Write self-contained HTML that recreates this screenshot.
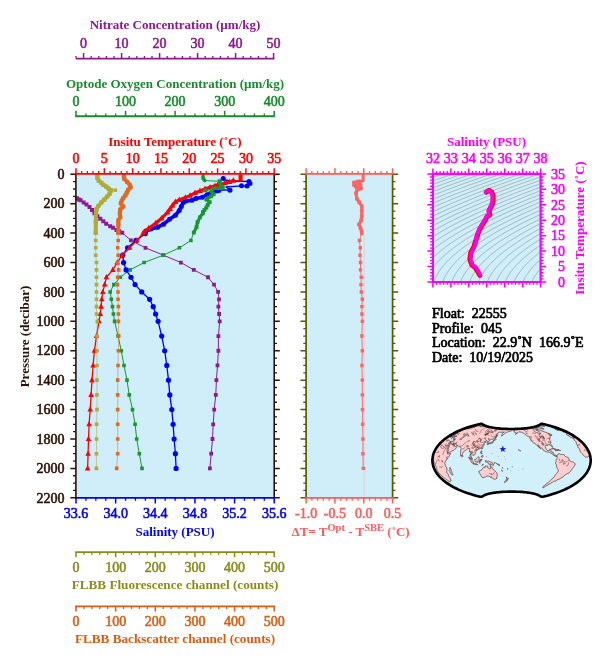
<!DOCTYPE html><html><head><meta charset="utf-8"><title>Float 22555 Profile 045</title>
<style>html,body{margin:0;padding:0;background:#fff;}svg{display:block;}text{font-family:'Liberation Serif', 'Times New Roman', serif;}</style></head><body>
<svg width="609" height="663" viewBox="0 0 609 663">
<rect width="609" height="663" fill="#ffffff"/>
<text x="175" y="29.2" fill="#8c1a8c" font-size="13" font-weight="bold" text-anchor="middle" >Nitrate Concentration (&#181;m/kg)</text>
<text x="83.6" y="48.3" fill="#8c1a8c" font-size="14" font-weight="normal" text-anchor="middle" stroke="#8c1a8c" stroke-width="0.55" >0</text>
<text x="121.6" y="48.3" fill="#8c1a8c" font-size="14" font-weight="normal" text-anchor="middle" stroke="#8c1a8c" stroke-width="0.55" >10</text>
<text x="159.6" y="48.3" fill="#8c1a8c" font-size="14" font-weight="normal" text-anchor="middle" stroke="#8c1a8c" stroke-width="0.55" >20</text>
<text x="197.6" y="48.3" fill="#8c1a8c" font-size="14" font-weight="normal" text-anchor="middle" stroke="#8c1a8c" stroke-width="0.55" >30</text>
<text x="235.6" y="48.3" fill="#8c1a8c" font-size="14" font-weight="normal" text-anchor="middle" stroke="#8c1a8c" stroke-width="0.55" >40</text>
<text x="273.6" y="48.3" fill="#8c1a8c" font-size="14" font-weight="normal" text-anchor="middle" stroke="#8c1a8c" stroke-width="0.55" >50</text>
<line x1="76" y1="58.6" x2="274.4" y2="58.6" stroke="#8c1a8c" stroke-width="1.9"/>
<path d="M83.6 58.6v-5.5M121.6 58.6v-5.5M159.6 58.6v-5.5M197.6 58.6v-5.5M235.6 58.6v-5.5M273.6 58.6v-5.5" stroke="#8c1a8c" stroke-width="1.5" fill="none"/>
<path d="M76 58.6v-2.6M91.2 58.6v-2.6M98.8 58.6v-2.6M106.4 58.6v-2.6M114 58.6v-2.6M129.2 58.6v-2.6M136.8 58.6v-2.6M144.4 58.6v-2.6M152 58.6v-2.6M167.2 58.6v-2.6M174.8 58.6v-2.6M182.4 58.6v-2.6M190 58.6v-2.6M205.2 58.6v-2.6M212.8 58.6v-2.6M220.4 58.6v-2.6M228 58.6v-2.6M243.2 58.6v-2.6M250.8 58.6v-2.6M258.4 58.6v-2.6M266 58.6v-2.6" stroke="#8c1a8c" stroke-width="1.3" fill="none"/>
<text x="175" y="87.6" fill="#188c2c" font-size="13" font-weight="bold" text-anchor="middle" >Optode Oxygen Concentration (&#181;m/kg)</text>
<text x="76" y="106.3" fill="#188c2c" font-size="14" font-weight="normal" text-anchor="middle" stroke="#188c2c" stroke-width="0.55" >0</text>
<text x="125.55" y="106.3" fill="#188c2c" font-size="14" font-weight="normal" text-anchor="middle" stroke="#188c2c" stroke-width="0.55" >100</text>
<text x="175.1" y="106.3" fill="#188c2c" font-size="14" font-weight="normal" text-anchor="middle" stroke="#188c2c" stroke-width="0.55" >200</text>
<text x="224.65" y="106.3" fill="#188c2c" font-size="14" font-weight="normal" text-anchor="middle" stroke="#188c2c" stroke-width="0.55" >300</text>
<text x="274.2" y="106.3" fill="#188c2c" font-size="14" font-weight="normal" text-anchor="middle" stroke="#188c2c" stroke-width="0.55" >400</text>
<line x1="75.2" y1="116.2" x2="275" y2="116.2" stroke="#188c2c" stroke-width="1.9"/>
<path d="M76 116.2v-5.5M125.55 116.2v-5.5M175.1 116.2v-5.5M224.65 116.2v-5.5M274.2 116.2v-5.5" stroke="#188c2c" stroke-width="1.5" fill="none"/>
<path d="M85.91 116.2v-2.6M95.82 116.2v-2.6M105.73 116.2v-2.6M115.64 116.2v-2.6M135.46 116.2v-2.6M145.37 116.2v-2.6M155.28 116.2v-2.6M165.19 116.2v-2.6M185.01 116.2v-2.6M194.92 116.2v-2.6M204.83 116.2v-2.6M214.74 116.2v-2.6M234.56 116.2v-2.6M244.47 116.2v-2.6M254.38 116.2v-2.6M264.29 116.2v-2.6" stroke="#188c2c" stroke-width="1.3" fill="none"/>
<text x="175" y="145.8" fill="#ff0000" font-size="13" font-weight="bold" text-anchor="middle" >Insitu Temperature (&#730;C)</text>
<text x="76" y="163.1" fill="#ff0000" font-size="14" font-weight="normal" text-anchor="middle" stroke="#ff0000" stroke-width="0.55" >0</text>
<text x="104.31" y="163.1" fill="#ff0000" font-size="14" font-weight="normal" text-anchor="middle" stroke="#ff0000" stroke-width="0.55" >5</text>
<text x="132.63" y="163.1" fill="#ff0000" font-size="14" font-weight="normal" text-anchor="middle" stroke="#ff0000" stroke-width="0.55" >10</text>
<text x="160.94" y="163.1" fill="#ff0000" font-size="14" font-weight="normal" text-anchor="middle" stroke="#ff0000" stroke-width="0.55" >15</text>
<text x="189.26" y="163.1" fill="#ff0000" font-size="14" font-weight="normal" text-anchor="middle" stroke="#ff0000" stroke-width="0.55" >20</text>
<text x="217.57" y="163.1" fill="#ff0000" font-size="14" font-weight="normal" text-anchor="middle" stroke="#ff0000" stroke-width="0.55" >25</text>
<text x="245.89" y="163.1" fill="#ff0000" font-size="14" font-weight="normal" text-anchor="middle" stroke="#ff0000" stroke-width="0.55" >30</text>
<text x="274.2" y="163.1" fill="#ff0000" font-size="14" font-weight="normal" text-anchor="middle" stroke="#ff0000" stroke-width="0.55" >35</text>
<rect x="76.0" y="173.8" width="198.2" height="324.1" fill="#cfeef9"/>
<g>
<polyline points="76.9,198.2 78.8,199.4 80.6,200.3 83.6,202.5 86.5,204.5 89.5,207 92,209.9 94.4,213.3 97.4,216.3 100.3,218.8 103.3,221.2 106.2,223.7 110.2,226.2 113.1,227.8 116.5,230 119.3,231.3 122.2,232.8 131,240.47 145.5,247.82 163.3,255.18 180.9,262.53 193.8,269.88 208,277.24 214,284.59 218.1,291.94 219,299.29 218.4,306.64 219.1,314 219.7,321.35 218.4,336.06 218.4,350.76 217.5,365.47 216.4,380.17 215.8,394.88 214.2,409.58 213.2,424.28 212.5,438.99 211.2,453.69 209.9,468.4" fill="none" stroke="#8e1a92" stroke-width="1.0" stroke-linejoin="round" stroke-linecap="round" opacity="1.0"/>
<path d="M74.9 196.2h4v4h-4zM76.8 197.4h4v4h-4zM78.6 198.3h4v4h-4zM81.6 200.5h4v4h-4zM84.5 202.5h4v4h-4zM87.5 205h4v4h-4zM90 207.9h4v4h-4zM92.4 211.3h4v4h-4zM95.4 214.3h4v4h-4zM98.3 216.8h4v4h-4zM101.3 219.2h4v4h-4zM104.2 221.7h4v4h-4zM108.2 224.2h4v4h-4zM111.1 225.8h4v4h-4zM114.5 228h4v4h-4zM117.3 229.3h4v4h-4zM120.2 230.8h4v4h-4z" fill="#8e1a92"/>
<path d="M129.1 238.57h3.8v3.8h-3.8zM143.6 245.92h3.8v3.8h-3.8zM161.4 253.28h3.8v3.8h-3.8zM179 260.63h3.8v3.8h-3.8zM191.9 267.98h3.8v3.8h-3.8zM206.1 275.34h3.8v3.8h-3.8zM212.1 282.69h3.8v3.8h-3.8zM216.2 290.04h3.8v3.8h-3.8zM217.1 297.39h3.8v3.8h-3.8zM216.5 304.75h3.8v3.8h-3.8zM217.2 312.1h3.8v3.8h-3.8zM217.8 319.45h3.8v3.8h-3.8zM216.5 334.16h3.8v3.8h-3.8zM216.5 348.86h3.8v3.8h-3.8zM215.6 363.57h3.8v3.8h-3.8zM214.5 378.27h3.8v3.8h-3.8zM213.9 392.98h3.8v3.8h-3.8zM212.3 407.68h3.8v3.8h-3.8zM211.3 422.38h3.8v3.8h-3.8zM210.6 437.09h3.8v3.8h-3.8zM209.3 451.8h3.8v3.8h-3.8zM208 466.5h3.8v3.8h-3.8z" fill="#8e1a92"/>
<polyline points="193.8,232.6 190.9,240.47 179.4,247.82 163.3,255.18 144.1,262.53 130.2,269.88 120.3,277.24 113.8,284.59 110.2,291.94 111.3,299.29 112.5,306.64 113.4,314 114.6,321.35 118,336.06 121.3,350.76 124,365.47 127,380.17 129.2,394.88 132.5,409.58 135.1,424.28 136.7,438.99 139.3,453.69 142,468.4" fill="none" stroke="#1a9630" stroke-width="1.0" stroke-linejoin="round" stroke-linecap="round" opacity="1.0"/>
<path d="M189.1 238.67h3.6v3.6h-3.6zM177.6 246.02h3.6v3.6h-3.6zM161.5 253.38h3.6v3.6h-3.6zM142.3 260.73h3.6v3.6h-3.6zM128.4 268.08h3.6v3.6h-3.6zM118.5 275.44h3.6v3.6h-3.6zM112 282.79h3.6v3.6h-3.6zM108.4 290.14h3.6v3.6h-3.6zM109.5 297.49h3.6v3.6h-3.6zM110.7 304.84h3.6v3.6h-3.6zM111.6 312.2h3.6v3.6h-3.6zM112.8 319.55h3.6v3.6h-3.6zM116.2 334.25h3.6v3.6h-3.6zM119.5 348.96h3.6v3.6h-3.6zM122.2 363.67h3.6v3.6h-3.6zM125.2 378.37h3.6v3.6h-3.6zM127.4 393.07h3.6v3.6h-3.6zM130.7 407.78h3.6v3.6h-3.6zM133.3 422.48h3.6v3.6h-3.6zM134.9 437.19h3.6v3.6h-3.6zM137.5 451.89h3.6v3.6h-3.6zM140.2 466.6h3.6v3.6h-3.6z" fill="#1a9630"/>
<polyline points="222.6,176.5 223.5,179.5 228,180.5 232,181 249,181.5 250,183.5 247,186 241.5,185.8 226,187 230,190.2 224,190 218.9,190.4 216.9,191 211.7,192.7 207.1,194.7 202.5,197.3 195.9,198.6 192,200.2 186.2,201 183.3,202.5 181.3,206.5 179.3,210.4 175.4,215.3 169.5,219.3 163.6,224.2 157.7,227.2 150.8,229.1 145.9,231.1 145.3,233.8 136,240.47 127.6,247.82 122.7,255.18 123.6,262.53 126.1,269.88 131,277.24 135.1,284.59 141.7,291.94 149.6,299.29 153.2,306.64 155.6,314 158.1,321.35 161.7,336.06 164.7,350.76 166.8,365.47 168.5,380.17 169.8,394.88 171.8,409.58 173.1,424.28 174.1,438.99 175.4,453.69 176.1,468.4" fill="none" stroke="#0000ff" stroke-width="1.3" stroke-linejoin="round" stroke-linecap="round" opacity="1.0"/>
<polyline points="218.9,190.4 216.9,191 211.7,192.7 207.1,194.7 202.5,197.3 195.9,198.6 192,200.2 186.2,201 183.3,202.5 181.3,206.5 179.3,210.4 175.4,215.3 169.5,219.3 163.6,224.2 157.7,227.2 150.8,229.1 145.9,231.1 145.3,233.8" fill="none" stroke="#0000ff" stroke-width="3.6" stroke-linejoin="round" stroke-linecap="round" opacity="1.0"/>
<circle cx="249" cy="181.5" r="2.5" fill="#0000ff"/>
<circle cx="250" cy="183.5" r="2.5" fill="#0000ff"/>
<circle cx="247" cy="186" r="2.5" fill="#0000ff"/>
<circle cx="241.5" cy="185.8" r="2.5" fill="#0000ff"/>
<circle cx="230" cy="190.2" r="2.5" fill="#0000ff"/>
<circle cx="223.2" cy="178.5" r="2.5" fill="#0000ff"/>
<circle cx="218.9" cy="190.4" r="2.5" fill="#0000ff"/>
<circle cx="216.9" cy="191" r="2.5" fill="#0000ff"/>
<circle cx="211.7" cy="192.7" r="2.5" fill="#0000ff"/>
<circle cx="207.1" cy="194.7" r="2.5" fill="#0000ff"/>
<circle cx="202.5" cy="197.3" r="2.5" fill="#0000ff"/>
<circle cx="195.9" cy="198.6" r="2.5" fill="#0000ff"/>
<circle cx="192" cy="200.2" r="2.5" fill="#0000ff"/>
<circle cx="186.2" cy="201" r="2.5" fill="#0000ff"/>
<circle cx="183.3" cy="202.5" r="2.5" fill="#0000ff"/>
<circle cx="181.3" cy="206.5" r="2.5" fill="#0000ff"/>
<circle cx="179.3" cy="210.4" r="2.5" fill="#0000ff"/>
<circle cx="175.4" cy="215.3" r="2.5" fill="#0000ff"/>
<circle cx="169.5" cy="219.3" r="2.5" fill="#0000ff"/>
<circle cx="163.6" cy="224.2" r="2.5" fill="#0000ff"/>
<circle cx="157.7" cy="227.2" r="2.5" fill="#0000ff"/>
<circle cx="150.8" cy="229.1" r="2.5" fill="#0000ff"/>
<circle cx="145.9" cy="231.1" r="2.5" fill="#0000ff"/>
<circle cx="145.3" cy="233.8" r="2.5" fill="#0000ff"/>
<circle cx="136" cy="240.47" r="2.6" fill="#0000ff"/>
<circle cx="127.6" cy="247.82" r="2.6" fill="#0000ff"/>
<circle cx="122.7" cy="255.18" r="2.6" fill="#0000ff"/>
<circle cx="123.6" cy="262.53" r="2.6" fill="#0000ff"/>
<circle cx="126.1" cy="269.88" r="2.6" fill="#0000ff"/>
<circle cx="131" cy="277.24" r="2.6" fill="#0000ff"/>
<circle cx="135.1" cy="284.59" r="2.6" fill="#0000ff"/>
<circle cx="141.7" cy="291.94" r="2.6" fill="#0000ff"/>
<circle cx="149.6" cy="299.29" r="2.6" fill="#0000ff"/>
<circle cx="153.2" cy="306.64" r="2.6" fill="#0000ff"/>
<circle cx="155.6" cy="314" r="2.6" fill="#0000ff"/>
<circle cx="158.1" cy="321.35" r="2.6" fill="#0000ff"/>
<circle cx="161.7" cy="336.06" r="2.6" fill="#0000ff"/>
<circle cx="164.7" cy="350.76" r="2.6" fill="#0000ff"/>
<circle cx="166.8" cy="365.47" r="2.6" fill="#0000ff"/>
<circle cx="168.5" cy="380.17" r="2.6" fill="#0000ff"/>
<circle cx="169.8" cy="394.88" r="2.6" fill="#0000ff"/>
<circle cx="171.8" cy="409.58" r="2.6" fill="#0000ff"/>
<circle cx="173.1" cy="424.28" r="2.6" fill="#0000ff"/>
<circle cx="174.1" cy="438.99" r="2.6" fill="#0000ff"/>
<circle cx="175.4" cy="453.69" r="2.6" fill="#0000ff"/>
<circle cx="176.1" cy="468.4" r="2.6" fill="#0000ff"/>
<polyline points="240.5,175.5 240.5,178 240.5,180.8 233.4,180.6 229.4,181.9 224.8,183.2 217.6,185.1 215,185.8 210,187.3 205,189 200,191 195,193 190,195.6 185.3,197.6 179.3,199.9 175.4,202 172.5,205.5 170,209 167.5,212.4 161.6,218.3 155.7,223.2 148.8,228.2 143.3,232.8 136.9,240.47 129.6,247.82 122.2,255.18 117.2,262.53 112.8,269.88 106.4,277.24 104.7,284.59 102.8,291.94 101.8,299.29 101.1,306.64 100.3,314 99,321.35 96.5,336.06 94.4,350.76 93.1,365.47 92,380.17 91.1,394.88 90.2,409.58 89.1,424.28 88.5,438.99 88.1,453.69 87.6,468.4" fill="none" stroke="#ff0000" stroke-width="1.3" stroke-linejoin="round" stroke-linecap="round" opacity="1.0"/>
<polyline points="233.4,180.6 229.4,181.9 224.8,183.2 217.6,185.1 215,185.8 210,187.3 205,189 200,191 195,193 190,195.6 185.3,197.6 179.3,199.9 175.4,202 172.5,205.5 170,209 167.5,212.4 161.6,218.3 155.7,223.2 148.8,228.2 143.3,232.8" fill="none" stroke="#ff0000" stroke-width="3.2" stroke-linejoin="round" stroke-linecap="round" opacity="1.0"/>
<rect x="238.6" y="174.6" width="4" height="7" fill="#ff0000"/>
<path d="M233.4 177.18L236.3 182.69L230.5 182.69zM229.4 178.48L232.3 183.99L226.5 183.99zM224.8 179.78L227.7 185.29L221.9 185.29zM217.6 181.68L220.5 187.19L214.7 187.19zM215 182.38L217.9 187.89L212.1 187.89zM210 183.88L212.9 189.39L207.1 189.39zM205 185.58L207.9 191.09L202.1 191.09zM200 187.58L202.9 193.09L197.1 193.09zM195 189.58L197.9 195.09L192.1 195.09zM190 192.18L192.9 197.69L187.1 197.69zM185.3 194.18L188.2 199.69L182.4 199.69zM179.3 196.48L182.2 201.99L176.4 201.99zM175.4 198.58L178.3 204.09L172.5 204.09zM172.5 202.08L175.4 207.59L169.6 207.59zM170 205.58L172.9 211.09L167.1 211.09zM167.5 208.98L170.4 214.49L164.6 214.49zM161.6 214.88L164.5 220.39L158.7 220.39zM155.7 219.78L158.6 225.29L152.8 225.29zM148.8 224.78L151.7 230.29L145.9 230.29zM143.3 229.38L146.2 234.89L140.4 234.89z" fill="#ff0000"/>
<path d="M136.9 237.17L139.7 242.49L134.1 242.49zM129.6 244.53L132.4 249.85L126.8 249.85zM122.2 251.88L125 257.2L119.4 257.2zM117.2 259.23L120 264.55L114.4 264.55zM112.8 266.58L115.6 271.9L110 271.9zM106.4 273.94L109.2 279.26L103.6 279.26zM104.7 281.29L107.5 286.61L101.9 286.61zM102.8 288.64L105.6 293.96L100 293.96zM101.8 295.99L104.6 301.31L99 301.31zM101.1 303.35L103.9 308.67L98.3 308.67zM100.3 310.7L103.1 316.02L97.5 316.02zM99 318.05L101.8 323.37L96.2 323.37zM96.5 332.76L99.3 338.08L93.7 338.08zM94.4 347.46L97.2 352.78L91.6 352.78zM93.1 362.17L95.9 367.49L90.3 367.49zM92 376.87L94.8 382.19L89.2 382.19zM91.1 391.58L93.9 396.9L88.3 396.9zM90.2 406.28L93 411.6L87.4 411.6zM89.1 420.99L91.9 426.31L86.3 426.31zM88.5 435.69L91.3 441.01L85.7 441.01zM88.1 450.4L90.9 455.72L85.3 455.72zM87.6 465.1L90.4 470.42L84.8 470.42z" fill="#ff0000"/>
<polyline points="203.1,175.9 203.1,178.6 204.8,180.5" fill="none" stroke="#1a9630" stroke-width="3.6" stroke-linejoin="round" stroke-linecap="round" opacity="1.0"/>
<polyline points="203.1,175.9 203.1,178.6 204.8,180.5 212,181 219.6,181.2 219.9,182.5 220.9,185.1 222.8,187.1 219.9,188.4 213.6,188.4 205.1,190.4 211.7,191.7 213.6,194.3 211,196.3 207.4,198.3 206.4,199.6 209.7,202.2 207.7,204.8 206.4,207.5 204.4,210.1 203.1,212 202.9,213.3 199.9,217.3 197.5,222.2 196.5,227.1 193.8,232.6" fill="none" stroke="#1a9630" stroke-width="1.0" stroke-linejoin="round" stroke-linecap="round" opacity="1.0"/>
<polyline points="219.6,181.2 219.9,182.5 220.9,185.1 222.8,187.1 219.9,188.4 213.6,188.4" fill="none" stroke="#1a9630" stroke-width="3.2" stroke-linejoin="round" stroke-linecap="round" opacity="1.0"/>
<polyline points="211.7,191.7 213.6,194.3 211,196.3 207.4,198.3 206.4,199.6 209.7,202.2 207.7,204.8 206.4,207.5 204.4,210.1 203.1,212 202.9,213.3 199.9,217.3 197.5,222.2 196.5,227.1 193.8,232.6" fill="none" stroke="#1a9630" stroke-width="3.2" stroke-linejoin="round" stroke-linecap="round" opacity="1.0"/>
<path d="M217.7 179.3h3.8v3.8h-3.8zM218 180.6h3.8v3.8h-3.8zM219 183.2h3.8v3.8h-3.8zM220.9 185.2h3.8v3.8h-3.8zM218 186.5h3.8v3.8h-3.8zM211.7 186.5h3.8v3.8h-3.8zM203.2 188.5h3.8v3.8h-3.8zM209.8 189.8h3.8v3.8h-3.8zM211.7 192.4h3.8v3.8h-3.8zM209.1 194.4h3.8v3.8h-3.8zM205.5 196.4h3.8v3.8h-3.8zM204.5 197.7h3.8v3.8h-3.8zM207.8 200.3h3.8v3.8h-3.8zM205.8 202.9h3.8v3.8h-3.8zM204.5 205.6h3.8v3.8h-3.8zM202.5 208.2h3.8v3.8h-3.8zM201.2 210.1h3.8v3.8h-3.8zM201 211.4h3.8v3.8h-3.8zM198 215.4h3.8v3.8h-3.8zM195.6 220.3h3.8v3.8h-3.8zM194.6 225.2h3.8v3.8h-3.8zM191.9 230.7h3.8v3.8h-3.8z" fill="#1a9630"/>
<polyline points="97.4,175.4 97.4,177.9 98.8,180.8 101.3,182.8 103.3,184.8 106.2,186.7 108.7,188.7 111.2,190.4 109.7,193.6 107.2,196.6 104.3,199.6 101.3,202.5 98.3,206 96.4,209.4 95.9,214.3 95.8,222 95.7,233 95.7,240.47 95.7,247.82 95.7,255.18 96.5,262.53 96.5,269.88 96.5,277.24 96.5,284.59 96.5,291.94 96.5,299.29 96.5,306.64 96.5,314 97.3,321.35 97,336.06 97,350.76 97,365.47 97,380.17 97,394.88 97,409.58 96.6,424.28 96.6,438.99 96.4,453.69 96.4,468.4" fill="none" stroke="#b2aa36" stroke-width="1.0" stroke-linejoin="round" stroke-linecap="round" opacity="0.55"/>
<polyline points="97.4,175.4 97.4,177.9 98.8,180.8 101.3,182.8 103.3,184.8 106.2,186.7 108.7,188.7 111.2,190.4 109.7,193.6 107.2,196.6 104.3,199.6 101.3,202.5 98.3,206 96.4,209.4 95.9,214.3 95.8,222 95.7,233" fill="none" stroke="#b2aa36" stroke-width="4.0" stroke-linejoin="round" stroke-linecap="round" opacity="1.0"/>
<path d="M95.3 173.3h4.2v4.2h-4.2zM95.3 175.8h4.2v4.2h-4.2zM96.7 178.7h4.2v4.2h-4.2zM99.2 180.7h4.2v4.2h-4.2zM101.2 182.7h4.2v4.2h-4.2zM104.1 184.6h4.2v4.2h-4.2zM106.6 186.6h4.2v4.2h-4.2zM109.1 188.3h4.2v4.2h-4.2zM107.6 191.5h4.2v4.2h-4.2zM105.1 194.5h4.2v4.2h-4.2zM102.2 197.5h4.2v4.2h-4.2zM99.2 200.4h4.2v4.2h-4.2zM96.2 203.9h4.2v4.2h-4.2zM94.3 207.3h4.2v4.2h-4.2zM93.8 212.2h4.2v4.2h-4.2zM93.7 219.9h4.2v4.2h-4.2zM93.6 230.9h4.2v4.2h-4.2z" fill="#b2aa36"/>
<polyline points="111.2,190.4 115.4,190.2" fill="none" stroke="#b2aa36" stroke-width="1.0" stroke-linejoin="round" stroke-linecap="round" opacity="1.0"/>
<path d="M113.7 188.5h3.4v3.4h-3.4z" fill="#b2aa36"/>
<path d="M93.9 238.67h3.6v3.6h-3.6zM93.9 246.02h3.6v3.6h-3.6zM93.9 253.38h3.6v3.6h-3.6zM94.7 260.73h3.6v3.6h-3.6zM94.7 268.08h3.6v3.6h-3.6zM94.7 275.44h3.6v3.6h-3.6zM94.7 282.79h3.6v3.6h-3.6zM94.7 290.14h3.6v3.6h-3.6zM94.7 297.49h3.6v3.6h-3.6zM94.7 304.84h3.6v3.6h-3.6zM94.7 312.2h3.6v3.6h-3.6zM95.5 319.55h3.6v3.6h-3.6zM95.2 334.25h3.6v3.6h-3.6zM95.2 348.96h3.6v3.6h-3.6zM95.2 363.67h3.6v3.6h-3.6zM95.2 378.37h3.6v3.6h-3.6zM95.2 393.07h3.6v3.6h-3.6zM95.2 407.78h3.6v3.6h-3.6zM94.8 422.48h3.6v3.6h-3.6zM94.8 437.19h3.6v3.6h-3.6zM94.6 451.89h3.6v3.6h-3.6zM94.6 466.6h3.6v3.6h-3.6z" fill="#b2aa36"/>
<polyline points="123.8,175.9 124.3,178.9 127.2,181.9 129.7,184.8 130.7,187.3 128.2,189.7 126.7,192.7 125.3,195.6 123.3,198.1 121.8,200.6 120.8,203.5 123.3,206.5 120.3,209.4 119.8,213.4 120.3,217.3 118.4,220.3 118.4,224.2 118.2,233 118.2,240.47 117.7,247.82 118.2,255.18 117.7,262.53 118.7,269.88 117.7,277.24 117.4,284.59 118,291.94 118,299.29 118.4,306.64 118.4,314 118.4,321.35 118.7,336.06 118.4,350.76 118,365.47 117.7,380.17 117.7,394.88 117.7,409.58 117.7,424.28 117.7,438.99 117.7,453.69 116.7,468.4" fill="none" stroke="#e06a1e" stroke-width="1.0" stroke-linejoin="round" stroke-linecap="round" opacity="0.5"/>
<polyline points="123.8,175.9 124.3,178.9 127.2,181.9 129.7,184.8 130.7,187.3 128.2,189.7 126.7,192.7 125.3,195.6 123.3,198.1 121.8,200.6 120.8,203.5 123.3,206.5 120.3,209.4 119.8,213.4 120.3,217.3 118.4,220.3 118.4,224.2 118.2,233" fill="none" stroke="#e06a1e" stroke-width="4.0" stroke-linejoin="round" stroke-linecap="round" opacity="1.0"/>
<path d="M121.8 173.9h4v4h-4zM122.3 176.9h4v4h-4zM125.2 179.9h4v4h-4zM127.7 182.8h4v4h-4zM128.7 185.3h4v4h-4zM126.2 187.7h4v4h-4zM124.7 190.7h4v4h-4zM123.3 193.6h4v4h-4zM121.3 196.1h4v4h-4zM119.8 198.6h4v4h-4zM118.8 201.5h4v4h-4zM121.3 204.5h4v4h-4zM118.3 207.4h4v4h-4zM117.8 211.4h4v4h-4zM118.3 215.3h4v4h-4zM116.4 218.3h4v4h-4zM116.4 222.2h4v4h-4zM116.2 231h4v4h-4z" fill="#e06a1e"/>
<path d="M116.4 238.67h3.6v3.6h-3.6zM115.9 246.02h3.6v3.6h-3.6zM116.4 253.38h3.6v3.6h-3.6zM115.9 260.73h3.6v3.6h-3.6zM116.9 268.08h3.6v3.6h-3.6zM115.9 275.44h3.6v3.6h-3.6zM115.6 282.79h3.6v3.6h-3.6zM116.2 290.14h3.6v3.6h-3.6zM116.2 297.49h3.6v3.6h-3.6zM116.6 304.84h3.6v3.6h-3.6zM116.6 312.2h3.6v3.6h-3.6zM116.6 319.55h3.6v3.6h-3.6zM116.9 334.25h3.6v3.6h-3.6zM116.6 348.96h3.6v3.6h-3.6zM116.2 363.67h3.6v3.6h-3.6zM115.9 378.37h3.6v3.6h-3.6zM115.9 393.07h3.6v3.6h-3.6zM115.9 407.78h3.6v3.6h-3.6zM115.9 422.48h3.6v3.6h-3.6zM115.9 437.19h3.6v3.6h-3.6zM115.9 451.89h3.6v3.6h-3.6zM114.9 466.6h3.6v3.6h-3.6z" fill="#e06a1e"/>
</g>
<line x1="75.9" y1="173" x2="75.9" y2="498.7" stroke="#2b1204" stroke-width="1.6"/>
<path d="M75.9 174.3h-5.6M75.9 203.71h-5.6M75.9 233.12h-5.6M75.9 262.53h-5.6M75.9 291.94h-5.6M75.9 321.35h-5.6M75.9 350.76h-5.6M75.9 380.17h-5.6M75.9 409.58h-5.6M75.9 438.99h-5.6M75.9 468.4h-5.6M75.9 497.81h-5.6" stroke="#2b1204" stroke-width="1.5" fill="none"/>
<path d="M75.9 181.65h-2.8M75.9 189h-2.8M75.9 196.36h-2.8M75.9 211.06h-2.8M75.9 218.42h-2.8M75.9 225.77h-2.8M75.9 240.47h-2.8M75.9 247.82h-2.8M75.9 255.18h-2.8M75.9 269.88h-2.8M75.9 277.24h-2.8M75.9 284.59h-2.8M75.9 299.29h-2.8M75.9 306.64h-2.8M75.9 314h-2.8M75.9 328.7h-2.8M75.9 336.06h-2.8M75.9 343.41h-2.8M75.9 358.11h-2.8M75.9 365.47h-2.8M75.9 372.82h-2.8M75.9 387.52h-2.8M75.9 394.88h-2.8M75.9 402.23h-2.8M75.9 416.93h-2.8M75.9 424.28h-2.8M75.9 431.64h-2.8M75.9 446.34h-2.8M75.9 453.69h-2.8M75.9 461.05h-2.8M75.9 475.75h-2.8M75.9 483.1h-2.8M75.9 490.46h-2.8" stroke="#2b1204" stroke-width="1.3" fill="none"/>
<line x1="274.2" y1="173" x2="274.2" y2="498.7" stroke="#2b1204" stroke-width="1.6"/>
<path d="M274.2 174.3h5.6M274.2 203.71h5.6M274.2 233.12h5.6M274.2 262.53h5.6M274.2 291.94h5.6M274.2 321.35h5.6M274.2 350.76h5.6M274.2 380.17h5.6M274.2 409.58h5.6M274.2 438.99h5.6M274.2 468.4h5.6M274.2 497.81h5.6" stroke="#2b1204" stroke-width="1.5" fill="none"/>
<path d="M274.2 181.65h2.8M274.2 189h2.8M274.2 196.36h2.8M274.2 211.06h2.8M274.2 218.42h2.8M274.2 225.77h2.8M274.2 240.47h2.8M274.2 247.82h2.8M274.2 255.18h2.8M274.2 269.88h2.8M274.2 277.24h2.8M274.2 284.59h2.8M274.2 299.29h2.8M274.2 306.64h2.8M274.2 314h2.8M274.2 328.7h2.8M274.2 336.06h2.8M274.2 343.41h2.8M274.2 358.11h2.8M274.2 365.47h2.8M274.2 372.82h2.8M274.2 387.52h2.8M274.2 394.88h2.8M274.2 402.23h2.8M274.2 416.93h2.8M274.2 424.28h2.8M274.2 431.64h2.8M274.2 446.34h2.8M274.2 453.69h2.8M274.2 461.05h2.8M274.2 475.75h2.8M274.2 483.1h2.8M274.2 490.46h2.8" stroke="#2b1204" stroke-width="1.3" fill="none"/>
<text x="64.6" y="179" fill="#2b1204" font-size="14" font-weight="normal" text-anchor="end" stroke="#2b1204" stroke-width="0.55" >0</text>
<text x="64.6" y="208.41" fill="#2b1204" font-size="14" font-weight="normal" text-anchor="end" stroke="#2b1204" stroke-width="0.55" >200</text>
<text x="64.6" y="237.82" fill="#2b1204" font-size="14" font-weight="normal" text-anchor="end" stroke="#2b1204" stroke-width="0.55" >400</text>
<text x="64.6" y="267.23" fill="#2b1204" font-size="14" font-weight="normal" text-anchor="end" stroke="#2b1204" stroke-width="0.55" >600</text>
<text x="64.6" y="296.64" fill="#2b1204" font-size="14" font-weight="normal" text-anchor="end" stroke="#2b1204" stroke-width="0.55" >800</text>
<text x="64.6" y="326.05" fill="#2b1204" font-size="14" font-weight="normal" text-anchor="end" stroke="#2b1204" stroke-width="0.55" >1000</text>
<text x="64.6" y="355.46" fill="#2b1204" font-size="14" font-weight="normal" text-anchor="end" stroke="#2b1204" stroke-width="0.55" >1200</text>
<text x="64.6" y="384.87" fill="#2b1204" font-size="14" font-weight="normal" text-anchor="end" stroke="#2b1204" stroke-width="0.55" >1400</text>
<text x="64.6" y="414.28" fill="#2b1204" font-size="14" font-weight="normal" text-anchor="end" stroke="#2b1204" stroke-width="0.55" >1600</text>
<text x="64.6" y="443.69" fill="#2b1204" font-size="14" font-weight="normal" text-anchor="end" stroke="#2b1204" stroke-width="0.55" >1800</text>
<text x="64.6" y="473.1" fill="#2b1204" font-size="14" font-weight="normal" text-anchor="end" stroke="#2b1204" stroke-width="0.55" >2000</text>
<text x="64.6" y="502.51" fill="#2b1204" font-size="14" font-weight="normal" text-anchor="end" stroke="#2b1204" stroke-width="0.55" >2200</text>
<text x="0" y="0" fill="#2b1204" font-size="13" font-weight="bold" text-anchor="middle" transform="translate(28.6,336.5) rotate(-90)">Pressure (decibar)</text>
<line x1="75.2" y1="173.8" x2="275" y2="173.8" stroke="#ff0000" stroke-width="1.7"/>
<path d="M76 173.8v-5.6M104.31 173.8v-5.6M132.63 173.8v-5.6M160.94 173.8v-5.6M189.26 173.8v-5.6M217.57 173.8v-5.6M245.89 173.8v-5.6M274.2 173.8v-5.6" stroke="#ff0000" stroke-width="1.5" fill="none"/>
<path d="M81.66 173.8v-2.8M87.33 173.8v-2.8M92.99 173.8v-2.8M98.65 173.8v-2.8M109.98 173.8v-2.8M115.64 173.8v-2.8M121.3 173.8v-2.8M126.97 173.8v-2.8M138.29 173.8v-2.8M143.95 173.8v-2.8M149.62 173.8v-2.8M155.28 173.8v-2.8M166.61 173.8v-2.8M172.27 173.8v-2.8M177.93 173.8v-2.8M183.59 173.8v-2.8M194.92 173.8v-2.8M200.58 173.8v-2.8M206.25 173.8v-2.8M211.91 173.8v-2.8M223.23 173.8v-2.8M228.9 173.8v-2.8M234.56 173.8v-2.8M240.22 173.8v-2.8M251.55 173.8v-2.8M257.21 173.8v-2.8M262.87 173.8v-2.8M268.54 173.8v-2.8" stroke="#ff0000" stroke-width="1.3" fill="none"/>
<line x1="75.2" y1="497.9" x2="275" y2="497.9" stroke="#0000ff" stroke-width="1.7"/>
<path d="M76 497.9v5.6M115.64 497.9v5.6M155.28 497.9v5.6M194.92 497.9v5.6M234.56 497.9v5.6M274.2 497.9v5.6" stroke="#0000ff" stroke-width="1.5" fill="none"/>
<path d="M85.91 497.9v2.8M95.82 497.9v2.8M105.73 497.9v2.8M125.55 497.9v2.8M135.46 497.9v2.8M145.37 497.9v2.8M165.19 497.9v2.8M175.1 497.9v2.8M185.01 497.9v2.8M204.83 497.9v2.8M214.74 497.9v2.8M224.65 497.9v2.8M244.47 497.9v2.8M254.38 497.9v2.8M264.29 497.9v2.8" stroke="#0000ff" stroke-width="1.3" fill="none"/>
<text x="76" y="518.2" fill="#0000ff" font-size="14" font-weight="normal" text-anchor="middle" stroke="#0000ff" stroke-width="0.55" >33.6</text>
<text x="115.64" y="518.2" fill="#0000ff" font-size="14" font-weight="normal" text-anchor="middle" stroke="#0000ff" stroke-width="0.55" >34.0</text>
<text x="155.28" y="518.2" fill="#0000ff" font-size="14" font-weight="normal" text-anchor="middle" stroke="#0000ff" stroke-width="0.55" >34.4</text>
<text x="194.92" y="518.2" fill="#0000ff" font-size="14" font-weight="normal" text-anchor="middle" stroke="#0000ff" stroke-width="0.55" >34.8</text>
<text x="234.56" y="518.2" fill="#0000ff" font-size="14" font-weight="normal" text-anchor="middle" stroke="#0000ff" stroke-width="0.55" >35.2</text>
<text x="274.2" y="518.2" fill="#0000ff" font-size="14" font-weight="normal" text-anchor="middle" stroke="#0000ff" stroke-width="0.55" >35.6</text>
<text x="175" y="536" fill="#0000ff" font-size="13" font-weight="bold" text-anchor="middle" >Salinity (PSU)</text>
<line x1="75.2" y1="552.1" x2="275" y2="552.1" stroke="#8c8c1c" stroke-width="1.9"/>
<path d="M76 552.1v5.2M115.64 552.1v5.2M155.28 552.1v5.2M194.92 552.1v5.2M234.56 552.1v5.2M274.2 552.1v5.2" stroke="#8c8c1c" stroke-width="1.5" fill="none"/>
<path d="M83.93 552.1v2.6M91.86 552.1v2.6M99.78 552.1v2.6M107.71 552.1v2.6M123.57 552.1v2.6M131.5 552.1v2.6M139.42 552.1v2.6M147.35 552.1v2.6M163.21 552.1v2.6M171.14 552.1v2.6M179.06 552.1v2.6M186.99 552.1v2.6M202.85 552.1v2.6M210.78 552.1v2.6M218.7 552.1v2.6M226.63 552.1v2.6M242.49 552.1v2.6M250.42 552.1v2.6M258.34 552.1v2.6M266.27 552.1v2.6" stroke="#8c8c1c" stroke-width="1.3" fill="none"/>
<text x="76" y="572.1" fill="#8c8c1c" font-size="14" font-weight="normal" text-anchor="middle" stroke="#8c8c1c" stroke-width="0.55" >0</text>
<text x="115.64" y="572.1" fill="#8c8c1c" font-size="14" font-weight="normal" text-anchor="middle" stroke="#8c8c1c" stroke-width="0.55" >100</text>
<text x="155.28" y="572.1" fill="#8c8c1c" font-size="14" font-weight="normal" text-anchor="middle" stroke="#8c8c1c" stroke-width="0.55" >200</text>
<text x="194.92" y="572.1" fill="#8c8c1c" font-size="14" font-weight="normal" text-anchor="middle" stroke="#8c8c1c" stroke-width="0.55" >300</text>
<text x="234.56" y="572.1" fill="#8c8c1c" font-size="14" font-weight="normal" text-anchor="middle" stroke="#8c8c1c" stroke-width="0.55" >400</text>
<text x="274.2" y="572.1" fill="#8c8c1c" font-size="14" font-weight="normal" text-anchor="middle" stroke="#8c8c1c" stroke-width="0.55" >500</text>
<text x="175" y="589.4" fill="#8c8c1c" font-size="13.2" font-weight="bold" text-anchor="middle" >FLBB Fluorescence channel (counts)</text>
<line x1="75.2" y1="606.4" x2="275" y2="606.4" stroke="#d85e14" stroke-width="1.9"/>
<path d="M76 606.4v5.2M115.64 606.4v5.2M155.28 606.4v5.2M194.92 606.4v5.2M234.56 606.4v5.2M274.2 606.4v5.2" stroke="#d85e14" stroke-width="1.5" fill="none"/>
<path d="M83.93 606.4v2.6M91.86 606.4v2.6M99.78 606.4v2.6M107.71 606.4v2.6M123.57 606.4v2.6M131.5 606.4v2.6M139.42 606.4v2.6M147.35 606.4v2.6M163.21 606.4v2.6M171.14 606.4v2.6M179.06 606.4v2.6M186.99 606.4v2.6M202.85 606.4v2.6M210.78 606.4v2.6M218.7 606.4v2.6M226.63 606.4v2.6M242.49 606.4v2.6M250.42 606.4v2.6M258.34 606.4v2.6M266.27 606.4v2.6" stroke="#d85e14" stroke-width="1.3" fill="none"/>
<text x="76" y="626.1" fill="#d85e14" font-size="14" font-weight="normal" text-anchor="middle" stroke="#d85e14" stroke-width="0.55" >0</text>
<text x="115.64" y="626.1" fill="#d85e14" font-size="14" font-weight="normal" text-anchor="middle" stroke="#d85e14" stroke-width="0.55" >100</text>
<text x="155.28" y="626.1" fill="#d85e14" font-size="14" font-weight="normal" text-anchor="middle" stroke="#d85e14" stroke-width="0.55" >200</text>
<text x="194.92" y="626.1" fill="#d85e14" font-size="14" font-weight="normal" text-anchor="middle" stroke="#d85e14" stroke-width="0.55" >300</text>
<text x="234.56" y="626.1" fill="#d85e14" font-size="14" font-weight="normal" text-anchor="middle" stroke="#d85e14" stroke-width="0.55" >400</text>
<text x="274.2" y="626.1" fill="#d85e14" font-size="14" font-weight="normal" text-anchor="middle" stroke="#d85e14" stroke-width="0.55" >500</text>
<text x="175" y="643.4" fill="#d85e14" font-size="13.2" font-weight="bold" text-anchor="middle" >FLBB Backscatter channel (counts)</text>
<rect x="306.1" y="173.8" width="86.5" height="324.1" fill="#cfeef9"/>
<line x1="364.17" y1="236" x2="364.17" y2="497.9" stroke="#ecbcc4" stroke-width="0.6"/>
<polyline points="363,175.3 363.2,178 363.2,180.7 358,181.5 354,182.5 354,185 357,186.5 360.5,186 361,188.5 357,190 356,193.3 356.9,198.8 359.3,202.4 361.7,206 361.7,210.8 361.7,215.7 361.1,220.5 359,224.5 360.5,228 361.5,231 361.8,233.5 359.4,240.47 360.3,247.82 360,255.18 360.5,262.53 360.5,269.88 361.3,277.24 361,284.59 361.3,291.94 362.3,299.29 361.9,306.64 361.9,314 362.3,321.35 361.9,336.06 362.3,350.76 361.9,365.47 362.3,380.17 362.3,394.88 362.5,409.58 362.7,424.28 362.9,438.99 362.9,453.69 363.3,468.4" fill="none" stroke="#ff6a6a" stroke-width="1.0" stroke-linejoin="round" stroke-linecap="round" opacity="1.0"/>
<polyline points="363,175.3 363.2,178 363.2,180.7 358,181.5 354,182.5 354,185 357,186.5 360.5,186 361,188.5 357,190 356,193.3 356.9,198.8 359.3,202.4 361.7,206 361.7,210.8 361.7,215.7 361.1,220.5 359,224.5 360.5,228 361.5,231 361.8,233.5" fill="none" stroke="#ff6464" stroke-width="3.0" stroke-linejoin="round" stroke-linecap="round" opacity="1.0"/>
<path d="M356.2 179.7h3.6v3.6h-3.6zM352.2 180.7h3.6v3.6h-3.6zM352.2 183.2h3.6v3.6h-3.6zM355.2 184.7h3.6v3.6h-3.6zM358.7 184.2h3.6v3.6h-3.6zM359.2 186.7h3.6v3.6h-3.6zM355.2 188.2h3.6v3.6h-3.6zM354.2 191.5h3.6v3.6h-3.6zM355.1 197h3.6v3.6h-3.6zM357.5 200.6h3.6v3.6h-3.6zM359.9 204.2h3.6v3.6h-3.6zM359.9 209h3.6v3.6h-3.6zM359.9 213.9h3.6v3.6h-3.6zM359.3 218.7h3.6v3.6h-3.6zM357.2 222.7h3.6v3.6h-3.6zM358.7 226.2h3.6v3.6h-3.6zM359.7 229.2h3.6v3.6h-3.6zM360 231.7h3.6v3.6h-3.6z" fill="#ff6464"/>
<ellipse cx="357.6" cy="185" rx="4.6" ry="4.2" fill="#ff6464"/>
<path d="M357.7 238.77h3.4v3.4h-3.4zM358.6 246.12h3.4v3.4h-3.4zM358.3 253.48h3.4v3.4h-3.4zM358.8 260.83h3.4v3.4h-3.4zM358.8 268.18h3.4v3.4h-3.4zM359.6 275.54h3.4v3.4h-3.4zM359.3 282.89h3.4v3.4h-3.4zM359.6 290.24h3.4v3.4h-3.4zM360.6 297.59h3.4v3.4h-3.4zM360.2 304.94h3.4v3.4h-3.4zM360.2 312.3h3.4v3.4h-3.4zM360.6 319.65h3.4v3.4h-3.4zM360.2 334.36h3.4v3.4h-3.4zM360.6 349.06h3.4v3.4h-3.4zM360.2 363.77h3.4v3.4h-3.4zM360.6 378.47h3.4v3.4h-3.4zM360.6 393.18h3.4v3.4h-3.4zM360.8 407.88h3.4v3.4h-3.4zM361 422.58h3.4v3.4h-3.4zM361.2 437.29h3.4v3.4h-3.4zM361.2 452h3.4v3.4h-3.4zM361.6 466.7h3.4v3.4h-3.4z" fill="#ff6464"/>
<line x1="306.1" y1="173" x2="306.1" y2="498.7" stroke="#5a5a00" stroke-width="1.7"/>
<path d="M306.1 174.3h-5.6M306.1 203.71h-5.6M306.1 233.12h-5.6M306.1 262.53h-5.6M306.1 291.94h-5.6M306.1 321.35h-5.6M306.1 350.76h-5.6M306.1 380.17h-5.6M306.1 409.58h-5.6M306.1 438.99h-5.6M306.1 468.4h-5.6M306.1 497.81h-5.6" stroke="#5a5a00" stroke-width="1.5" fill="none"/>
<path d="M306.1 181.65h-2.8M306.1 189h-2.8M306.1 196.36h-2.8M306.1 211.06h-2.8M306.1 218.42h-2.8M306.1 225.77h-2.8M306.1 240.47h-2.8M306.1 247.82h-2.8M306.1 255.18h-2.8M306.1 269.88h-2.8M306.1 277.24h-2.8M306.1 284.59h-2.8M306.1 299.29h-2.8M306.1 306.64h-2.8M306.1 314h-2.8M306.1 328.7h-2.8M306.1 336.06h-2.8M306.1 343.41h-2.8M306.1 358.11h-2.8M306.1 365.47h-2.8M306.1 372.82h-2.8M306.1 387.52h-2.8M306.1 394.88h-2.8M306.1 402.23h-2.8M306.1 416.93h-2.8M306.1 424.28h-2.8M306.1 431.64h-2.8M306.1 446.34h-2.8M306.1 453.69h-2.8M306.1 461.05h-2.8M306.1 475.75h-2.8M306.1 483.1h-2.8M306.1 490.46h-2.8" stroke="#5a5a00" stroke-width="1.3" fill="none"/>
<line x1="392.6" y1="173" x2="392.6" y2="498.7" stroke="#5a5a00" stroke-width="1.7"/>
<path d="M392.6 174.3h5.6M392.6 203.71h5.6M392.6 233.12h5.6M392.6 262.53h5.6M392.6 291.94h5.6M392.6 321.35h5.6M392.6 350.76h5.6M392.6 380.17h5.6M392.6 409.58h5.6M392.6 438.99h5.6M392.6 468.4h5.6M392.6 497.81h5.6" stroke="#5a5a00" stroke-width="1.5" fill="none"/>
<path d="M392.6 181.65h2.8M392.6 189h2.8M392.6 196.36h2.8M392.6 211.06h2.8M392.6 218.42h2.8M392.6 225.77h2.8M392.6 240.47h2.8M392.6 247.82h2.8M392.6 255.18h2.8M392.6 269.88h2.8M392.6 277.24h2.8M392.6 284.59h2.8M392.6 299.29h2.8M392.6 306.64h2.8M392.6 314h2.8M392.6 328.7h2.8M392.6 336.06h2.8M392.6 343.41h2.8M392.6 358.11h2.8M392.6 365.47h2.8M392.6 372.82h2.8M392.6 387.52h2.8M392.6 394.88h2.8M392.6 402.23h2.8M392.6 416.93h2.8M392.6 424.28h2.8M392.6 431.64h2.8M392.6 446.34h2.8M392.6 453.69h2.8M392.6 461.05h2.8M392.6 475.75h2.8M392.6 483.1h2.8M392.6 490.46h2.8" stroke="#5a5a00" stroke-width="1.3" fill="none"/>
<line x1="305.3" y1="173.8" x2="393.4" y2="173.8" stroke="#ff5c5c" stroke-width="1.7"/>
<path d="M306.1 173.8v-5.6M334.93 173.8v-5.6M363.77 173.8v-5.6M392.6 173.8v-5.6" stroke="#ff5c5c" stroke-width="1.5" fill="none"/>
<path d="M311.87 173.8v-2.8M317.63 173.8v-2.8M323.4 173.8v-2.8M329.17 173.8v-2.8M340.7 173.8v-2.8M346.47 173.8v-2.8M352.23 173.8v-2.8M358 173.8v-2.8M369.53 173.8v-2.8M375.3 173.8v-2.8M381.07 173.8v-2.8M386.83 173.8v-2.8" stroke="#ff5c5c" stroke-width="1.3" fill="none"/>
<line x1="305.3" y1="497.9" x2="393.4" y2="497.9" stroke="#ff5c5c" stroke-width="1.7"/>
<path d="M306.1 497.9v5.6M334.93 497.9v5.6M363.77 497.9v5.6M392.6 497.9v5.6" stroke="#ff5c5c" stroke-width="1.5" fill="none"/>
<path d="M311.87 497.9v2.8M317.63 497.9v2.8M323.4 497.9v2.8M329.17 497.9v2.8M340.7 497.9v2.8M346.47 497.9v2.8M352.23 497.9v2.8M358 497.9v2.8M369.53 497.9v2.8M375.3 497.9v2.8M381.07 497.9v2.8M386.83 497.9v2.8" stroke="#ff5c5c" stroke-width="1.3" fill="none"/>
<text x="306.1" y="517.5" fill="#ff5c5c" font-size="14" font-weight="normal" text-anchor="middle" stroke="#ff5c5c" stroke-width="0.55" >-1.0</text>
<text x="334.93" y="517.5" fill="#ff5c5c" font-size="14" font-weight="normal" text-anchor="middle" stroke="#ff5c5c" stroke-width="0.55" >-0.5</text>
<text x="363.77" y="517.5" fill="#ff5c5c" font-size="14" font-weight="normal" text-anchor="middle" stroke="#ff5c5c" stroke-width="0.55" >0.0</text>
<text x="392.6" y="517.5" fill="#ff5c5c" font-size="14" font-weight="normal" text-anchor="middle" stroke="#ff5c5c" stroke-width="0.55" >0.5</text>
<text x="291.5" y="536" fill="#ff5c5c" font-size="13" font-weight="bold">&#916;T= T<tspan font-size="10.5" dy="-5.5">Opt</tspan><tspan dy="5.5"> - T</tspan><tspan font-size="10.5" dy="-5.5">SBE</tspan><tspan dy="5.5"> (&#730;C)</tspan></text>
<rect x="432.9" y="173.9" width="107.7" height="108.1" fill="#cfeef9"/>
<clipPath id="tsclip"><rect x="432.9" y="173.9" width="107.7" height="108.1"/></clipPath>
<path d="M433.57 173.9L432.9 174.13M443.23 173.9L442.77 174.06L441.88 174.37L440.98 174.67L440.98 174.67L440.08 174.98L439.18 175.29L438.74 175.44L438.28 175.6L437.39 175.91L436.52 176.22L436.49 176.23L435.59 176.54L434.69 176.85L434.3 176.99L433.8 177.16L432.9 177.48M452.89 173.9L452.64 173.98L451.75 174.29L450.85 174.6L450.63 174.67L449.95 174.91L449.05 175.22L448.39 175.44L448.16 175.53L447.26 175.84L446.36 176.15L446.16 176.22L445.47 176.46L444.57 176.77L443.95 176.99L443.67 177.08L442.77 177.4L441.88 177.71L441.74 177.76L440.98 178.03L440.08 178.34L439.54 178.53L439.18 178.66L438.28 178.98L437.39 179.3L437.36 179.31L436.49 179.61L435.59 179.93L435.19 180.08L434.69 180.25L433.8 180.58L433.03 180.85L432.9 180.9M462.54 173.9L462.52 173.91L461.62 174.21L460.72 174.52L460.28 174.67L459.82 174.83L458.93 175.14L458.04 175.44L458.03 175.45L457.13 175.76L456.23 176.07L455.81 176.22L455.34 176.38L454.44 176.69L453.59 176.99L453.54 177L452.64 177.32L451.75 177.63L451.38 177.76L450.85 177.95L449.95 178.26L449.18 178.53L449.05 178.58L448.16 178.89L447.26 179.21L447 179.31L446.36 179.53L445.47 179.85L444.82 180.08L444.57 180.17L443.67 180.49L442.77 180.81L442.66 180.85L441.88 181.13L440.98 181.45L440.51 181.62L440.08 181.78L439.18 182.1L438.37 182.39L438.28 182.43L437.39 182.75L436.49 183.08L436.25 183.17L435.59 183.4L434.69 183.73L434.13 183.94L433.8 184.06L432.9 184.39M472.19 173.9L471.49 174.14L470.6 174.45L469.93 174.67L469.7 174.75L468.8 175.06L467.9 175.37L467.69 175.44L467 175.68L466.11 175.99L465.45 176.22L465.21 176.3L464.31 176.61L463.42 176.92L463.23 176.99L462.52 177.24L461.62 177.55L461.02 177.76L460.72 177.86L459.82 178.18L458.93 178.49L458.82 178.53L458.03 178.81L457.13 179.13L456.63 179.31L456.23 179.44L455.34 179.76L454.45 180.08L454.44 180.08L453.54 180.4L452.64 180.72L452.29 180.85L451.75 181.04L450.85 181.36L450.14 181.62L449.95 181.69L449.05 182.01L448.16 182.33L447.99 182.39L447.26 182.66L446.36 182.99L445.86 183.17L445.47 183.31L444.57 183.64L443.75 183.94L443.67 183.97L442.77 184.3L441.88 184.62L441.64 184.71L440.98 184.96L440.08 185.29L439.55 185.48L439.18 185.62L438.28 185.95L437.47 186.25L437.39 186.28L436.49 186.62L435.59 186.95L435.4 187.03L434.69 187.29L433.8 187.63L433.34 187.8L432.9 187.97M481.84 173.9L481.37 174.06L480.47 174.37L479.58 174.67L479.57 174.67L478.67 174.98L477.77 175.29L477.33 175.44L476.88 175.6L475.98 175.91L475.09 176.22L475.08 176.22L474.18 176.53L473.29 176.84L472.87 176.99L472.39 177.15L471.49 177.47L470.65 177.76L470.6 177.78L469.7 178.1L468.8 178.41L468.45 178.53L467.9 178.73L467 179.04L466.26 179.31L466.11 179.36L465.21 179.68L464.31 179.99L464.08 180.08L463.42 180.31L462.52 180.63L461.91 180.85L461.62 180.95L460.72 181.28L459.82 181.6L459.76 181.62L458.93 181.92L458.03 182.24L457.61 182.39L457.13 182.57L456.23 182.89L455.48 183.17L455.34 183.22L454.44 183.54L453.54 183.87L453.36 183.94L452.64 184.2L451.75 184.53L451.25 184.71L450.85 184.86L449.95 185.19L449.16 185.48L449.05 185.52L448.16 185.85L447.26 186.19L447.07 186.25L446.36 186.52L445.47 186.85L445 187.03L444.57 187.19L443.67 187.53L442.94 187.8L442.77 187.86L441.88 188.2L440.98 188.54L440.9 188.57L440.08 188.88L439.18 189.22L438.86 189.34L438.28 189.56L437.39 189.91L436.84 190.12L436.49 190.25L435.59 190.59L434.83 190.89L434.69 190.94L433.8 191.29L432.9 191.63M491.48 173.9L491.24 173.98L490.34 174.29L489.44 174.6L489.22 174.67L488.55 174.9L487.65 175.21L486.97 175.44L486.75 175.52L485.85 175.83L484.95 176.14L484.73 176.22L484.06 176.45L483.16 176.76L482.5 176.99L482.26 177.07L481.37 177.38L480.47 177.7L480.28 177.76L479.57 178.01L478.67 178.32L478.08 178.53L477.77 178.64L476.88 178.96L475.98 179.27L475.89 179.31L475.08 179.59L474.18 179.91L473.7 180.08L473.29 180.23L472.39 180.54L471.53 180.85L471.49 180.86L470.6 181.18L469.7 181.51L469.38 181.62L468.8 181.83L467.9 182.15L467.23 182.39L467 182.47L466.11 182.8L465.21 183.12L465.09 183.17L464.31 183.45L463.42 183.78L462.97 183.94L462.52 184.1L461.62 184.43L460.86 184.71L460.72 184.76L459.82 185.09L458.93 185.42L458.76 185.48L458.03 185.75L457.13 186.09L456.68 186.25L456.23 186.42L455.34 186.75L454.6 187.03L454.44 187.09L453.54 187.42L452.64 187.76L452.54 187.8L451.75 188.1L450.85 188.43L450.49 188.57L449.95 188.77L449.05 189.11L448.45 189.34L448.16 189.45L447.26 189.8L446.43 190.12L446.36 190.14L445.47 190.48L444.57 190.83L444.41 190.89L443.67 191.17L442.77 191.52L442.41 191.66L441.88 191.87L440.98 192.22L440.42 192.43L440.08 192.57L439.18 192.92L438.45 193.2L438.28 193.27L437.39 193.62L436.49 193.97L436.48 193.98L435.59 194.33L434.69 194.68L434.53 194.75L433.8 195.04L432.9 195.4M501.12 173.9L501.11 173.9L500.21 174.21L499.32 174.52L498.86 174.67L498.42 174.82L497.52 175.13L496.62 175.44L496.6 175.44L495.73 175.75L494.83 176.06L494.36 176.22L493.93 176.37L493.03 176.68L492.13 176.99L492.13 176.99L491.24 177.3L490.34 177.61L489.91 177.76L489.44 177.92L488.55 178.24L487.7 178.53L487.65 178.55L486.75 178.87L485.85 179.18L485.51 179.31L484.95 179.5L484.06 179.82L483.32 180.08L483.16 180.14L482.26 180.45L481.37 180.77L481.15 180.85L480.47 181.09L479.57 181.41L478.99 181.62L478.67 181.74L477.77 182.06L476.88 182.38L476.84 182.39L475.98 182.7L475.08 183.03L474.7 183.17L474.18 183.35L473.29 183.68L472.58 183.94L472.39 184.01L471.49 184.33L470.6 184.66L470.47 184.71L469.7 184.99L468.8 185.32L468.36 185.48L467.9 185.65L467 185.98L466.27 186.25L466.11 186.32L465.21 186.65L464.31 186.98L464.2 187.03L463.42 187.32L462.52 187.65L462.13 187.8L461.62 187.99L460.72 188.33L460.08 188.57L459.82 188.67L458.93 189.01L458.04 189.34L458.03 189.35L457.13 189.69L456.23 190.03L456.01 190.12L455.34 190.37L454.44 190.72L453.99 190.89L453.54 191.06L452.64 191.41L451.99 191.66L451.75 191.75L450.85 192.1L450 192.43L449.95 192.45L449.05 192.8L448.16 193.15L448.02 193.2L447.26 193.5L446.36 193.85L446.05 193.98L445.47 194.21L444.57 194.56L444.1 194.75L443.67 194.92L442.77 195.28L442.16 195.52L441.88 195.63L440.98 195.99L440.23 196.29L440.08 196.35L439.18 196.71L438.32 197.06L438.28 197.08L437.39 197.44L436.49 197.8L436.41 197.84L435.59 198.17L434.69 198.54L434.52 198.61L433.8 198.91L432.9 199.28M510.76 173.9L510.08 174.13L509.19 174.44L508.49 174.67L508.29 174.74L507.39 175.05L506.5 175.36L506.24 175.44L505.6 175.66L504.7 175.97L503.99 176.22L503.8 176.28L502.9 176.59L502.01 176.9L501.76 176.99L501.11 177.21L500.21 177.53L499.54 177.76L499.32 177.84L498.42 178.15L497.52 178.47L497.33 178.53L496.62 178.78L495.73 179.1L495.13 179.31L494.83 179.41L493.93 179.73L493.03 180.05L492.94 180.08L492.13 180.36L491.24 180.68L490.77 180.85L490.34 181L489.44 181.32L488.6 181.62L488.55 181.64L487.65 181.96L486.75 182.29L486.45 182.39L485.85 182.61L484.95 182.93L484.31 183.17L484.06 183.26L483.16 183.58L482.26 183.91L482.18 183.94L481.37 184.24L480.47 184.56L480.07 184.71L479.57 184.89L478.67 185.22L477.96 185.48L477.77 185.55L476.88 185.88L475.98 186.21L475.87 186.25L475.08 186.55L474.18 186.88L473.79 187.03L473.29 187.21L472.39 187.55L471.72 187.8L471.49 187.88L470.6 188.22L469.7 188.56L469.67 188.57L468.8 188.9L467.9 189.24L467.62 189.34L467 189.58L466.11 189.92L465.59 190.12L465.21 190.26L464.31 190.6L463.57 190.89L463.42 190.95L462.52 191.29L461.62 191.64L461.57 191.66L460.72 191.99L459.82 192.33L459.57 192.43L458.93 192.68L458.03 193.03L457.59 193.2L457.13 193.38L456.23 193.73L455.62 193.98L455.34 194.09L454.44 194.44L453.66 194.75L453.54 194.8L452.65 195.15L451.75 195.51L451.72 195.52L450.85 195.87L449.95 196.23L449.79 196.29L449.05 196.59L448.16 196.95L447.87 197.06L447.26 197.31L446.36 197.67L445.96 197.84L445.47 198.04L444.57 198.41L444.07 198.61L443.67 198.77L442.77 199.14L442.19 199.38L441.88 199.51L440.98 199.88L440.32 200.15L440.08 200.25L439.18 200.63L438.47 200.93L438.28 201L437.39 201.38L436.62 201.7L436.49 201.75L435.59 202.13L434.79 202.47L434.69 202.51L433.8 202.89L432.98 203.24L432.9 203.28M520.39 173.9L519.96 174.05L519.06 174.35L518.16 174.66L518.13 174.67L517.27 174.97L516.37 175.27L515.87 175.44L515.47 175.58L514.57 175.89L513.67 176.2L513.62 176.22L512.78 176.51L511.88 176.82L511.38 176.99L510.98 177.13L510.08 177.44L509.19 177.75L509.16 177.76L508.29 178.06L507.39 178.38L506.95 178.53L506.5 178.69L505.6 179.01L504.75 179.31L504.7 179.32L503.8 179.64L502.9 179.95L502.56 180.08L502.01 180.27L501.11 180.59L500.38 180.85L500.21 180.91L499.32 181.23L498.42 181.55L498.21 181.62L497.52 181.87L496.62 182.19L496.06 182.39L495.73 182.51L494.83 182.84L493.93 183.16L493.92 183.17L493.03 183.49L492.13 183.81L491.78 183.94L491.24 184.14L490.34 184.46L489.67 184.71L489.44 184.79L488.54 185.12L487.65 185.45L487.56 185.48L486.75 185.78L485.85 186.11L485.46 186.25L484.95 186.44L484.06 186.78L483.38 187.03L483.16 187.11L482.26 187.44L481.37 187.78L481.31 187.8L480.47 188.11L479.57 188.45L479.25 188.57L478.67 188.79L477.77 189.13L477.2 189.34L476.88 189.47L475.98 189.81L475.17 190.12L475.08 190.15L474.18 190.49L473.29 190.83L473.15 190.89L472.39 191.18L471.49 191.52L471.14 191.66L470.6 191.87L469.7 192.22L469.14 192.43L468.8 192.56L467.9 192.91L467.16 193.2L467 193.26L466.11 193.61L465.21 193.97L465.18 193.98L464.31 194.32L463.42 194.67L463.22 194.75L462.52 195.03L461.62 195.38L461.28 195.52L460.72 195.74L459.82 196.1L459.34 196.29L458.93 196.46L458.03 196.82L457.42 197.06L457.13 197.18L456.23 197.54L455.51 197.84L455.34 197.91L454.44 198.27L453.61 198.61L453.54 198.64L452.64 199L451.75 199.37L451.73 199.38L450.85 199.74L449.95 200.11L449.86 200.15L449.05 200.49L448.16 200.86L448 200.93L447.26 201.23L446.36 201.61L446.15 201.7L445.47 201.99L444.57 202.37L444.32 202.47L443.67 202.75L442.77 203.13L442.5 203.24L441.88 203.51L440.98 203.89L440.7 204.01L440.08 204.28L439.18 204.67L438.9 204.79L438.28 205.05L437.39 205.44L437.12 205.56L436.49 205.83L435.59 206.23L435.36 206.33L434.69 206.62L433.8 207.02L433.6 207.1L432.9 207.41M530.03 173.9L529.83 173.97L528.93 174.27L528.03 174.58L527.75 174.67L527.14 174.88L526.24 175.19L525.49 175.44L525.34 175.5L524.45 175.8L523.55 176.11L523.24 176.22L522.65 176.42L521.75 176.73L521.01 176.99L520.86 177.04L519.96 177.35L519.06 177.66L518.78 177.76L518.16 177.98L517.27 178.29L516.56 178.53L516.37 178.6L515.47 178.92L514.57 179.23L514.36 179.31L513.67 179.55L512.78 179.86L512.17 180.08L511.88 180.18L510.98 180.5L510.08 180.81L509.99 180.85L509.19 181.13L508.29 181.45L507.82 181.62L507.39 181.77L506.5 182.1L505.66 182.39L505.6 182.42L504.7 182.74L503.8 183.06L503.52 183.17L502.9 183.39L502.01 183.71L501.38 183.94L501.11 184.04L500.21 184.36L499.32 184.69L499.26 184.71L498.42 185.02L497.52 185.35L497.15 185.48L496.62 185.68L495.73 186.01L495.05 186.25L494.83 186.34L493.93 186.67L493.03 187L492.97 187.03L492.13 187.34L491.24 187.67L490.89 187.8L490.34 188.01L489.44 188.34L488.83 188.57L488.55 188.68L487.65 189.02L486.78 189.34L486.75 189.36L485.85 189.7L484.95 190.04L484.75 190.12L484.06 190.38L483.16 190.72L482.72 190.89L482.26 191.06L481.37 191.41L480.71 191.66L480.47 191.75L479.57 192.1L478.71 192.43L478.67 192.44L477.77 192.79L476.88 193.14L476.72 193.2L475.98 193.49L475.08 193.84L474.74 193.98L474.18 194.2L473.29 194.55L472.78 194.75L472.39 194.9L471.49 195.26L470.83 195.52L470.6 195.61L469.7 195.97L468.89 196.29L468.8 196.33L467.9 196.69L467 197.05L466.97 197.06L466.11 197.41L465.21 197.77L465.05 197.84L464.31 198.14L463.42 198.5L463.15 198.61L462.52 198.87L461.62 199.24L461.27 199.38L460.72 199.6L459.82 199.97L459.39 200.15L458.93 200.35L458.03 200.72L457.53 200.93L457.13 201.09L456.23 201.47L455.68 201.7L455.34 201.84L454.44 202.22L453.84 202.47L453.54 202.6L452.64 202.98L452.02 203.24L451.75 203.36L450.85 203.74L450.21 204.01L449.95 204.13L449.05 204.51L448.42 204.79L448.16 204.9L447.26 205.29L446.63 205.56L446.36 205.68L445.47 206.07L444.86 206.33L444.57 206.46L443.67 206.85L443.1 207.1L442.77 207.25L441.88 207.65L441.36 207.87L440.98 208.05L440.08 208.45L439.63 208.65L439.18 208.85L438.28 209.25L437.91 209.42L437.39 209.66L436.49 210.06L436.21 210.19L435.59 210.47L434.69 210.88L434.52 210.96L433.8 211.3L432.9 211.71M539.65 173.9L538.8 174.19L537.91 174.49L537.38 174.67L537.01 174.8L536.11 175.1L535.22 175.41L535.12 175.44L534.32 175.72L533.42 176.03L532.87 176.22L532.52 176.33L531.62 176.64L530.73 176.95L530.62 176.99L529.83 177.26L528.93 177.57L528.4 177.76L528.03 177.89L527.14 178.2L526.24 178.51L526.18 178.53L525.34 178.83L524.45 179.14L523.97 179.31L523.55 179.45L522.65 179.77L521.78 180.08L521.75 180.09L520.86 180.4L519.96 180.72L519.59 180.85L519.06 181.04L518.16 181.36L517.42 181.62L517.27 181.68L516.37 182L515.47 182.32L515.26 182.39L514.57 182.64L513.67 182.96L513.11 183.17L512.78 183.29L511.88 183.61L510.98 183.94L510.98 183.94L510.08 184.26L509.19 184.59L508.85 184.71L508.29 184.92L507.39 185.24L506.74 185.48L506.5 185.57L505.6 185.9L504.7 186.23L504.64 186.25L503.8 186.56L502.9 186.9L502.55 187.03L502.01 187.23L501.11 187.56L500.48 187.8L500.21 187.9L499.32 188.23L498.42 188.57L498.41 188.57L497.52 188.91L496.62 189.24L496.36 189.34L495.73 189.58L494.83 189.92L494.32 190.12L493.93 190.26L493.03 190.6L492.29 190.89L492.13 190.95L491.24 191.29L490.34 191.63L490.27 191.66L489.44 191.98L488.55 192.33L488.27 192.43L487.65 192.67L486.75 193.02L486.28 193.2L485.85 193.37L484.95 193.72L484.3 193.98L484.06 194.07L483.16 194.42L482.33 194.75L482.26 194.78L481.37 195.13L480.47 195.49L480.38 195.52L479.57 195.84L478.67 196.2L478.44 196.29L477.77 196.56L476.88 196.92L476.51 197.06L475.98 197.28L475.08 197.64L474.59 197.84L474.18 198L473.29 198.37L472.69 198.61L472.39 198.73L471.49 199.1L470.8 199.38L470.6 199.47L469.7 199.83L468.92 200.15L468.8 200.2L467.9 200.58L467.06 200.93L467 200.95L466.11 201.32L465.21 201.7L465.21 201.7L464.31 202.07L463.42 202.45L463.37 202.47L462.52 202.83L461.62 203.21L461.54 203.24L460.72 203.59L459.82 203.97L459.73 204.01L458.93 204.36L458.03 204.74L457.93 204.79L457.13 205.13L456.23 205.52L456.14 205.56L455.34 205.91L454.44 206.3L454.36 206.33L453.54 206.69L452.64 207.08L452.6 207.1L451.75 207.48L450.86 207.87L450.85 207.88L449.95 208.28L449.12 208.65L449.05 208.68L448.16 209.08L447.4 209.42L447.26 209.48L446.36 209.89L445.69 210.19L445.47 210.29L444.57 210.7L444 210.96L443.67 211.11L442.77 211.53L442.32 211.74L441.88 211.94L440.98 212.36L440.65 212.51L440.08 212.77L439.18 213.19L439 213.28L438.28 213.61L437.39 214.04L437.36 214.05L436.49 214.46L435.73 214.82L435.59 214.89L434.69 215.32L434.12 215.6L433.8 215.75L432.9 216.18M540.6 176.86L540.24 176.99L539.7 177.17L538.8 177.49L538.01 177.76L537.91 177.8L537.01 178.11L536.11 178.42L535.79 178.53L535.22 178.73L534.32 179.05L533.58 179.31L533.42 179.36L532.52 179.68L531.62 179.99L531.38 180.08L530.73 180.31L529.83 180.63L529.2 180.85L528.93 180.94L528.03 181.26L527.14 181.58L527.02 181.62L526.24 181.9L525.34 182.22L524.86 182.39L524.45 182.54L523.55 182.86L522.71 183.17L522.65 183.19L521.75 183.51L520.86 183.84L520.57 183.94L519.96 184.16L519.06 184.49L518.44 184.71L518.16 184.81L517.27 185.14L516.37 185.47L516.33 185.48L515.47 185.8L514.57 186.13L514.22 186.25L513.67 186.46L512.78 186.79L512.13 187.03L511.88 187.12L510.98 187.45L510.08 187.79L510.05 187.8L509.19 188.12L508.29 188.46L507.99 188.57L507.39 188.79L506.5 189.13L505.93 189.34L505.6 189.47L504.7 189.81L503.89 190.12L503.8 190.15L502.9 190.49L502.01 190.83L501.86 190.89L501.11 191.17L500.21 191.52L499.84 191.66L499.32 191.86L498.42 192.21L497.83 192.43L497.52 192.55L496.62 192.9L495.84 193.2L495.73 193.25L494.83 193.6L493.93 193.95L493.85 193.98L493.03 194.3L492.13 194.65L491.89 194.75L491.24 195L490.34 195.36L489.93 195.52L489.44 195.71L488.55 196.07L487.98 196.29L487.65 196.43L486.75 196.79L486.05 197.06L485.85 197.14L484.95 197.51L484.13 197.84L484.06 197.87L483.16 198.23L482.26 198.59L482.23 198.61L481.37 198.96L480.47 199.33L480.33 199.38L479.57 199.69L478.67 200.06L478.45 200.15L477.77 200.43L476.88 200.8L476.58 200.93L475.98 201.18L475.08 201.55L474.73 201.7L474.18 201.92L473.29 202.3L472.88 202.47L472.39 202.68L471.49 203.06L471.05 203.24L470.6 203.44L469.7 203.82L469.24 204.01L468.8 204.2L467.9 204.58L467.43 204.79L467 204.97L466.11 205.36L465.64 205.56L465.21 205.75L464.31 206.14L463.86 206.33L463.42 206.53L462.52 206.92L462.1 207.1L461.62 207.31L460.72 207.71L460.35 207.87L459.82 208.11L458.93 208.51L458.61 208.65L458.03 208.91L457.13 209.31L456.89 209.42L456.23 209.71L455.34 210.12L455.18 210.19L454.44 210.52L453.54 210.93L453.48 210.96L452.64 211.34L451.79 211.74L451.75 211.76L450.85 212.17L450.12 212.51L449.95 212.59L449.05 213L448.46 213.28L448.16 213.42L447.26 213.84L446.82 214.05L446.36 214.27L445.47 214.69L445.19 214.82L444.57 215.12L443.67 215.55L443.57 215.6L442.77 215.98L441.97 216.37L441.88 216.41L440.98 216.85L440.38 217.14L440.08 217.29L439.18 217.73L438.81 217.91L438.28 218.17L437.39 218.61L437.25 218.68L436.49 219.06L435.7 219.46L435.59 219.51L434.69 219.96L434.16 220.23L433.8 220.42L432.9 220.87M540.6 180.21L539.7 180.53L538.8 180.85L538.8 180.85L537.91 181.16L537.01 181.48L536.62 181.62L536.11 181.8L535.22 182.12L534.45 182.39L534.32 182.44L533.42 182.76L532.52 183.09L532.3 183.17L531.62 183.41L530.73 183.73L530.16 183.94L529.83 184.06L528.93 184.38L528.03 184.71L528.03 184.71L527.14 185.04L526.24 185.36L525.91 185.48L525.34 185.69L524.45 186.02L523.8 186.25L523.55 186.35L522.65 186.68L521.75 187.01L521.71 187.03L520.86 187.34L519.96 187.68L519.63 187.8L519.06 188.01L518.16 188.35L517.56 188.57L517.27 188.68L516.37 189.02L515.5 189.34L515.47 189.35L514.57 189.69L513.67 190.03L513.45 190.12L512.78 190.37L511.88 190.71L511.42 190.89L510.98 191.05L510.08 191.4L509.4 191.66L509.19 191.74L508.29 192.08L507.39 192.43L507.39 192.43L506.5 192.78L505.6 193.12L505.39 193.2L504.7 193.47L503.8 193.82L503.41 193.98L502.9 194.17L502.01 194.52L501.43 194.75L501.11 194.88L500.21 195.23L499.47 195.52L499.32 195.58L498.42 195.94L497.53 196.29L497.52 196.29L496.62 196.65L495.73 197.01L495.59 197.06L494.83 197.37L493.93 197.73L493.67 197.84L493.03 198.09L492.13 198.46L491.76 198.61L491.24 198.82L490.34 199.19L489.86 199.38L489.44 199.55L488.55 199.92L487.98 200.15L487.65 200.29L486.75 200.66L486.1 200.93L485.85 201.03L484.95 201.4L484.25 201.7L484.06 201.78L483.16 202.15L482.4 202.47L482.26 202.53L481.37 202.9L480.57 203.24L480.47 203.28L479.57 203.66L478.75 204.01L478.67 204.04L477.77 204.43L476.94 204.79L476.88 204.81L475.98 205.2L475.14 205.56L475.08 205.58L474.18 205.97L473.36 206.33L473.29 206.36L472.39 206.75L471.59 207.1L471.49 207.15L470.6 207.54L469.84 207.87L469.7 207.94L468.8 208.33L468.1 208.65L467.9 208.73L467 209.13L466.37 209.42L466.11 209.54L465.21 209.94L464.65 210.19L464.31 210.35L463.42 210.75L462.95 210.96L462.52 211.16L461.62 211.57L461.26 211.74L460.72 211.98L459.82 212.4L459.59 212.51L458.93 212.81L458.03 213.23L457.93 213.28L457.13 213.65L456.28 214.05L456.23 214.07L455.34 214.5L454.64 214.82L454.44 214.92L453.54 215.35L453.02 215.6L452.64 215.78L451.75 216.21L451.42 216.37L450.85 216.64L449.95 217.08L449.82 217.14L449.05 217.52L448.24 217.91L448.16 217.96L447.26 218.4L446.68 218.68L446.36 218.84L445.47 219.29L445.13 219.46L444.57 219.74L443.67 220.19L443.59 220.23L442.77 220.64L442.07 221L441.88 221.1L440.98 221.56L440.56 221.77L440.08 222.02L439.18 222.48L439.06 222.55L438.28 222.95L437.58 223.32L437.39 223.42L436.49 223.89L436.11 224.09L435.59 224.37L434.69 224.84L434.66 224.86L433.8 225.32L433.22 225.63L432.9 225.81M540.6 183.63L539.75 183.94L539.7 183.95L538.8 184.28L537.91 184.6L537.61 184.71L537.01 184.93L536.11 185.26L535.49 185.48L535.22 185.58L534.32 185.91L533.42 186.24L533.38 186.25L532.52 186.57L531.62 186.9L531.29 187.03L530.73 187.23L529.83 187.57L529.2 187.8L528.93 187.9L528.03 188.23L527.14 188.57L527.13 188.57L526.24 188.9L525.34 189.24L525.07 189.34L524.45 189.58L523.55 189.91L523.02 190.12L522.65 190.25L521.75 190.59L520.98 190.89L520.86 190.93L519.96 191.28L519.06 191.62L518.96 191.66L518.16 191.96L517.27 192.31L516.94 192.43L516.37 192.65L515.47 193L514.94 193.2L514.57 193.35L513.67 193.7L512.95 193.98L512.78 194.04L511.88 194.4L510.98 194.75L510.98 194.75L510.08 195.1L509.19 195.45L509.02 195.52L508.29 195.81L507.39 196.16L507.06 196.29L506.5 196.52L505.6 196.88L505.13 197.06L504.7 197.24L503.8 197.59L503.2 197.84L502.9 197.96L502.01 198.32L501.29 198.61L501.11 198.68L500.21 199.05L499.39 199.38L499.32 199.41L498.42 199.78L497.52 200.14L497.5 200.15L496.62 200.51L495.73 200.88L495.62 200.93L494.83 201.25L493.93 201.63L493.76 201.7L493.03 202L492.13 202.38L491.91 202.47L491.24 202.75L490.34 203.13L490.07 203.24L489.44 203.51L488.55 203.89L488.25 204.01L487.65 204.27L486.75 204.65L486.44 204.79L485.85 205.04L484.95 205.42L484.64 205.56L484.06 205.81L483.16 206.2L482.86 206.33L482.26 206.59L481.37 206.98L481.09 207.1L480.47 207.37L479.57 207.77L479.33 207.87L478.67 208.16L477.77 208.56L477.58 208.65L476.88 208.96L475.98 209.36L475.85 209.42L475.08 209.76L474.18 210.17L474.13 210.19L473.29 210.57L472.42 210.96L472.39 210.98L471.49 211.39L470.73 211.74L470.6 211.8L469.7 212.21L469.05 212.51L468.8 212.62L467.9 213.04L467.39 213.28L467 213.46L466.11 213.88L465.74 214.05L465.21 214.3L464.31 214.72L464.1 214.82L463.42 215.15L462.52 215.57L462.47 215.6L461.62 216L460.86 216.37L460.72 216.44L459.82 216.87L459.26 217.14L458.93 217.3L458.03 217.74L457.68 217.91L457.13 218.18L456.23 218.62L456.11 218.68L455.34 219.07L454.56 219.46L454.44 219.51L453.54 219.96L453.01 220.23L452.64 220.41L451.75 220.87L451.49 221L450.85 221.32L449.97 221.77L449.95 221.78L449.05 222.24L448.47 222.55L448.16 222.71L447.26 223.17L446.99 223.32L446.36 223.64L445.51 224.09L445.47 224.12L444.57 224.59L444.06 224.86L443.67 225.07L442.77 225.55L442.61 225.63L441.88 226.03L441.19 226.41L440.98 226.52L440.08 227.01L439.77 227.18L439.18 227.5L438.37 227.95L438.28 228L437.39 228.5L436.99 228.72L436.49 229L435.62 229.49L435.59 229.51L434.7 230.02L434.26 230.27L433.8 230.53L432.92 231.04L432.9 231.05M540.6 187.12L539.7 187.45L538.8 187.79L538.77 187.8L537.91 188.12L537.01 188.45L536.69 188.57L536.11 188.79L535.22 189.12L534.63 189.34L534.32 189.46L533.42 189.8L532.58 190.12L532.52 190.14L531.62 190.48L530.73 190.82L530.54 190.89L529.83 191.16L528.93 191.5L528.51 191.66L528.03 191.84L527.14 192.18L526.49 192.43L526.24 192.53L525.34 192.88L524.49 193.2L524.45 193.22L523.55 193.57L522.65 193.92L522.5 193.98L521.75 194.27L520.86 194.62L520.52 194.75L519.96 194.97L519.06 195.32L518.55 195.52L518.16 195.67L517.27 196.03L516.6 196.29L516.37 196.38L515.47 196.74L514.66 197.06L514.57 197.1L513.67 197.46L512.78 197.82L512.73 197.84L511.88 198.18L510.98 198.54L510.81 198.61L510.08 198.9L509.19 199.27L508.91 199.38L508.29 199.63L507.39 200L507.02 200.15L506.5 200.37L505.6 200.74L505.14 200.93L504.7 201.11L503.8 201.48L503.27 201.7L502.9 201.85L502.01 202.22L501.42 202.47L501.11 202.6L500.21 202.98L499.58 203.24L499.32 203.35L498.42 203.73L497.75 204.01L497.52 204.11L496.62 204.49L495.94 204.79L495.73 204.88L494.83 205.26L494.14 205.56L493.93 205.65L493.03 206.03L492.35 206.33L492.13 206.42L491.24 206.81L490.57 207.1L490.34 207.2L489.44 207.6L488.81 207.87L488.55 207.99L487.65 208.39L487.06 208.65L486.75 208.79L485.85 209.18L485.33 209.42L484.95 209.58L484.06 209.99L483.6 210.19L483.16 210.39L482.26 210.8L481.89 210.96L481.37 211.2L480.47 211.61L480.2 211.74L479.57 212.02L478.67 212.43L478.51 212.51L477.77 212.85L476.88 213.26L476.85 213.28L475.98 213.68L475.19 214.05L475.08 214.1L474.18 214.52L473.55 214.82L473.29 214.95L472.39 215.37L471.92 215.6L471.49 215.8L470.6 216.23L470.3 216.37L469.7 216.66L468.8 217.09L468.7 217.14L467.9 217.53L467.11 217.91L467 217.97L466.11 218.41L465.54 218.68L465.21 218.85L464.31 219.29L463.98 219.46L463.42 219.74L462.52 220.19L462.43 220.23L461.62 220.64L460.9 221L460.72 221.09L459.82 221.55L459.38 221.77L458.93 222.01L458.03 222.47L457.88 222.55L457.13 222.93L456.39 223.32L456.23 223.4L455.34 223.87L454.91 224.09L454.44 224.34L453.54 224.81L453.45 224.86L452.64 225.29L452 225.63L451.75 225.77L450.85 226.25L450.57 226.41L449.95 226.74L449.15 227.18L449.05 227.23L448.16 227.72L447.75 227.95L447.26 228.22L446.36 228.72L446.36 228.72L445.47 229.22L444.98 229.49L444.57 229.73L443.67 230.24L443.62 230.27L442.77 230.75L442.27 231.04L441.88 231.27L440.98 231.79L440.94 231.81L440.08 232.32L439.63 232.58L439.18 232.85L438.32 233.36L438.28 233.38L437.39 233.92L437.04 234.13L436.49 234.46L435.77 234.9L435.59 235.01L434.69 235.56L434.51 235.67L433.8 236.11L433.27 236.44L432.9 236.67M540.6 190.69L540.09 190.89L539.7 191.03L538.8 191.38L538.06 191.66L537.91 191.72L537.01 192.06L536.11 192.4L536.04 192.43L535.22 192.75L534.32 193.1L534.04 193.2L533.42 193.44L532.52 193.79L532.04 193.98L531.62 194.14L530.73 194.49L530.06 194.75L529.83 194.84L528.93 195.19L528.09 195.52L528.03 195.54L527.14 195.9L526.24 196.25L526.13 196.29L525.34 196.61L524.45 196.96L524.19 197.06L523.55 197.32L522.65 197.68L522.26 197.84L521.75 198.04L520.86 198.4L520.34 198.61L519.96 198.76L519.06 199.13L518.43 199.38L518.16 199.49L517.27 199.86L516.53 200.15L516.37 200.22L515.47 200.59L514.65 200.93L514.57 200.96L513.67 201.33L512.78 201.7L512.78 201.7L511.88 202.07L510.98 202.45L510.93 202.47L510.08 202.82L509.19 203.2L509.08 203.24L508.29 203.58L507.39 203.95L507.25 204.01L506.5 204.34L505.6 204.72L505.43 204.79L504.7 205.1L503.8 205.48L503.63 205.56L502.9 205.87L502.01 206.26L501.84 206.33L501.11 206.65L500.21 207.04L500.06 207.1L499.32 207.43L498.42 207.82L498.29 207.87L497.52 208.21L496.62 208.61L496.54 208.65L495.73 209.01L494.83 209.41L494.8 209.42L493.93 209.81L493.07 210.19L493.03 210.21L492.13 210.61L491.36 210.96L491.24 211.02L490.34 211.43L489.66 211.74L489.44 211.83L488.55 212.25L487.97 212.51L487.65 212.66L486.75 213.07L486.3 213.28L485.85 213.49L484.95 213.91L484.64 214.05L484.06 214.32L483.16 214.75L482.99 214.82L482.26 215.17L481.37 215.59L481.36 215.6L480.47 216.02L479.74 216.37L479.57 216.45L478.67 216.88L478.14 217.14L477.77 217.32L476.88 217.75L476.54 217.91L475.98 218.19L475.08 218.63L474.97 218.68L474.18 219.07L473.4 219.46L473.29 219.51L472.39 219.96L471.85 220.23L471.49 220.41L470.6 220.86L470.31 221L469.7 221.31L468.8 221.77L468.79 221.77L467.9 222.23L467.28 222.55L467 222.69L466.11 223.15L465.79 223.32L465.21 223.62L464.31 224.09L464.31 224.09L463.42 224.56L462.84 224.86L462.52 225.03L461.62 225.51L461.39 225.63L460.72 225.99L459.95 226.41L459.82 226.47L458.93 226.96L458.53 227.18L458.03 227.45L457.13 227.94L457.12 227.95L456.23 228.44L455.72 228.72L455.34 228.94L454.44 229.44L454.34 229.49L453.54 229.95L452.98 230.27L452.64 230.46L451.75 230.97L451.63 231.04L450.85 231.49L450.29 231.81L449.95 232.01L449.05 232.53L448.97 232.58L448.16 233.06L447.66 233.36L447.26 233.6L446.37 234.13L446.36 234.13L445.47 234.67L445.09 234.9L444.57 235.22L443.83 235.67L443.67 235.77L442.77 236.33L442.58 236.44L441.88 236.89L441.35 237.22L440.98 237.45L440.14 237.99L440.08 238.02L439.18 238.6L438.93 238.76L438.28 239.18L437.75 239.53L437.39 239.77L436.58 240.3L436.49 240.36L435.59 240.96L435.42 241.08L434.69 241.57L434.28 241.85L433.8 242.18L433.16 242.62L432.9 242.8M540.6 194.36L539.7 194.71L539.6 194.75L538.8 195.06L537.91 195.41L537.62 195.52L537.01 195.76L536.11 196.11L535.66 196.29L535.22 196.47L534.32 196.83L533.71 197.06L533.42 197.18L532.52 197.54L531.78 197.84L531.62 197.9L530.73 198.26L529.86 198.61L529.83 198.62L528.93 198.98L528.03 199.34L527.95 199.38L527.14 199.71L526.24 200.07L526.05 200.15L525.34 200.44L524.45 200.81L524.16 200.93L523.55 201.18L522.65 201.55L522.29 201.7L521.75 201.92L520.86 202.29L520.43 202.47L519.96 202.67L519.06 203.04L518.58 203.24L518.16 203.42L517.27 203.8L516.75 204.01L516.37 204.18L515.47 204.56L514.93 204.79L514.57 204.94L513.67 205.32L513.12 205.56L512.78 205.7L511.88 206.09L511.32 206.33L510.98 206.48L510.08 206.87L509.54 207.1L509.19 207.26L508.29 207.65L507.77 207.87L507.39 208.04L506.5 208.44L506.01 208.65L505.6 208.83L504.7 209.23L504.27 209.42L503.8 209.63L502.9 210.03L502.54 210.19L502.01 210.43L501.11 210.83L500.82 210.96L500.21 211.24L499.32 211.65L499.12 211.74L498.42 212.06L497.52 212.47L497.43 212.51L496.62 212.88L495.75 213.28L495.73 213.29L494.83 213.71L494.09 214.05L493.93 214.13L493.03 214.55L492.44 214.82L492.13 214.97L491.24 215.39L490.8 215.6L490.34 215.82L489.44 216.24L489.18 216.37L488.55 216.67L487.65 217.1L487.57 217.14L486.75 217.54L485.97 217.91L485.85 217.97L484.96 218.41L484.39 218.68L484.06 218.85L483.16 219.29L482.82 219.46L482.26 219.73L481.37 220.18L481.27 220.23L480.47 220.63L479.73 221L479.57 221.08L478.67 221.53L478.2 221.77L477.77 221.99L476.88 222.45L476.69 222.55L475.98 222.91L475.19 223.32L475.08 223.37L474.18 223.84L473.7 224.09L473.29 224.31L472.39 224.78L472.23 224.86L471.49 225.25L470.77 225.63L470.6 225.73L469.7 226.21L469.33 226.41L468.8 226.69L467.9 227.18L467.9 227.18L467 227.67L466.49 227.95L466.11 228.16L465.21 228.66L465.09 228.72L464.31 229.16L463.7 229.49L463.42 229.66L462.52 230.16L462.33 230.27L461.62 230.67L460.98 231.04L460.72 231.19L459.82 231.7L459.64 231.81L458.93 232.22L458.31 232.58L458.03 232.75L457.13 233.28L457 233.36L456.23 233.81L455.7 234.13L455.34 234.35L454.44 234.89L454.42 234.9L453.54 235.43L453.15 235.67L452.64 235.98L451.9 236.44L451.75 236.54L450.85 237.1L450.66 237.22L449.95 237.66L449.44 237.99L449.05 238.23L448.23 238.76L448.16 238.81L447.26 239.39L447.04 239.53L446.36 239.98L445.87 240.3L445.47 240.57L444.7 241.08L444.57 241.17L443.67 241.77L443.56 241.85L442.77 242.39L442.43 242.62L441.88 243L441.31 243.39L440.98 243.63L440.22 244.16L440.08 244.26L439.18 244.9L439.13 244.94L438.28 245.55L438.07 245.71L437.39 246.21L437.01 246.48L436.49 246.87L435.98 247.25L435.59 247.55L434.96 248.03L434.69 248.23L433.96 248.8L433.8 248.92L432.97 249.57L432.9 249.63M540.6 198.12L539.7 198.48L539.37 198.61L538.8 198.84L537.91 199.2L537.46 199.38L537.01 199.56L536.11 199.93L535.56 200.15L535.22 200.29L534.32 200.66L533.67 200.93L533.42 201.03L532.52 201.4L531.79 201.7L531.62 201.77L530.73 202.14L529.93 202.47L529.83 202.51L528.93 202.89L528.08 203.24L528.03 203.26L527.14 203.64L526.24 204.01L526.24 204.01L525.34 204.39L524.45 204.77L524.42 204.79L523.55 205.16L522.65 205.54L522.61 205.56L521.75 205.92L520.85 206.31L520.81 206.33L519.96 206.7L519.06 207.09L519.02 207.1L518.16 207.48L517.27 207.87L517.25 207.87L516.37 208.26L515.49 208.65L515.47 208.65L514.57 209.05L513.74 209.42L513.67 209.45L512.78 209.85L512.01 210.19L511.88 210.25L510.98 210.65L510.28 210.96L510.08 211.05L509.19 211.46L508.58 211.74L508.29 211.87L507.39 212.27L506.88 212.51L506.5 212.69L505.6 213.1L505.2 213.28L504.7 213.51L503.8 213.93L503.53 214.05L502.9 214.34L502.01 214.76L501.88 214.82L501.11 215.19L500.24 215.6L500.21 215.61L499.32 216.03L498.61 216.37L498.42 216.46L497.52 216.89L497 217.14L496.62 217.32L495.73 217.75L495.4 217.91L494.83 218.19L493.93 218.63L493.81 218.68L493.03 219.07L492.24 219.46L492.13 219.51L491.24 219.95L490.68 220.23L490.34 220.4L489.44 220.85L489.13 221L488.55 221.3L487.65 221.75L487.6 221.77L486.75 222.21L486.09 222.55L485.85 222.66L484.95 223.13L484.58 223.32L484.06 223.59L483.16 224.05L483.09 224.09L482.26 224.52L481.62 224.86L481.37 224.99L480.47 225.47L480.16 225.63L479.57 225.95L478.71 226.41L478.67 226.43L477.77 226.91L477.28 227.18L476.88 227.39L475.98 227.88L475.86 227.95L475.08 228.38L474.45 228.72L474.18 228.87L473.29 229.37L473.06 229.49L472.39 229.87L471.69 230.27L471.49 230.38L470.6 230.89L470.33 231.04L469.7 231.4L468.98 231.81L468.8 231.92L467.9 232.44L467.65 232.58L467 232.96L466.33 233.36L466.11 233.49L465.21 234.02L465.03 234.13L464.31 234.56L463.74 234.9L463.42 235.1L462.52 235.64L462.47 235.67L461.62 236.19L461.21 236.44L460.72 236.75L459.97 237.22L459.82 237.31L458.93 237.87L458.74 237.99L458.03 238.44L457.53 238.76L457.13 239.02L456.33 239.53L456.23 239.6L455.34 240.18L455.15 240.3L454.44 240.78L453.98 241.08L453.54 241.37L452.83 241.85L452.64 241.98L451.75 242.59L451.7 242.62L450.85 243.21L450.58 243.39L449.95 243.83L449.47 244.16L449.05 244.46L448.38 244.94L448.16 245.1L447.31 245.71L447.26 245.75L446.36 246.4L446.25 246.48L445.47 247.07L445.21 247.25L444.57 247.74L444.19 248.03L443.67 248.42L443.18 248.8L442.77 249.11L442.19 249.57L441.88 249.82L441.21 250.34L440.98 250.53L440.25 251.11L440.08 251.25L439.3 251.89L439.18 251.99L438.37 252.66L438.28 252.73L437.46 253.43L437.39 253.5L436.57 254.2L436.49 254.27L435.69 254.97L435.59 255.06L434.83 255.75L434.69 255.87L433.98 256.52L433.8 256.69L433.16 257.29L432.9 257.53M540.6 201.98L539.7 202.36L539.43 202.47L538.8 202.73L537.91 203.1L537.57 203.24L537.01 203.48L536.11 203.85L535.73 204.01L535.22 204.23L534.32 204.61L533.91 204.79L533.42 204.99L532.52 205.37L532.09 205.56L531.62 205.76L530.73 206.14L530.29 206.33L529.83 206.53L528.93 206.91L528.5 207.1L528.03 207.3L527.14 207.69L526.72 207.87L526.24 208.08L525.34 208.48L524.96 208.65L524.45 208.87L523.55 209.27L523.21 209.42L522.65 209.67L521.75 210.06L521.47 210.19L520.86 210.46L519.96 210.87L519.74 210.96L519.06 211.27L518.16 211.68L518.03 211.74L517.27 212.08L516.37 212.49L516.33 212.51L515.47 212.9L514.65 213.28L514.57 213.31L513.67 213.73L512.98 214.05L512.78 214.14L511.88 214.56L511.32 214.82L510.98 214.98L510.08 215.4L509.67 215.6L509.19 215.83L508.29 216.25L508.04 216.37L507.39 216.68L506.5 217.11L506.42 217.14L505.6 217.54L504.82 217.91L504.7 217.97L503.8 218.41L503.23 218.68L502.9 218.84L502.01 219.28L501.65 219.46L501.11 219.72L500.21 220.17L500.09 220.23L499.32 220.61L498.54 221L498.42 221.06L497.52 221.51L497 221.77L496.62 221.97L495.73 222.42L495.48 222.55L494.83 222.88L493.97 223.32L493.93 223.34L493.03 223.8L492.48 224.09L492.13 224.27L491.24 224.74L491 224.86L490.34 225.21L489.53 225.63L489.44 225.68L488.54 226.16L488.08 226.41L487.65 226.64L486.75 227.12L486.65 227.18L485.85 227.61L485.22 227.95L484.95 228.1L484.06 228.59L483.81 228.72L483.16 229.08L482.42 229.49L482.26 229.58L481.37 230.08L481.04 230.27L480.47 230.59L479.67 231.04L479.57 231.1L478.67 231.61L478.32 231.81L477.77 232.13L476.98 232.58L476.88 232.65L475.98 233.17L475.66 233.36L475.08 233.7L474.36 234.13L474.18 234.23L473.29 234.77L473.06 234.9L472.39 235.31L471.79 235.67L471.49 235.85L470.6 236.4L470.52 236.44L469.7 236.95L469.28 237.22L468.8 237.51L468.04 237.99L467.9 238.08L467 238.65L466.82 238.76L466.11 239.22L465.62 239.53L465.21 239.8L464.44 240.3L464.31 240.39L463.42 240.98L463.26 241.08L462.52 241.57L462.11 241.85L461.62 242.18L460.97 242.62L460.72 242.79L459.84 243.39L459.82 243.4L458.93 244.03L458.73 244.16L458.03 244.66L457.63 244.94L457.13 245.3L456.56 245.71L456.23 245.94L455.49 246.48L455.34 246.6L454.45 247.25L454.44 247.26L453.54 247.93L453.41 248.03L452.64 248.61L452.4 248.8L451.75 249.3L451.4 249.57L450.85 250L450.42 250.34L449.95 250.71L449.45 251.11L449.05 251.43L448.5 251.89L448.16 252.17L447.56 252.66L447.26 252.91L446.65 253.43L446.36 253.67L445.74 254.2L445.47 254.45L444.86 254.97L444.57 255.23L443.99 255.75L443.67 256.04L443.14 256.52L442.77 256.86L442.31 257.29L441.88 257.7L441.49 258.06L440.98 258.56L440.69 258.84L440.08 259.43L439.9 259.61L439.18 260.33L439.14 260.38L438.39 261.15L438.28 261.26L437.66 261.92L437.39 262.21L436.94 262.7L436.49 263.2L436.24 263.47L435.59 264.21L435.56 264.24L434.9 265.01L434.69 265.26L434.26 265.79L433.8 266.35L433.63 266.56L433.03 267.33L432.9 267.49M540.6 205.97L539.76 206.33L539.7 206.36L538.8 206.74L537.97 207.1L537.91 207.13L537.01 207.52L536.19 207.87L536.11 207.91L535.22 208.3L534.42 208.65L534.32 208.69L533.42 209.09L532.67 209.42L532.52 209.48L531.62 209.88L530.93 210.19L530.73 210.28L529.83 210.68L529.2 210.96L528.93 211.08L528.03 211.49L527.48 211.74L527.14 211.89L526.24 212.3L525.78 212.51L525.34 212.71L524.45 213.12L524.09 213.28L523.55 213.53L522.65 213.94L522.42 214.05L521.75 214.36L520.86 214.78L520.75 214.82L519.96 215.2L519.11 215.6L519.06 215.62L518.16 216.04L517.47 216.37L517.27 216.47L516.37 216.89L515.85 217.14L515.47 217.32L514.57 217.75L514.24 217.91L513.67 218.19L512.78 218.62L512.64 218.68L511.88 219.06L511.06 219.46L510.98 219.5L510.08 219.94L509.5 220.23L509.19 220.38L508.29 220.83L507.94 221L507.39 221.28L506.5 221.73L506.4 221.77L505.6 222.18L504.88 222.55L504.7 222.63L503.8 223.09L503.36 223.32L502.9 223.55L502.01 224.02L501.87 224.09L501.11 224.48L500.38 224.86L500.21 224.95L499.32 225.42L498.91 225.63L498.42 225.9L497.52 226.37L497.45 226.41L496.62 226.85L496.01 227.18L495.73 227.33L494.83 227.82L494.58 227.95L493.93 228.31L493.17 228.72L493.03 228.8L492.13 229.29L491.77 229.49L491.24 229.79L490.39 230.27L490.34 230.29L489.44 230.8L489.02 231.04L488.55 231.31L487.66 231.81L487.65 231.82L486.75 232.33L486.32 232.58L485.85 232.85L484.99 233.36L484.95 233.38L484.06 233.9L483.68 234.13L483.16 234.44L482.38 234.9L482.26 234.97L481.37 235.51L481.1 235.67L480.47 236.06L479.83 236.44L479.57 236.6L478.67 237.16L478.58 237.22L477.77 237.72L477.34 237.99L476.88 238.28L476.12 238.76L475.98 238.85L475.08 239.42L474.91 239.53L474.18 240L473.72 240.3L473.29 240.59L472.54 241.08L472.39 241.18L471.49 241.77L471.38 241.85L470.6 242.37L470.23 242.62L469.7 242.98L469.1 243.39L468.8 243.6L467.98 244.16L467.9 244.22L467 244.85L466.88 244.94L466.11 245.49L465.8 245.71L465.21 246.13L464.73 246.48L464.31 246.79L463.68 247.25L463.42 247.45L462.64 248.03L462.52 248.12L461.62 248.8L461.62 248.8L460.72 249.48L460.61 249.57L459.82 250.18L459.62 250.34L458.93 250.89L458.65 251.11L458.03 251.61L457.69 251.89L457.13 252.35L456.75 252.66L456.23 253.09L455.83 253.43L455.34 253.85L454.92 254.2L454.44 254.62L454.03 254.97L453.54 255.4L453.15 255.75L452.64 256.2L452.29 256.52L451.75 257.02L451.45 257.29L450.85 257.86L450.63 258.06L449.95 258.71L449.82 258.84L449.05 259.58L449.03 259.61L448.26 260.38L448.16 260.48L447.5 261.15L447.26 261.4L446.76 261.92L446.36 262.35L446.04 262.7L445.47 263.33L445.34 263.47L444.65 264.24L444.57 264.34L443.98 265.01L443.67 265.38L443.33 265.79L442.77 266.46L442.7 266.56L442.08 267.33L441.88 267.59L441.48 268.1L440.98 268.77L440.9 268.87L440.34 269.65L440.08 270.02L439.8 270.42L439.27 271.19L439.18 271.33L438.77 271.96L438.28 272.73L438.28 272.73L437.81 273.51L437.39 274.23L437.36 274.28L436.93 275.05L436.51 275.82L436.49 275.87L436.12 276.6L435.75 277.37L435.59 277.7L435.39 278.14L435.05 278.91L434.74 279.68L434.69 279.79L434.44 280.46L434.16 281.23L433.9 282M540.6 210.09L540.38 210.19L539.7 210.49L538.8 210.89L538.65 210.96L537.91 211.3L537.01 211.7L536.93 211.74L536.11 212.11L535.23 212.51L535.22 212.51L534.32 212.92L533.53 213.28L533.42 213.33L532.52 213.74L531.85 214.05L531.62 214.16L530.73 214.57L530.19 214.82L529.83 214.99L528.93 215.41L528.53 215.6L528.03 215.83L527.14 216.25L526.89 216.37L526.24 216.68L525.34 217.11L525.27 217.14L524.45 217.53L523.66 217.91L523.55 217.96L522.65 218.4L522.06 218.68L521.75 218.83L520.86 219.27L520.47 219.46L519.96 219.71L519.06 220.15L518.9 220.23L518.16 220.59L517.34 221L517.27 221.04L516.37 221.49L515.8 221.77L515.47 221.94L514.57 222.39L514.27 222.55L513.67 222.85L512.78 223.3L512.75 223.32L511.88 223.76L511.25 224.09L510.98 224.23L510.08 224.69L509.76 224.86L509.19 225.16L508.29 225.63L508.28 225.63L507.39 226.1L506.82 226.41L506.5 226.58L505.6 227.06L505.38 227.18L504.7 227.54L503.94 227.95L503.8 228.03L502.9 228.52L502.53 228.72L502.01 229.01L501.12 229.49L501.11 229.5L500.21 230L499.73 230.27L499.32 230.5L498.42 231L498.36 231.04L497.52 231.51L497 231.81L496.62 232.02L495.73 232.54L495.65 232.58L494.83 233.06L494.32 233.36L493.93 233.58L493.03 234.11L493 234.13L492.13 234.64L491.7 234.9L491.24 235.18L490.41 235.67L490.34 235.71L489.44 236.26L489.14 236.44L488.55 236.81L487.88 237.22L487.65 237.36L486.75 237.92L486.64 237.99L485.85 238.48L485.41 238.76L484.95 239.05L484.19 239.53L484.06 239.62L483.16 240.2L483 240.3L482.26 240.78L481.81 241.08L481.37 241.37L480.64 241.85L480.47 241.97L479.57 242.57L479.49 242.62L478.67 243.18L478.36 243.39L477.77 243.79L477.23 244.16L476.88 244.41L476.13 244.94L475.98 245.04L475.08 245.68L475.04 245.71L474.18 246.32L473.96 246.48L473.29 246.97L472.9 247.25L472.39 247.63L471.86 248.03L471.49 248.3L470.83 248.8L470.6 248.98L469.82 249.57L469.7 249.67L468.83 250.34L468.8 250.36L467.9 251.07L467.85 251.11L467 251.79L466.88 251.89L466.11 252.52L465.94 252.66L465.21 253.26L465.01 253.43L464.31 254.02L464.09 254.2L463.42 254.78L463.19 254.97L462.52 255.57L462.31 255.75L461.62 256.36L461.45 256.52L460.72 257.18L460.6 257.29L459.82 258.01L459.77 258.06L458.95 258.84L458.93 258.86L458.16 259.61L458.03 259.73L457.38 260.38L457.13 260.63L456.61 261.15L456.23 261.54L455.87 261.92L455.34 262.48L455.14 262.7L454.44 263.45L454.43 263.47L453.73 264.24L453.54 264.46L453.06 265.01L452.64 265.5L452.4 265.79L451.76 266.56L451.75 266.57L451.13 267.33L450.85 267.69L450.53 268.1L449.95 268.86L449.94 268.87L449.37 269.65L449.05 270.09L448.82 270.42L448.29 271.19L448.16 271.39L447.77 271.96L447.28 272.73L447.26 272.76L446.8 273.51L446.36 274.24L446.34 274.28L445.9 275.05L445.48 275.82L445.47 275.85L445.08 276.6L444.7 277.37L444.57 277.64L444.33 278.14L443.99 278.91L443.67 279.67L443.66 279.68L443.36 280.46L443.07 281.23L442.8 282M540.6 214.37L539.7 214.78L539.62 214.82L538.8 215.2L537.96 215.6L537.91 215.62L537.01 216.04L536.32 216.37L536.11 216.46L535.22 216.89L534.69 217.14L534.32 217.32L533.42 217.75L533.07 217.91L532.52 218.18L531.62 218.61L531.47 218.68L530.73 219.04L529.88 219.46L529.83 219.48L528.93 219.92L528.3 220.23L528.03 220.36L527.14 220.8L526.74 221L526.24 221.25L525.34 221.7L525.19 221.77L524.45 222.15L523.66 222.55L523.55 222.6L522.65 223.06L522.14 223.32L521.75 223.51L520.86 223.97L520.63 224.09L519.96 224.44L519.13 224.86L519.06 224.9L518.16 225.37L517.66 225.63L517.27 225.84L516.37 226.31L516.19 226.41L515.47 226.79L514.74 227.18L514.57 227.27L513.67 227.75L513.3 227.95L512.78 228.23L511.88 228.72L511.88 228.72L510.98 229.21L510.47 229.49L510.08 229.71L509.19 230.2L509.08 230.27L508.29 230.71L507.7 231.04L507.39 231.21L506.5 231.72L506.33 231.81L505.6 232.23L504.98 232.58L504.7 232.74L503.8 233.26L503.64 233.35L502.9 233.78L502.32 234.13L502.01 234.31L501.11 234.84L501.01 234.9L500.21 235.38L499.72 235.67L499.32 235.92L498.44 236.44L498.42 236.46L497.52 237.01L497.18 237.22L496.62 237.56L495.93 237.99L495.73 238.12L494.83 238.68L494.69 238.76L493.93 239.24L493.48 239.53L493.03 239.82L492.27 240.3L492.13 240.39L491.24 240.98L491.08 241.08L490.34 241.57L489.91 241.85L489.44 242.16L488.75 242.62L488.55 242.76L487.65 243.37L487.61 243.39L486.75 243.98L486.48 244.16L485.85 244.6L485.37 244.94L484.95 245.23L484.27 245.71L484.06 245.86L483.19 246.48L483.16 246.51L482.26 247.16L482.13 247.25L481.37 247.82L481.08 248.03L480.47 248.48L480.05 248.8L479.57 249.16L479.03 249.57L478.67 249.84L478.03 250.34L477.77 250.54L477.04 251.11L476.88 251.24L476.07 251.89L475.98 251.96L475.12 252.66L475.08 252.69L474.18 253.43L474.18 253.43L473.29 254.18L473.26 254.2L472.39 254.95L472.36 254.97L471.49 255.73L471.47 255.75L470.6 256.52L470.6 256.52L469.74 257.29L469.7 257.33L468.91 258.06L468.8 258.16L468.08 258.84L467.9 259.01L467.28 259.61L467 259.88L466.49 260.38L466.11 260.77L465.72 261.15L465.21 261.68L464.97 261.92L464.31 262.61L464.23 262.7L463.52 263.47L463.42 263.58L462.81 264.24L462.52 264.58L462.13 265.01L461.62 265.6L461.46 265.79L460.82 266.56L460.72 266.67L460.19 267.33L459.82 267.78L459.57 268.1L458.98 268.87L458.93 268.94L458.4 269.65L458.03 270.16L457.84 270.42L457.3 271.19L457.13 271.44L456.78 271.96L456.28 272.73L456.23 272.8L455.79 273.51L455.34 274.26L455.32 274.28L454.88 275.05L454.45 275.82L454.44 275.84L454.04 276.6L453.64 277.37L453.54 277.58L453.27 278.14L452.92 278.91L452.64 279.55L452.59 279.68L452.27 280.46L451.98 281.23L451.75 281.87L451.7 282M540.6 218.82L539.7 219.25L539.28 219.46L538.8 219.69L537.91 220.13L537.7 220.23L537.01 220.57L536.13 221L536.11 221.01L535.22 221.46L534.58 221.77L534.32 221.91L533.42 222.36L533.04 222.55L532.52 222.81L531.62 223.26L531.52 223.32L530.73 223.72L530.01 224.09L529.83 224.18L528.93 224.64L528.51 224.86L528.03 225.11L527.14 225.57L527.02 225.63L526.24 226.05L525.55 226.41L525.34 226.52L524.45 226.99L524.1 227.18L523.55 227.47L522.66 227.95L522.65 227.95L521.75 228.44L521.23 228.72L520.86 228.93L519.96 229.42L519.82 229.49L519.06 229.91L518.42 230.27L518.16 230.41L517.27 230.91L517.03 231.04L516.37 231.41L515.66 231.81L515.47 231.92L514.57 232.43L514.3 232.58L513.67 232.94L512.96 233.36L512.78 233.46L511.88 233.98L511.64 234.13L510.98 234.51L510.32 234.9L510.08 235.04L509.19 235.57L509.02 235.67L508.29 236.11L507.74 236.44L507.39 236.66L506.5 237.2L506.47 237.22L505.6 237.75L505.22 237.99L504.7 238.31L503.98 238.76L503.8 238.87L502.9 239.44L502.76 239.53L502.01 240.01L501.55 240.3L501.11 240.59L500.35 241.08L500.21 241.17L499.32 241.76L499.17 241.85L498.42 242.35L498.01 242.62L497.52 242.95L496.86 243.39L496.62 243.56L495.73 244.16L495.73 244.17L494.83 244.79L494.61 244.94L493.93 245.41L493.51 245.71L493.03 246.05L492.42 246.48L492.13 246.69L491.35 247.25L491.24 247.34L490.34 247.99L490.3 248.03L489.44 248.66L489.26 248.8L488.55 249.34L488.23 249.57L487.65 250.02L487.23 250.34L486.75 250.71L486.23 251.11L485.85 251.42L485.26 251.89L484.95 252.13L484.3 252.66L484.06 252.86L483.36 253.43L483.16 253.59L482.43 254.2L482.26 254.34L481.52 254.97L481.37 255.11L480.62 255.75L480.47 255.88L479.75 256.52L479.57 256.68L478.89 257.29L478.67 257.49L478.04 258.06L477.77 258.31L477.21 258.84L476.88 259.15L476.4 259.61L475.98 260.02L475.61 260.38L475.08 260.9L474.83 261.15L474.18 261.81L474.07 261.92L473.33 262.7L473.29 262.74L472.6 263.47L472.39 263.7L471.89 264.24L471.49 264.69L471.2 265.01L470.6 265.71L470.53 265.79L469.87 266.56L469.7 266.77L469.24 267.33L468.8 267.87L468.62 268.1L468.01 268.87L467.9 269.02L467.43 269.65L467 270.22L466.86 270.42L466.31 271.19L466.11 271.49L465.78 271.96L465.27 272.73L465.21 272.83L464.78 273.51L464.31 274.27L464.3 274.28L463.85 275.05L463.42 275.82L463.41 275.82L462.99 276.6L462.59 277.37L462.52 277.52L462.21 278.14L461.85 278.91L461.62 279.43L461.51 279.68L461.18 280.46L460.88 281.23L460.72 281.66L460.6 282M540.6 223.47L539.7 223.92L539.38 224.09L538.8 224.38L537.91 224.85L537.88 224.86L537.01 225.31L536.39 225.63L536.11 225.78L535.22 226.25L534.92 226.41L534.32 226.72L533.45 227.18L533.42 227.2L532.52 227.68L532.01 227.95L531.62 228.16L530.73 228.64L530.58 228.72L529.83 229.13L529.16 229.49L528.93 229.62L528.03 230.11L527.75 230.27L527.14 230.61L526.36 231.04L526.24 231.11L525.34 231.61L524.99 231.81L524.45 232.12L523.63 232.58L523.55 232.63L522.65 233.14L522.28 233.36L521.75 233.66L520.95 234.13L520.86 234.18L519.96 234.71L519.63 234.9L519.06 235.24L518.33 235.67L518.16 235.77L517.27 236.31L517.04 236.44L516.37 236.85L515.77 237.22L515.47 237.4L514.57 237.95L514.51 237.99L513.67 238.5L513.26 238.76L512.78 239.06L512.03 239.53L511.88 239.63L510.98 240.2L510.82 240.3L510.08 240.78L509.62 241.08L509.19 241.36L508.44 241.85L508.29 241.94L507.39 242.54L507.27 242.62L506.5 243.14L506.11 243.39L505.6 243.74L504.97 244.16L504.7 244.35L503.85 244.94L503.8 244.97L502.9 245.6L502.74 245.71L502.01 246.23L501.65 246.48L501.11 246.87L500.57 247.25L500.21 247.52L499.51 248.03L499.32 248.17L498.47 248.8L498.42 248.84L497.52 249.51L497.44 249.57L496.62 250.19L496.42 250.34L495.73 250.88L495.43 251.11L494.83 251.59L494.44 251.89L493.93 252.3L493.48 252.66L493.03 253.02L492.53 253.43L492.13 253.76L491.6 254.2L491.24 254.5L490.68 254.97L490.34 255.26L489.78 255.75L489.44 256.04L488.89 256.52L488.55 256.83L488.03 257.29L487.65 257.63L487.17 258.06L486.75 258.46L486.34 258.84L485.85 259.3L485.52 259.61L484.95 260.15L484.72 260.38L484.06 261.03L483.94 261.15L483.17 261.92L483.16 261.93L482.42 262.7L482.26 262.86L481.69 263.47L481.37 263.82L480.97 264.24L480.47 264.8L480.27 265.01L479.59 265.79L479.57 265.81L478.93 266.56L478.67 266.87L478.28 267.33L477.77 267.96L477.66 268.1L477.05 268.87L476.88 269.09L476.45 269.65L475.98 270.28L475.88 270.42L475.32 271.19L475.08 271.54L474.79 271.96L474.27 272.73L474.18 272.86L473.77 273.51L473.29 274.27L473.28 274.28L472.82 275.05L472.39 275.79L472.37 275.82L471.95 276.6L471.54 277.37L471.49 277.46L471.15 278.14L470.78 278.91L470.6 279.32L470.43 279.68L470.1 280.46L469.78 281.23L469.7 281.45L469.49 282M540.6 228.36L539.92 228.72L539.7 228.84L538.8 229.33L538.5 229.49L537.91 229.82L537.09 230.27L537.01 230.31L536.11 230.81L535.69 231.04L535.22 231.31L534.32 231.81L534.31 231.81L533.42 232.32L532.95 232.58L532.52 232.83L531.62 233.34L531.6 233.36L530.73 233.86L530.26 234.13L529.83 234.38L528.94 234.9L528.93 234.9L528.03 235.43L527.63 235.67L527.14 235.96L526.34 236.44L526.24 236.5L525.34 237.04L525.06 237.22L524.45 237.59L523.79 237.99L523.55 238.14L522.65 238.69L522.54 238.76L521.75 239.25L521.31 239.53L520.86 239.82L520.09 240.3L519.96 240.39L519.06 240.96L518.88 241.08L518.16 241.54L517.69 241.85L517.27 242.13L516.52 242.62L516.37 242.72L515.47 243.32L515.36 243.39L514.57 243.92L514.22 244.16L513.67 244.54L513.09 244.94L512.78 245.15L511.97 245.71L511.88 245.78L510.98 246.41L510.88 246.48L510.08 247.05L509.79 247.25L509.19 247.69L508.73 248.03L508.29 248.35L507.67 248.8L507.39 249.01L506.64 249.57L506.5 249.68L505.62 250.34L505.6 250.36L504.7 251.05L504.62 251.11L503.8 251.75L503.63 251.89L502.9 252.46L502.66 252.66L502.01 253.18L501.7 253.43L501.11 253.91L500.76 254.2L500.21 254.66L499.84 254.97L499.32 255.42L498.93 255.75L498.42 256.19L498.04 256.52L497.52 256.98L497.16 257.29L496.62 257.78L496.31 258.06L495.73 258.6L495.46 258.84L494.83 259.43L494.64 259.61L493.93 260.29L493.83 260.38L493.04 261.15L493.03 261.16L492.27 261.92L492.13 262.06L491.51 262.7L491.24 262.98L490.77 263.47L490.34 263.93L490.05 264.24L489.44 264.9L489.34 265.01L488.65 265.79L488.55 265.91L487.98 266.56L487.65 266.96L487.33 267.33L486.75 268.04L486.7 268.1L486.08 268.87L485.85 269.16L485.48 269.65L484.95 270.34L484.9 270.42L484.33 271.19L484.06 271.58L483.79 271.96L483.26 272.73L483.16 272.89L482.75 273.51L482.26 274.28L482.26 274.28L481.79 275.05L481.37 275.77L481.33 275.82L480.9 276.6L480.48 277.37L480.47 277.4L480.09 278.14L479.71 278.91L479.57 279.2L479.35 279.68L479.01 280.46L478.69 281.23L478.67 281.26L478.38 282M540.6 233.53L539.7 234.05L539.57 234.13L538.8 234.57L538.24 234.9L537.91 235.1L537.01 235.62L536.93 235.67L536.11 236.16L535.63 236.44L535.22 236.69L534.34 237.22L534.32 237.23L533.42 237.78L533.08 237.99L532.52 238.33L531.82 238.76L531.62 238.88L530.73 239.44L530.58 239.53L529.83 240.01L529.36 240.3L528.93 240.57L528.15 241.08L528.03 241.15L527.14 241.73L526.95 241.85L526.24 242.31L525.77 242.62L525.34 242.9L524.61 243.39L524.45 243.5L523.55 244.1L523.46 244.16L522.65 244.71L522.32 244.94L521.75 245.33L521.2 245.71L520.86 245.95L520.1 246.48L519.96 246.58L519.06 247.22L519.01 247.25L518.16 247.86L517.94 248.03L517.27 248.52L516.88 248.8L516.37 249.18L515.84 249.57L515.47 249.85L514.81 250.34L514.57 250.53L513.8 251.11L513.67 251.21L512.81 251.89L512.78 251.91L511.88 252.62L511.83 252.66L510.98 253.34L510.87 253.43L510.08 254.07L509.92 254.2L509.19 254.81L508.99 254.97L508.29 255.57L508.08 255.75L507.39 256.34L507.18 256.52L506.5 257.12L506.3 257.29L505.6 257.92L505.44 258.06L504.7 258.73L504.59 258.84L503.8 259.56L503.76 259.61L502.94 260.38L502.9 260.42L502.14 261.15L502.01 261.29L501.36 261.92L501.11 262.18L500.6 262.7L500.21 263.1L499.85 263.47L499.32 264.04L499.12 264.24L498.42 265L498.41 265.01L497.71 265.79L497.52 266.01L497.04 266.56L496.62 267.04L496.38 267.33L495.73 268.1L495.73 268.11L495.11 268.87L494.83 269.23L494.5 269.65L493.93 270.39L493.91 270.42L493.34 271.19L493.03 271.62L492.79 271.96L492.25 272.73L492.13 272.91L491.74 273.51L491.24 274.28L491.24 274.28L490.76 275.05L490.34 275.75L490.29 275.82L489.85 276.6L489.44 277.34L489.43 277.37L489.02 278.14L488.63 278.91L488.55 279.1L488.27 279.68L487.92 280.46L487.65 281.09L487.59 281.23L487.28 282M540.6 239.07L539.85 239.53L539.7 239.63L538.8 240.19L538.62 240.3L537.91 240.76L537.41 241.08L537.01 241.33L536.2 241.85L536.11 241.91L535.22 242.49L535.02 242.62L534.32 243.08L533.85 243.39L533.42 243.68L532.69 244.16L532.52 244.28L531.62 244.89L531.55 244.94L530.73 245.5L530.43 245.71L529.83 246.13L529.32 246.48L528.93 246.75L528.22 247.25L528.03 247.39L527.15 248.03L527.14 248.03L526.24 248.68L526.08 248.8L525.34 249.34L525.04 249.57L524.45 250.01L524 250.34L523.55 250.69L522.99 251.11L522.65 251.37L521.99 251.89L521.75 252.07L521 252.66L520.86 252.78L520.03 253.43L519.96 253.49L519.08 254.2L519.06 254.22L518.16 254.96L518.15 254.97L517.27 255.71L517.23 255.75L516.37 256.48L516.32 256.52L515.47 257.26L515.43 257.29L514.57 258.05L514.56 258.06L513.71 258.84L513.67 258.87L512.87 259.61L512.78 259.69L512.05 260.38L511.88 260.54L511.24 261.15L510.98 261.41L510.46 261.92L510.08 262.3L509.69 262.7L509.19 263.21L508.93 263.47L508.29 264.14L508.19 264.24L507.48 265.01L507.39 265.1L506.77 265.79L506.5 266.1L506.09 266.56L505.6 267.12L505.42 267.33L504.77 268.1L504.7 268.19L504.14 268.87L503.8 269.29L503.52 269.65L502.93 270.42L502.9 270.45L502.35 271.19L502.01 271.66L501.79 271.96L501.24 272.73L501.11 272.93L500.72 273.51L500.21 274.28L500.21 274.28L499.72 275.05L499.32 275.72L499.25 275.82L498.8 276.6L498.42 277.28L498.37 277.37L497.95 278.14L497.56 278.91L497.52 278.99L497.18 279.68L496.82 280.46L496.62 280.92L496.49 281.23L496.17 282M540.6 245.06L539.7 245.68L539.65 245.71L538.8 246.3L538.54 246.48L537.91 246.92L537.44 247.25L537.01 247.56L536.35 248.03L536.11 248.2L535.28 248.8L535.22 248.85L534.32 249.51L534.23 249.57L533.42 250.17L533.19 250.34L532.52 250.85L532.17 251.11L531.62 251.53L531.16 251.89L530.73 252.23L530.17 252.66L529.83 252.93L529.2 253.43L528.93 253.64L528.24 254.2L528.03 254.37L527.3 254.97L527.14 255.11L526.37 255.75L526.24 255.86L525.46 256.52L525.34 256.62L524.57 257.29L524.45 257.4L523.69 258.06L523.55 258.19L522.83 258.84L522.65 259L521.98 259.61L521.75 259.82L521.15 260.38L520.86 260.66L520.34 261.15L519.96 261.53L519.55 261.92L519.06 262.41L518.77 262.7L518.16 263.31L518.01 263.47L517.27 264.24L517.27 264.24L516.54 265.01L516.37 265.2L515.83 265.79L515.47 266.19L515.14 266.56L514.57 267.2L514.46 267.33L513.8 268.1L513.67 268.26L513.16 268.87L512.78 269.35L512.54 269.65L511.94 270.42L511.88 270.49L511.35 271.19L510.98 271.69L510.78 271.96L510.23 272.73L510.08 272.95L509.7 273.51L509.19 274.27L509.18 274.28L508.69 275.05L508.29 275.69L508.21 275.82L507.75 276.6L507.39 277.22L507.31 277.37L506.89 278.14L506.5 278.89L506.48 278.91L506.1 279.68L505.73 280.46L505.6 280.75L505.38 281.23L505.06 282M540.6 251.69L540.34 251.89L539.7 252.38L539.34 252.66L538.8 253.08L538.36 253.43L537.91 253.79L537.4 254.2L537.01 254.52L536.45 254.97L536.11 255.25L535.51 255.75L535.22 256L534.6 256.52L534.32 256.76L533.7 257.29L533.42 257.53L532.81 258.06L532.52 258.32L531.94 258.84L531.62 259.12L531.09 259.61L530.73 259.95L530.26 260.38L529.83 260.78L529.44 261.15L528.93 261.64L528.64 261.92L528.03 262.52L527.85 262.7L527.14 263.42L527.09 263.47L526.33 264.24L526.24 264.34L525.6 265.01L525.34 265.29L524.88 265.79L524.45 266.27L524.18 266.56L523.55 267.28L523.5 267.33L522.84 268.1L522.65 268.32L522.19 268.87L521.75 269.41L521.56 269.65L520.95 270.42L520.86 270.54L520.35 271.19L519.96 271.72L519.78 271.96L519.22 272.73L519.06 272.96L518.68 273.51L518.16 274.27L518.15 274.28L517.65 275.05L517.27 275.66L517.16 275.82L516.7 276.6L516.37 277.16L516.25 277.37L515.82 278.14L515.47 278.79L515.4 278.91L515.01 279.68L514.64 280.46L514.57 280.59L514.28 281.23L513.94 282M540.6 259.25L540.2 259.61L539.7 260.06L539.36 260.38L538.8 260.9L538.53 261.15L537.91 261.75L537.73 261.92L537.01 262.62L536.93 262.7L536.16 263.47L536.11 263.52L535.4 264.24L535.22 264.43L534.66 265.01L534.32 265.38L533.94 265.79L533.42 266.35L533.23 266.56L532.54 267.33L532.52 267.35L531.87 268.1L531.62 268.39L531.21 268.87L530.73 269.46L530.58 269.65L529.96 270.42L529.83 270.58L529.35 271.19L528.93 271.75L528.77 271.96L528.2 272.73L528.03 272.97L527.65 273.51L527.14 274.26L527.12 274.28L526.61 275.05L526.24 275.63L526.12 275.82L525.64 276.6L525.34 277.1L525.18 277.37L524.74 278.14L524.45 278.69L524.32 278.91L523.92 279.68L523.55 280.44L523.54 280.46L523.18 281.23L522.83 282M540.6 268.45L540.23 268.87L539.7 269.51L539.59 269.65L538.96 270.42L538.8 270.62L538.35 271.19L537.91 271.77L537.76 271.96L537.19 272.73L537.01 272.98L536.63 273.51L536.11 274.25L536.09 274.28L535.57 275.05L535.22 275.6L535.07 275.82L534.59 276.6L534.32 277.04L534.12 277.37L533.67 278.14L533.42 278.59L533.24 278.91L532.83 279.68L532.52 280.3L532.44 280.46L532.07 281.23L531.72 282" fill="none" stroke="#869292" stroke-width="0.6" clip-path="url(#tsclip)"/>
<polyline points="486.3,192.2 489,190.4 491.7,192.2 493.1,195.4 493.1,199.9 492.6,203.6 490.8,207.2 489,210.8 489.9,214.9 487.2,216.2 485.4,219.9 482.6,224.4 479.9,228.9 477.7,234.3 476.3,238.9 473.9,246.6 470.6,253.1 469.9,259.7 471.9,265 475.2,267.6 477.8,271.5 479.8,275.5" fill="none" stroke="#ff0000" stroke-width="5.0" stroke-linejoin="round" stroke-linecap="round" opacity="1.0"/>
<polyline points="485.6,192.2 488.3,190.4 491,192.2 492.4,195.4 492.4,199.9 491.9,203.6 490.1,207.2 488.3,210.8 489.2,214.9 486.5,216.2 484.7,219.9 481.9,224.4 479.2,228.9 477,234.3 475.6,238.9" fill="none" stroke="#f800f8" stroke-width="3.4" stroke-linejoin="round" stroke-linecap="round" opacity="1.0"/>
<polyline points="476.9,238.7 474.5,246.4 471.2,252.9 470.5,259.5 472.5,264.8 475.8,267.4 478.4,271.3 480.4,275.3" fill="none" stroke="#f800f8" stroke-width="3.4" stroke-linejoin="round" stroke-linecap="round" opacity="1.0"/>
<line x1="432.9" y1="173.1" x2="432.9" y2="282.8" stroke="#f800f8" stroke-width="2.2"/>
<path d="M432.9 282h-5.5M432.9 266.56h-5.5M432.9 251.11h-5.5M432.9 235.67h-5.5M432.9 220.23h-5.5M432.9 204.79h-5.5M432.9 189.34h-5.5M432.9 173.9h-5.5" stroke="#f800f8" stroke-width="1.5" fill="none"/>
<path d="M432.9 278.91h-2.8M432.9 275.82h-2.8M432.9 272.73h-2.8M432.9 269.65h-2.8M432.9 263.47h-2.8M432.9 260.38h-2.8M432.9 257.29h-2.8M432.9 254.2h-2.8M432.9 248.03h-2.8M432.9 244.94h-2.8M432.9 241.85h-2.8M432.9 238.76h-2.8M432.9 232.58h-2.8M432.9 229.49h-2.8M432.9 226.41h-2.8M432.9 223.32h-2.8M432.9 217.14h-2.8M432.9 214.05h-2.8M432.9 210.96h-2.8M432.9 207.87h-2.8M432.9 201.7h-2.8M432.9 198.61h-2.8M432.9 195.52h-2.8M432.9 192.43h-2.8M432.9 186.25h-2.8M432.9 183.17h-2.8M432.9 180.08h-2.8M432.9 176.99h-2.8" stroke="#f800f8" stroke-width="1.3" fill="none"/>
<line x1="540.6" y1="173.1" x2="540.6" y2="282.8" stroke="#f800f8" stroke-width="2.2"/>
<path d="M540.6 282h5.5M540.6 266.56h5.5M540.6 251.11h5.5M540.6 235.67h5.5M540.6 220.23h5.5M540.6 204.79h5.5M540.6 189.34h5.5M540.6 173.9h5.5" stroke="#f800f8" stroke-width="1.5" fill="none"/>
<path d="M540.6 278.91h2.8M540.6 275.82h2.8M540.6 272.73h2.8M540.6 269.65h2.8M540.6 263.47h2.8M540.6 260.38h2.8M540.6 257.29h2.8M540.6 254.2h2.8M540.6 248.03h2.8M540.6 244.94h2.8M540.6 241.85h2.8M540.6 238.76h2.8M540.6 232.58h2.8M540.6 229.49h2.8M540.6 226.41h2.8M540.6 223.32h2.8M540.6 217.14h2.8M540.6 214.05h2.8M540.6 210.96h2.8M540.6 207.87h2.8M540.6 201.7h2.8M540.6 198.61h2.8M540.6 195.52h2.8M540.6 192.43h2.8M540.6 186.25h2.8M540.6 183.17h2.8M540.6 180.08h2.8M540.6 176.99h2.8" stroke="#f800f8" stroke-width="1.3" fill="none"/>
<line x1="432.1" y1="173.9" x2="541.4" y2="173.9" stroke="#f800f8" stroke-width="2.2"/>
<path d="M432.9 173.9v-5.5M450.85 173.9v-5.5M468.8 173.9v-5.5M486.75 173.9v-5.5M504.7 173.9v-5.5M522.65 173.9v-5.5M540.6 173.9v-5.5" stroke="#f800f8" stroke-width="1.5" fill="none"/>
<path d="M436.49 173.9v-2.8M440.08 173.9v-2.8M443.67 173.9v-2.8M447.26 173.9v-2.8M454.44 173.9v-2.8M458.03 173.9v-2.8M461.62 173.9v-2.8M465.21 173.9v-2.8M472.39 173.9v-2.8M475.98 173.9v-2.8M479.57 173.9v-2.8M483.16 173.9v-2.8M490.34 173.9v-2.8M493.93 173.9v-2.8M497.52 173.9v-2.8M501.11 173.9v-2.8M508.29 173.9v-2.8M511.88 173.9v-2.8M515.47 173.9v-2.8M519.06 173.9v-2.8M526.24 173.9v-2.8M529.83 173.9v-2.8M533.42 173.9v-2.8M537.01 173.9v-2.8" stroke="#f800f8" stroke-width="1.3" fill="none"/>
<line x1="432.1" y1="282" x2="541.4" y2="282" stroke="#f800f8" stroke-width="2.2"/>
<path d="M432.9 282v5.5M450.85 282v5.5M468.8 282v5.5M486.75 282v5.5M504.7 282v5.5M522.65 282v5.5M540.6 282v5.5" stroke="#f800f8" stroke-width="1.5" fill="none"/>
<path d="M436.49 282v2.8M440.08 282v2.8M443.67 282v2.8M447.26 282v2.8M454.44 282v2.8M458.03 282v2.8M461.62 282v2.8M465.21 282v2.8M472.39 282v2.8M475.98 282v2.8M479.57 282v2.8M483.16 282v2.8M490.34 282v2.8M493.93 282v2.8M497.52 282v2.8M501.11 282v2.8M508.29 282v2.8M511.88 282v2.8M515.47 282v2.8M519.06 282v2.8M526.24 282v2.8M529.83 282v2.8M533.42 282v2.8M537.01 282v2.8" stroke="#f800f8" stroke-width="1.3" fill="none"/>
<text x="432.9" y="163.4" fill="#f800f8" font-size="14" font-weight="normal" text-anchor="middle" stroke="#f800f8" stroke-width="0.55" >32</text>
<text x="450.85" y="163.4" fill="#f800f8" font-size="14" font-weight="normal" text-anchor="middle" stroke="#f800f8" stroke-width="0.55" >33</text>
<text x="468.8" y="163.4" fill="#f800f8" font-size="14" font-weight="normal" text-anchor="middle" stroke="#f800f8" stroke-width="0.55" >34</text>
<text x="486.75" y="163.4" fill="#f800f8" font-size="14" font-weight="normal" text-anchor="middle" stroke="#f800f8" stroke-width="0.55" >35</text>
<text x="504.7" y="163.4" fill="#f800f8" font-size="14" font-weight="normal" text-anchor="middle" stroke="#f800f8" stroke-width="0.55" >36</text>
<text x="522.65" y="163.4" fill="#f800f8" font-size="14" font-weight="normal" text-anchor="middle" stroke="#f800f8" stroke-width="0.55" >37</text>
<text x="540.6" y="163.4" fill="#f800f8" font-size="14" font-weight="normal" text-anchor="middle" stroke="#f800f8" stroke-width="0.55" >38</text>
<text x="486.5" y="146.2" fill="#f800f8" font-size="13" font-weight="bold" text-anchor="middle" >Salinity (PSU)</text>
<text x="565" y="286.8" fill="#f800f8" font-size="14" font-weight="normal" text-anchor="end" stroke="#f800f8" stroke-width="0.55" >0</text>
<text x="565" y="271.36" fill="#f800f8" font-size="14" font-weight="normal" text-anchor="end" stroke="#f800f8" stroke-width="0.55" >5</text>
<text x="565" y="255.91" fill="#f800f8" font-size="14" font-weight="normal" text-anchor="end" stroke="#f800f8" stroke-width="0.55" >10</text>
<text x="565" y="240.47" fill="#f800f8" font-size="14" font-weight="normal" text-anchor="end" stroke="#f800f8" stroke-width="0.55" >15</text>
<text x="565" y="225.03" fill="#f800f8" font-size="14" font-weight="normal" text-anchor="end" stroke="#f800f8" stroke-width="0.55" >20</text>
<text x="565" y="209.59" fill="#f800f8" font-size="14" font-weight="normal" text-anchor="end" stroke="#f800f8" stroke-width="0.55" >25</text>
<text x="565" y="194.14" fill="#f800f8" font-size="14" font-weight="normal" text-anchor="end" stroke="#f800f8" stroke-width="0.55" >30</text>
<text x="565" y="178.7" fill="#f800f8" font-size="14" font-weight="normal" text-anchor="end" stroke="#f800f8" stroke-width="0.55" >35</text>
<text x="0" y="0" fill="#f800f8" font-size="13" font-weight="bold" text-anchor="middle" transform="translate(584.2,228) rotate(-90)">Insitu Temperature (&#730;C)</text>
<text x="432" y="318.2" fill="#000000" font-size="14" font-weight="normal" text-anchor="start" stroke="#000000" stroke-width="0.7" >Float:&#160; 22555</text>
<text x="432" y="332.7" fill="#000000" font-size="14" font-weight="normal" text-anchor="start" stroke="#000000" stroke-width="0.7" >Profile:&#160; 045</text>
<text x="432" y="347.2" fill="#000000" font-size="14" font-weight="normal" text-anchor="start" stroke="#000000" stroke-width="0.7" >Location:&#160; 22.9&#730;N&#160; 166.9&#730;E</text>
<text x="432" y="361.7" fill="#000000" font-size="14" font-weight="normal" text-anchor="start" stroke="#000000" stroke-width="0.7" >Date:&#160; 10/19/2025</text>
<clipPath id="mapclip"><path d="M480.4 496.7L481 496.7L481.7 496.7L482.3 496.5L482.8 496.1L482.8 496.1L482.9 496.1L483.1 496L483.1 495.9L483.3 495.8L483.4 495.8L483.6 495.6L483.7 495.6L483.9 495.5L483.9 495.5L484.2 495.3L484.3 495.3L484.5 495.2L484.6 495.2L484.9 495L484.9 495L485.2 494.9L485.3 494.9L485.6 494.7L485.6 494.7L486 494.6L486 494.6L486.4 494.5L486.4 494.5L486.8 494.3L486.8 494.3L487.2 494.2L487.2 494.2L487.6 494.1L487.6 494.1L488.1 494L488.1 493.9L488.5 493.8L488.5 493.8L489 493.7L489 493.7L489.4 493.6L489.5 493.6L489.9 493.5L489.9 493.5L490.4 493.4L490.4 493.4L490.9 493.3L491.4 493.2L492 493.1L492.5 493L493 492.9L493.6 492.8L494.1 492.7L494.7 492.6L495.3 492.6L495.9 492.5L496.5 492.4L497 492.4L497.6 492.3L498.3 492.2L498.9 492.2L499.5 492.1L500.1 492L500.7 492L501.4 492L502 491.9L502.6 491.9L503.3 491.8L503.9 491.8L504.6 491.8L505.2 491.7L505.9 491.7L506.6 491.7L507.2 491.7L507.9 491.6L508.5 491.6L509.2 491.6L509.9 491.6L510.5 491.6L511.2 491.6L511.9 491.6L512.5 491.6L513.2 491.6L513.9 491.6L514.5 491.6L515.2 491.6L515.9 491.7L516.5 491.7L517.2 491.7L517.8 491.7L518.5 491.8L519.1 491.8L519.8 491.8L520.4 491.9L521.1 491.9L521.7 491.9L522.4 492L523 492L523.6 492.1L524.2 492.2L524.8 492.2L525.4 492.3L526 492.3L526.6 492.4L527.2 492.5L527.8 492.6L528.4 492.6L528.9 492.7L529.5 492.8L530 492.9L530.6 493L531.1 493.1L531.6 493.2L532.2 493.3L532.7 493.4L532.7 493.4L533.2 493.5L533.2 493.5L533.6 493.6L533.7 493.6L534.1 493.7L534.1 493.7L534.6 493.8L534.6 493.8L535 493.9L535 494L535.5 494.1L535.5 494.1L535.9 494.2L535.9 494.2L536.3 494.3L536.3 494.3L536.7 494.5L536.7 494.5L537.1 494.6L537.1 494.6L537.5 494.7L537.5 494.7L537.8 494.9L537.9 494.9L538.2 495L538.2 495L538.5 495.2L538.6 495.2L538.8 495.3L538.9 495.3L539.2 495.5L539.2 495.5L539.4 495.6L539.5 495.6L539.7 495.8L539.8 495.8L540 495.9L540 496L540.2 496.1L540.3 496.1L540.3 496.1L540.8 496.5L541.4 496.7L542.1 496.7L542.7 496.7L544.1 496.4L544.2 496.4L547 495.7L547 495.7L549.8 494.9L549.9 494.9L552.5 494.1L552.6 494.1L555.2 493.3L555.3 493.3L557.8 492.4L557.9 492.4L560.4 491.4L560.5 491.4L562.8 490.4L562.9 490.4L565.2 489.4L565.3 489.3L567.5 488.3L567.6 488.2L569.7 487.1L569.8 487.1L571.8 485.9L571.9 485.9L573.8 484.7L573.9 484.6L575.7 483.4L575.8 483.4L577.6 482.1L577.7 482.1L579.2 480.8L579.4 480.7L580.8 479.4L580.9 479.3L582.3 478L582.4 477.9L583.7 476.6L583.8 476.5L584.9 475.1L585 475L586.1 473.6L586.2 473.5L587.1 472.1L587.2 472L587.9 470.6L588 470.4L588.7 469.1L588.8 468.9L589.4 467.5L589.4 467.3L589.9 466L589.9 465.7L590.3 464.4L590.3 464.2L590.5 462.8L590.6 462.6L590.7 461.2L590.7 461L590.7 459.6L590.7 459.4L590.6 458L590.5 457.8L590.3 456.4L590.3 456.2L589.9 454.9L589.9 454.6L589.4 453.3L589.4 453.1L588.8 451.7L588.7 451.5L588 450.2L587.9 450L587.2 448.6L587.1 448.5L586.2 447.1L586.1 447L585 445.6L584.9 445.5L583.8 444.1L583.7 444L582.4 442.7L582.3 442.6L580.9 441.3L580.8 441.2L579.4 439.9L579.2 439.8L577.7 438.5L577.6 438.5L575.8 437.2L575.7 437.2L573.9 436L573.8 435.9L571.9 434.7L571.8 434.7L569.8 433.5L569.7 433.5L567.6 432.4L567.5 432.3L565.3 431.3L565.2 431.2L562.9 430.2L562.8 430.2L560.5 429.2L560.4 429.2L557.9 428.2L557.8 428.2L555.3 427.3L555.2 427.3L552.6 426.5L552.5 426.5L549.9 425.7L549.8 425.7L547 424.9L547 424.9L544.2 424.2L544.1 424.2L542.7 423.9L542.1 423.9L541.4 423.9L540.8 424.1L540.3 424.5L540.3 424.5L540.2 424.5L540 424.6L540 424.7L539.8 424.8L539.7 424.8L539.5 425L539.4 425L539.2 425.1L539.2 425.1L538.9 425.3L538.8 425.3L538.6 425.4L538.5 425.4L538.2 425.6L538.2 425.6L537.9 425.7L537.8 425.7L537.5 425.9L537.5 425.9L537.1 426L537.1 426L536.7 426.1L536.7 426.1L536.3 426.3L536.3 426.3L535.9 426.4L535.9 426.4L535.5 426.5L535.5 426.5L535 426.6L535 426.7L534.6 426.8L534.6 426.8L534.1 426.9L534.1 426.9L533.7 427L533.6 427L533.2 427.1L533.2 427.1L532.7 427.2L532.7 427.2L532.2 427.3L531.7 427.4L531.1 427.5L530.6 427.6L530.1 427.7L529.5 427.8L529 427.9L528.4 428L527.8 428L527.2 428.1L526.6 428.2L526.1 428.2L525.5 428.3L524.8 428.4L524.2 428.4L523.6 428.5L523 428.6L522.4 428.6L521.7 428.6L521.1 428.7L520.5 428.7L519.8 428.8L519.2 428.8L518.5 428.8L517.9 428.9L517.2 428.9L516.5 428.9L515.9 428.9L515.2 429L514.6 429L513.9 429L513.2 429L512.6 429L511.9 429L511.2 429L510.6 429L509.9 429L509.2 429L508.6 429L507.9 429L507.2 428.9L506.6 428.9L505.9 428.9L505.3 428.9L504.6 428.8L504 428.8L503.3 428.8L502.7 428.7L502 428.7L501.4 428.7L500.7 428.6L500.1 428.6L499.5 428.5L498.9 428.4L498.3 428.4L497.7 428.3L497.1 428.3L496.5 428.2L495.9 428.1L495.3 428L494.7 428L494.2 427.9L493.6 427.8L493.1 427.7L492.5 427.6L492 427.5L491.5 427.4L490.9 427.3L490.4 427.2L490.4 427.2L489.9 427.1L489.9 427.1L489.5 427L489.4 427L489 426.9L489 426.9L488.5 426.8L488.5 426.8L488.1 426.7L488.1 426.6L487.6 426.5L487.6 426.5L487.2 426.4L487.2 426.4L486.8 426.3L486.8 426.3L486.4 426.1L486.4 426.1L486 426L486 426L485.6 425.9L485.6 425.9L485.3 425.7L485.2 425.7L484.9 425.6L484.9 425.6L484.6 425.4L484.5 425.4L484.3 425.3L484.2 425.3L483.9 425.1L483.9 425.1L483.7 425L483.6 425L483.4 424.8L483.3 424.8L483.1 424.7L483.1 424.6L482.9 424.5L482.8 424.5L482.8 424.5L482.3 424.1L481.7 423.9L481 423.9L480.4 423.9L479 424.2L478.9 424.2L476.1 424.9L476.1 424.9L473.3 425.7L473.2 425.7L470.6 426.5L470.5 426.5L467.9 427.3L467.8 427.3L465.3 428.2L465.2 428.2L462.7 429.2L462.6 429.2L460.3 430.2L460.2 430.2L457.9 431.2L457.8 431.3L455.6 432.3L455.5 432.4L453.4 433.5L453.3 433.5L451.3 434.7L451.2 434.7L449.3 435.9L449.2 436L447.4 437.2L447.3 437.2L445.5 438.5L445.4 438.5L443.9 439.8L443.7 439.9L442.3 441.2L442.2 441.3L440.8 442.6L440.7 442.7L439.4 444L439.3 444.1L438.2 445.5L438.1 445.6L437 447L436.9 447.1L436 448.5L435.9 448.6L435.2 450L435.1 450.2L434.4 451.5L434.3 451.7L433.7 453.1L433.7 453.3L433.2 454.6L433.2 454.9L432.8 456.2L432.8 456.4L432.6 457.8L432.5 458L432.4 459.4L432.4 459.6L432.4 461L432.4 461.2L432.5 462.6L432.6 462.8L432.8 464.2L432.8 464.4L433.2 465.7L433.2 466L433.7 467.3L433.7 467.5L434.3 468.9L434.4 469.1L435.1 470.4L435.2 470.6L435.9 472L436 472.1L436.9 473.5L437 473.6L438.1 475L438.2 475.1L439.3 476.5L439.4 476.6L440.7 477.9L440.8 478L442.2 479.3L442.3 479.4L443.7 480.7L443.9 480.8L445.4 482.1L445.5 482.1L447.3 483.4L447.4 483.4L449.2 484.6L449.3 484.7L451.2 485.9L451.3 485.9L453.3 487.1L453.4 487.1L455.5 488.2L455.6 488.3L457.8 489.3L457.9 489.4L460.2 490.4L460.3 490.4L462.6 491.4L462.7 491.4L465.2 492.4L465.3 492.4L467.8 493.3L467.9 493.3L470.5 494.1L470.6 494.1L473.2 494.9L473.3 494.9L476.1 495.7L476.1 495.7L478.9 496.4L479 496.4L480.4 496.7Z"/></clipPath>
<path d="M480.4 496.7L481 496.7L481.7 496.7L482.3 496.5L482.8 496.1L482.8 496.1L482.9 496.1L483.1 496L483.1 495.9L483.3 495.8L483.4 495.8L483.6 495.6L483.7 495.6L483.9 495.5L483.9 495.5L484.2 495.3L484.3 495.3L484.5 495.2L484.6 495.2L484.9 495L484.9 495L485.2 494.9L485.3 494.9L485.6 494.7L485.6 494.7L486 494.6L486 494.6L486.4 494.5L486.4 494.5L486.8 494.3L486.8 494.3L487.2 494.2L487.2 494.2L487.6 494.1L487.6 494.1L488.1 494L488.1 493.9L488.5 493.8L488.5 493.8L489 493.7L489 493.7L489.4 493.6L489.5 493.6L489.9 493.5L489.9 493.5L490.4 493.4L490.4 493.4L490.9 493.3L491.4 493.2L492 493.1L492.5 493L493 492.9L493.6 492.8L494.1 492.7L494.7 492.6L495.3 492.6L495.9 492.5L496.5 492.4L497 492.4L497.6 492.3L498.3 492.2L498.9 492.2L499.5 492.1L500.1 492L500.7 492L501.4 492L502 491.9L502.6 491.9L503.3 491.8L503.9 491.8L504.6 491.8L505.2 491.7L505.9 491.7L506.6 491.7L507.2 491.7L507.9 491.6L508.5 491.6L509.2 491.6L509.9 491.6L510.5 491.6L511.2 491.6L511.9 491.6L512.5 491.6L513.2 491.6L513.9 491.6L514.5 491.6L515.2 491.6L515.9 491.7L516.5 491.7L517.2 491.7L517.8 491.7L518.5 491.8L519.1 491.8L519.8 491.8L520.4 491.9L521.1 491.9L521.7 491.9L522.4 492L523 492L523.6 492.1L524.2 492.2L524.8 492.2L525.4 492.3L526 492.3L526.6 492.4L527.2 492.5L527.8 492.6L528.4 492.6L528.9 492.7L529.5 492.8L530 492.9L530.6 493L531.1 493.1L531.6 493.2L532.2 493.3L532.7 493.4L532.7 493.4L533.2 493.5L533.2 493.5L533.6 493.6L533.7 493.6L534.1 493.7L534.1 493.7L534.6 493.8L534.6 493.8L535 493.9L535 494L535.5 494.1L535.5 494.1L535.9 494.2L535.9 494.2L536.3 494.3L536.3 494.3L536.7 494.5L536.7 494.5L537.1 494.6L537.1 494.6L537.5 494.7L537.5 494.7L537.8 494.9L537.9 494.9L538.2 495L538.2 495L538.5 495.2L538.6 495.2L538.8 495.3L538.9 495.3L539.2 495.5L539.2 495.5L539.4 495.6L539.5 495.6L539.7 495.8L539.8 495.8L540 495.9L540 496L540.2 496.1L540.3 496.1L540.3 496.1L540.8 496.5L541.4 496.7L542.1 496.7L542.7 496.7L544.1 496.4L544.2 496.4L547 495.7L547 495.7L549.8 494.9L549.9 494.9L552.5 494.1L552.6 494.1L555.2 493.3L555.3 493.3L557.8 492.4L557.9 492.4L560.4 491.4L560.5 491.4L562.8 490.4L562.9 490.4L565.2 489.4L565.3 489.3L567.5 488.3L567.6 488.2L569.7 487.1L569.8 487.1L571.8 485.9L571.9 485.9L573.8 484.7L573.9 484.6L575.7 483.4L575.8 483.4L577.6 482.1L577.7 482.1L579.2 480.8L579.4 480.7L580.8 479.4L580.9 479.3L582.3 478L582.4 477.9L583.7 476.6L583.8 476.5L584.9 475.1L585 475L586.1 473.6L586.2 473.5L587.1 472.1L587.2 472L587.9 470.6L588 470.4L588.7 469.1L588.8 468.9L589.4 467.5L589.4 467.3L589.9 466L589.9 465.7L590.3 464.4L590.3 464.2L590.5 462.8L590.6 462.6L590.7 461.2L590.7 461L590.7 459.6L590.7 459.4L590.6 458L590.5 457.8L590.3 456.4L590.3 456.2L589.9 454.9L589.9 454.6L589.4 453.3L589.4 453.1L588.8 451.7L588.7 451.5L588 450.2L587.9 450L587.2 448.6L587.1 448.5L586.2 447.1L586.1 447L585 445.6L584.9 445.5L583.8 444.1L583.7 444L582.4 442.7L582.3 442.6L580.9 441.3L580.8 441.2L579.4 439.9L579.2 439.8L577.7 438.5L577.6 438.5L575.8 437.2L575.7 437.2L573.9 436L573.8 435.9L571.9 434.7L571.8 434.7L569.8 433.5L569.7 433.5L567.6 432.4L567.5 432.3L565.3 431.3L565.2 431.2L562.9 430.2L562.8 430.2L560.5 429.2L560.4 429.2L557.9 428.2L557.8 428.2L555.3 427.3L555.2 427.3L552.6 426.5L552.5 426.5L549.9 425.7L549.8 425.7L547 424.9L547 424.9L544.2 424.2L544.1 424.2L542.7 423.9L542.1 423.9L541.4 423.9L540.8 424.1L540.3 424.5L540.3 424.5L540.2 424.5L540 424.6L540 424.7L539.8 424.8L539.7 424.8L539.5 425L539.4 425L539.2 425.1L539.2 425.1L538.9 425.3L538.8 425.3L538.6 425.4L538.5 425.4L538.2 425.6L538.2 425.6L537.9 425.7L537.8 425.7L537.5 425.9L537.5 425.9L537.1 426L537.1 426L536.7 426.1L536.7 426.1L536.3 426.3L536.3 426.3L535.9 426.4L535.9 426.4L535.5 426.5L535.5 426.5L535 426.6L535 426.7L534.6 426.8L534.6 426.8L534.1 426.9L534.1 426.9L533.7 427L533.6 427L533.2 427.1L533.2 427.1L532.7 427.2L532.7 427.2L532.2 427.3L531.7 427.4L531.1 427.5L530.6 427.6L530.1 427.7L529.5 427.8L529 427.9L528.4 428L527.8 428L527.2 428.1L526.6 428.2L526.1 428.2L525.5 428.3L524.8 428.4L524.2 428.4L523.6 428.5L523 428.6L522.4 428.6L521.7 428.6L521.1 428.7L520.5 428.7L519.8 428.8L519.2 428.8L518.5 428.8L517.9 428.9L517.2 428.9L516.5 428.9L515.9 428.9L515.2 429L514.6 429L513.9 429L513.2 429L512.6 429L511.9 429L511.2 429L510.6 429L509.9 429L509.2 429L508.6 429L507.9 429L507.2 428.9L506.6 428.9L505.9 428.9L505.3 428.9L504.6 428.8L504 428.8L503.3 428.8L502.7 428.7L502 428.7L501.4 428.7L500.7 428.6L500.1 428.6L499.5 428.5L498.9 428.4L498.3 428.4L497.7 428.3L497.1 428.3L496.5 428.2L495.9 428.1L495.3 428L494.7 428L494.2 427.9L493.6 427.8L493.1 427.7L492.5 427.6L492 427.5L491.5 427.4L490.9 427.3L490.4 427.2L490.4 427.2L489.9 427.1L489.9 427.1L489.5 427L489.4 427L489 426.9L489 426.9L488.5 426.8L488.5 426.8L488.1 426.7L488.1 426.6L487.6 426.5L487.6 426.5L487.2 426.4L487.2 426.4L486.8 426.3L486.8 426.3L486.4 426.1L486.4 426.1L486 426L486 426L485.6 425.9L485.6 425.9L485.3 425.7L485.2 425.7L484.9 425.6L484.9 425.6L484.6 425.4L484.5 425.4L484.3 425.3L484.2 425.3L483.9 425.1L483.9 425.1L483.7 425L483.6 425L483.4 424.8L483.3 424.8L483.1 424.7L483.1 424.6L482.9 424.5L482.8 424.5L482.8 424.5L482.3 424.1L481.7 423.9L481 423.9L480.4 423.9L479 424.2L478.9 424.2L476.1 424.9L476.1 424.9L473.3 425.7L473.2 425.7L470.6 426.5L470.5 426.5L467.9 427.3L467.8 427.3L465.3 428.2L465.2 428.2L462.7 429.2L462.6 429.2L460.3 430.2L460.2 430.2L457.9 431.2L457.8 431.3L455.6 432.3L455.5 432.4L453.4 433.5L453.3 433.5L451.3 434.7L451.2 434.7L449.3 435.9L449.2 436L447.4 437.2L447.3 437.2L445.5 438.5L445.4 438.5L443.9 439.8L443.7 439.9L442.3 441.2L442.2 441.3L440.8 442.6L440.7 442.7L439.4 444L439.3 444.1L438.2 445.5L438.1 445.6L437 447L436.9 447.1L436 448.5L435.9 448.6L435.2 450L435.1 450.2L434.4 451.5L434.3 451.7L433.7 453.1L433.7 453.3L433.2 454.6L433.2 454.9L432.8 456.2L432.8 456.4L432.6 457.8L432.5 458L432.4 459.4L432.4 459.6L432.4 461L432.4 461.2L432.5 462.6L432.6 462.8L432.8 464.2L432.8 464.4L433.2 465.7L433.2 466L433.7 467.3L433.7 467.5L434.3 468.9L434.4 469.1L435.1 470.4L435.2 470.6L435.9 472L436 472.1L436.9 473.5L437 473.6L438.1 475L438.2 475.1L439.3 476.5L439.4 476.6L440.7 477.9L440.8 478L442.2 479.3L442.3 479.4L443.7 480.7L443.9 480.8L445.4 482.1L445.5 482.1L447.3 483.4L447.4 483.4L449.2 484.6L449.3 484.7L451.2 485.9L451.3 485.9L453.3 487.1L453.4 487.1L455.5 488.2L455.6 488.3L457.8 489.3L457.9 489.4L460.2 490.4L460.3 490.4L462.6 491.4L462.7 491.4L465.2 492.4L465.3 492.4L467.8 493.3L467.9 493.3L470.5 494.1L470.6 494.1L473.2 494.9L473.3 494.9L476.1 495.7L476.1 495.7L478.9 496.4L479 496.4L480.4 496.7Z" fill="#d2f0f9"/>
<path d="M513.5 429L513.8 429L514 429L514.2 429L514.4 429L514.6 429L514.9 429L515.1 429L515.3 429L515.5 429L515.7 428.9L515.9 428.9L516.2 428.9L516.4 428.9L516.6 428.9L516.8 428.9L517 428.9L517.3 428.9L517.5 428.9L517.7 428.9L517.9 428.9L518.1 428.9L518.3 428.9L518.6 428.8L518.8 428.8L519 428.8L519.2 428.8L519.4 428.8L519.6 428.8L519.8 428.8L520.1 428.8L520.3 428.7L520.5 428.7L520.7 428.7L520.9 428.7L521.1 428.7L521.3 428.7L521.5 428.7L521.7 428.6L522 428.6L522.2 428.6L522.4 428.6L522.6 428.6L522.8 428.6L523 428.5L523.2 428.5L523.4 428.5L523.6 428.5L523.8 428.5L524 428.5L524.2 428.4L524.4 428.4L524.6 428.4L524.8 428.4L525 428.4L525.2 428.3L525.4 428.3L525.6 428.3L525.8 428.3L526 428.3L526.2 428.2L526.4 428.2L526.6 428.2L526.8 428.2L527 428.1L527.2 428.1L527.4 428.1L527.6 428.1L527.8 428L528 428L528.2 428L528.3 428L528.5 427.9L528.7 427.9L528.9 427.9L529.1 427.9L529.3 427.8L529.5 427.8L529.9 427.9L530.3 428L530.7 428.1L531.1 428.2L531.6 428.3L532 428.4L532.3 428.7L532.6 429L532.9 429.4L533.2 429.7L533.5 430.1L533.8 430.4L534.1 430.8L534.4 431.2L534.6 431.6L534.8 431.9L535.3 432.1L535.9 432.3L536.4 432.5L537 432.7L537.5 432.8L538.1 433L538.7 433.3L539.3 433.5L540 433.7L540.6 434L540.5 433.7L540.4 433.4L540.3 433.1L540.2 432.7L539.7 432.3L539.1 431.9L538.6 431.4L537.8 431L537.1 430.6L536.4 430.2L535.6 429.8L536 429.9L536.3 429.9L536.6 429.9L537 429.9L537.3 430L537.7 430L538 430L538.3 430L538.6 430.1L538.9 430.1L539.3 430.1L539.6 430.1L539.9 430.1L540.9 430.5L541.9 430.9L542.8 431.2L543.8 431.6L544.6 431.9L545.5 432.2L546.3 432.5L547.1 432.8L547.9 433.1L548.4 433.6L548.9 434.1L549.4 434.6L549.8 435.1L550.2 435.6L550.2 435.9L550.2 436.1L550.2 436.4L550.2 436.7L550.1 436.9L549.9 437L549.9 437.4L549.9 437.7L549.9 438L549.9 438.4L550.2 438.6L550 438.8L549.8 438.9L549.6 439.1L549.3 439.2L549.6 439.7L549.8 440.1L550 440.6L550.2 441L550.6 441.5L551 442L550.9 442.4L550.8 442.7L550.6 443.1L550.6 443.6L550.6 444.1L551 444.6L551.4 445.1L551.8 445.6L552.2 446.1L552.5 446.6L552.7 447.1L552.4 447L552 446.9L551.6 446.5L551.2 446.1L550.8 445.6L550.4 445.2L549.9 445L549.3 444.7L548.9 444.8L548.5 444.8L548.1 444.8L547.7 444.8L547.6 445.4L547.2 445.3L546.7 445.3L546.3 445.2L545.8 445.2L545.6 445.5L545.3 445.7L545 446L545.2 446.5L545.3 447L545.5 447.5L545.7 448L545.9 448.5L546.1 449L546.5 449.5L546.9 450L547.3 450.5L547.8 450.6L548.3 450.7L548.7 450.6L549.1 450.5L549.5 450.4L549.4 449.9L549.3 449.4L549.7 449.3L550 449.3L550.4 449.2L550.7 449.1L550.8 449.5L550.9 450L550.9 450.5L551 450.9L551.1 451.4L551.3 451.9L551.8 452L552.2 452L552.7 452.1L553.1 452.1L553.3 452.6L553.5 453.1L553.7 453.5L553.9 454L553.9 454.4L554 454.8L554.4 455.1L554.9 455.5L555.2 455.4L555.6 455.3L555.9 455.2L556.4 455.5L556.9 455.8L556.8 456.2L556.8 456.6L556.3 456.4L555.9 456.3L555.4 456.1L554.9 455.9L554.5 455.8L554 455.5L553.6 455.3L553.2 455L553 454.5L552.7 454L552.2 453.7L551.7 453.4L551.2 453.3L550.8 453.1L550.3 453L549.7 452.6L549.1 452.1L548.7 452.1L548.3 452.2L547.8 452.2L547.3 452.1L546.8 452L546.4 451.8L545.8 451.6L545.3 451.3L544.8 451.1L544.3 450.8L543.7 450.5L543.2 450.1L542.9 449.6L542.7 449.1L542.4 448.6L542 448.3L541.5 448L541 447.7L540.5 447.3L540.1 446.9L539.7 446.5L539.2 446.1L538.8 445.7L538.3 445.2L537.9 444.8L537.6 445.1L537.2 445.4L537.8 445.8L538.3 446.3L538.9 446.8L539.3 447.3L539.7 447.7L540.1 448.2L540.5 448.7L540.1 448.3L539.8 448L539.3 447.6L538.8 447.1L538.3 446.7L537.9 446.3L537.4 445.8L537 445.4L536.5 444.9L536 444.4L535.5 444L535 443.5L534.5 443.3L534 443.2L533.5 443.1L533.1 442.7L532.8 442.3L532.4 441.9L532 441.4L531.5 441L531.1 440.5L530.9 440.1L530.7 439.7L530.5 439.3L530.2 438.8L530 438.4L529.8 438L529.6 437.6L529.5 437.2L529.4 436.9L528.9 436.5L528.3 436.2L527.9 436.1L527.5 436L527 435.8L526.4 435.4L525.8 435L525.3 434.6L524.8 434.1L524.3 433.7L523.8 433.3L523.4 433.1L523 432.9L522.6 432.7L522.2 432.5L521.8 432.4L521.5 432.3L521.1 432.2L520.8 432.1L520.5 432.1L520.2 432L519.9 431.9L519.5 431.9L519.2 431.8L518.9 431.8L518.7 431.9L518.5 432.1L518.3 432.3L518.1 432.5L517.9 432.7L517.7 432.8L517.4 433L517.2 433.2L516.9 433.3L516.7 433.5L516.4 433.7L516.2 433.9L515.9 434.1L515.6 434.2L515.3 434.4L515.6 434.2L515.9 433.9L516.1 433.6L516.3 433.3L516.2 433L516.2 432.7L515.9 432.7L515.6 432.6L515.3 432.6L515 432.5L514.6 432.3L514.3 432.1L514 431.9L514 431.5L513.9 431L514.1 430.9L514.3 430.7L514.6 430.6L514.8 430.4L514.5 430.4L514.3 430.3L514 430.2L513.7 430.2L513.5 430.1L513.2 430.1L513 430L513 429.8L513.2 429.5L513.4 429.3L513.5 429ZM557.7 454.4L558.1 454.2L558.5 454L558.9 453.8L559.2 453.5L559.8 453.9L560.3 454.2L560.8 454.5L561.2 454.5L561.6 454.5L562.1 454.5L562.5 454.5L562.9 454.5L563.4 454.5L563.8 454.5L564.1 455L564.5 455.6L565 456L565.5 456.5L566 456.9L566.4 457L566.9 457.2L567.3 457.3L567.7 457.4L568.2 457.5L568.5 458L568.8 458.6L569.2 459.2L569.2 459.7L569.2 460.3L569.6 460.6L570 460.9L570.4 461.1L570.8 461.3L571.2 461.5L571.6 461.7L572 461.8L572.4 461.9L572.8 462L573.3 462.1L573.6 462.4L574 462.7L574.4 463L574.7 463.3L575.1 463.6L575 464.1L574.9 464.6L574.8 465.1L574.7 465.6L574.2 466.2L573.8 466.8L573.3 467.4L572.9 467.9L572.4 468.5L571.9 469.1L571.6 469.6L571.2 470.2L570.9 470.8L570.5 471.3L570 471.9L569.5 472.4L569 473L568.6 473.1L568.1 473.3L567.6 473.4L566.9 473.8L566.3 474.2L565.6 474.5L565 474.9L564.4 475.4L563.9 476L563.4 476.5L562.8 476.9L562.2 477.3L561.5 477.7L560.9 478.1L560.3 478.5L559.7 478.9L559.1 479.2L558.5 479.4L558 479.5L557.6 479.6L557.1 479.8L556.8 480.2L556.4 480.6L556 481.1L555.7 481.1L555.3 481.1L554.9 481.1L554.5 481.1L554.1 481.1L553.5 481.6L552.9 482L552.5 482.2L552 482.3L551.6 482.4L551.2 482.9L550.8 483.4L550.1 483.7L549.4 484L548.7 484.2L548.3 484.7L547.8 485.2L547.2 485.5L546.6 485.8L545.9 486L545.2 486.5L544.5 486.9L543.9 487.3L543.4 487.8L543.1 487.8L542.9 487.7L542.7 487.7L542.8 487.4L542.9 487.2L542.9 486.9L543 486.7L543.6 486.2L544.1 485.8L544.6 485.3L545.2 484.9L545.8 484.4L546.4 483.9L547 483.5L547.6 483L548.2 482.6L548.7 482.1L549.2 481.6L549.7 481.1L550.2 480.7L550.6 480.2L551.1 479.7L551.7 479.2L552.3 478.7L552.9 478.2L553.5 477.8L553.9 477.2L554.2 476.7L554.6 476.2L554.9 475.7L555.3 475.2L555.7 474.7L556.1 474.2L556.5 473.7L556.9 473.2L557.3 472.6L557.6 472.1L557.9 471.6L558.2 471.1L558.4 470.5L558.3 470.1L558.1 469.7L557.9 469.3L557.6 468.9L557.4 468.6L557.1 468.2L556.9 467.8L556.8 467.2L556.7 466.7L556.6 466.2L556.5 465.6L556.4 465.1L556.3 464.6L555.9 464L555.5 463.5L555.6 463L555.6 462.4L555.9 461.9L556.2 461.4L556.1 460.8L556 460.3L556.2 459.9L556.4 459.5L556.6 459.1L556.8 458.7L557.2 458.2L557.2 457.7L557.1 457.3L557.1 456.8L557 456.3L556.9 455.8L557.2 455.3L557.4 454.9L557.7 454.4ZM465.3 428.5L466.4 428.1L467.5 427.7L468.2 427.5L468.8 427.4L469.5 427.3L468.6 427.6L467.6 427.9L466.7 428.2L466.5 428.4L466.4 428.6L466.2 428.8L466.1 428.9L466.4 428.9L466.7 428.9L467.1 428.9L467.4 428.9L467.6 429L467.9 429L468.1 429L469.2 428.6L470.3 428.2L470.6 428.2L470.9 428.2L471.2 428.2L472.3 427.9L473.4 427.5L473.6 427.5L473.9 427.5L474.2 427.5L474.4 427.6L474.3 427.5L474.2 427.4L474 427.4L473.9 427.3L473.8 427.2L474.2 427L474.7 426.8L475.8 426.4L477 426.1L477.7 426L478.3 425.8L479 425.7L479.7 425.6L479.9 425.5L480.1 425.3L480.3 425.2L479.3 425.4L478.3 425.6L477.4 425.8L476.4 426L475.4 426.2L474.3 426.5L473.2 426.9L472 427.2L470.8 427.6L469.7 427.9L469.1 428L468.6 428.1L468.1 428.2L467.6 428.2L468.6 427.8L469.6 427.4L470.7 426.9L470.4 426.9L470.1 426.9L469.8 426.9L470.2 426.7L470.6 426.5L471.7 426.1L472.8 425.8L473.9 425.5L475 425.2L475.7 425.1L476.4 425L477.1 424.9L477.8 424.9L478.4 424.8L479.1 424.7L480.2 424.5L481.3 424.3L482.4 424.1L482.5 424.2L482.6 424.3L482.6 424.3L482.7 424.4L482.8 424.4L482.8 424.5L482.9 424.5L483 424.6L483.1 424.6L483.2 424.7L483.2 424.7L483.3 424.8L483.4 424.8L483.5 424.9L483.6 424.9L483.7 425L483.8 425L483.9 425.1L484 425.1L484.1 425.2L484.2 425.2L484.3 425.3L484.4 425.3L484.2 425.5L484 425.6L483.8 425.7L483.7 425.8L483.2 425.9L482.7 426L482.2 426L482.2 425.9L482.2 425.8L482.2 425.8L482.2 425.7L482.2 425.6L481.2 426L480.2 426.4L480.1 426.5L479.9 426.7L480.2 426.6L480.5 426.6L480.8 426.6L481.4 426.6L481.9 426.5L482.4 426.4L482.9 426.3L484 426L485.1 425.7L485.2 425.7L485.3 425.8L485.4 425.8L485.6 425.9L485.7 425.9L485.8 425.9L485.9 426L486.1 426L486.2 426.1L486.3 426.1L486.4 426.2L486.6 426.2L486.7 426.3L486.8 426.3L487 426.3L487.1 426.4L487.3 426.4L487.4 426.5L487.5 426.5L487.7 426.5L487.8 426.6L488 426.6L488.1 426.7L488.3 426.7L488.4 426.7L488.6 426.8L488.7 426.8L488.9 426.9L489 426.9L489.2 426.9L489.3 427L489.5 427L489.7 427L489.8 427.1L490 427.1L490.1 427.2L490.3 427.2L490.5 427.2L490.6 427.3L490.8 427.3L491 427.3L491.1 427.4L491.3 427.4L491.5 427.4L491.6 427.5L491.8 427.5L492 427.5L492.2 427.6L492.3 427.6L492.5 427.6L492.7 427.6L492.9 427.7L493 427.7L493.2 427.7L493.4 427.8L493.6 427.8L493.8 427.8L494 427.8L494.1 427.9L494.3 427.9L494.5 427.9L494.7 428L494.9 428L495.1 428L495.3 428L495.5 428.1L495.6 428.1L495.8 428.1L496 428.1L496.2 428.2L496.4 428.2L496.6 428.2L496.8 428.2L497 428.2L497.2 428.3L497.4 428.3L497.6 428.3L497.8 428.3L498 428.4L498.2 428.4L498.4 428.4L498.6 428.4L498.8 428.4L499 428.5L499.2 428.5L499.4 428.5L499.6 428.5L499.8 428.5L500 428.5L500.2 428.6L500.4 428.6L500.6 428.6L500.8 428.6L501.1 428.6L501.3 428.6L501.5 428.7L501.7 428.7L501.9 428.7L502.1 428.7L502.3 428.7L502.5 428.7L502.7 428.7L502.9 428.8L503.2 428.8L503.4 428.8L503.6 428.8L503.8 428.8L504 428.8L504.2 428.8L504.4 428.8L504.6 428.8L504.9 428.9L505.1 428.9L505.3 428.9L505.5 428.9L505.7 428.9L505.9 428.9L506.2 428.9L506.4 428.9L506.6 428.9L506.8 428.9L507 428.9L507.2 428.9L507.5 429L507.7 429L507.9 429L508.1 429L508.3 429L508.6 429L508.8 429L509 429L509.2 429L509.4 429L509.6 429L509.9 429L510.1 429L510.3 429L510.5 429L510.7 429L511 429L511.2 429.1L511.4 429.2L511.6 429.4L511.8 429.5L512 429.6L512.3 429.7L512.5 429.8L512.3 430L512 430.2L511.8 430.4L511.6 430.6L511.3 430.8L511 430.9L510.8 431.1L510.5 431.3L510.2 431.3L510 431.3L509.7 431.3L509.4 431.4L509.1 431.5L508.9 431.5L508.6 431.6L508.3 431.7L508 431.8L507.7 432L507.4 432.1L507 432.3L506.7 432.4L506.4 432.5L506.1 432.6L505.8 432.7L505.4 432.8L505.1 433L504.8 433.1L504.5 433.5L504.2 433.9L503.8 434.4L503.4 434.8L503 435.2L502.6 435.4L502.2 435.6L501.8 435.8L501.4 436L501.6 435.6L501.7 435.2L501.9 434.7L502.1 434.3L502.3 433.9L502.5 433.4L502.9 433L503.4 432.6L503.8 432.2L504.2 431.8L503.8 431.9L503.5 432L503.2 432.1L502.8 432.2L502.5 432.3L502.2 432.3L501.9 432.3L501.6 432.3L501.4 432.3L501.1 432.3L500.8 432.3L500.5 432.3L500.2 432.2L500 432.2L499.7 432.2L499.4 432.2L498.9 432.6L498.3 432.9L497.7 433.3L497.2 433.7L496.6 434.1L496 434.5L496.1 434.7L496.3 434.9L496.5 435.2L496.7 435.4L496.3 435.8L496 436.3L495.6 436.7L495.3 437.2L494.7 437.6L494.1 438L493.4 438.5L492.8 438.9L492.2 439.4L491.8 439.3L491.5 439.3L491.1 439.3L490.5 439.7L489.9 440L489.3 440.4L489.1 440.8L489 441.2L488.8 441.6L488.6 442.1L488.3 442.5L488 443L487.6 443.1L487.2 443.1L486.8 443.2L487.1 442.7L487.3 442.2L487.6 441.8L487.4 441.3L487.3 440.8L487.1 440.6L486.9 440.4L486.7 440.3L486.4 440.6L486.1 441L485.5 441.3L485 441.6L484.5 441.9L484.9 441.9L485.2 441.9L485.5 441.9L485.9 441.9L485.4 442.1L484.8 442.4L484.4 442.7L484 443.1L484 443.5L484 443.9L484 444.3L484 444.8L484 445.3L483.5 445.8L483.1 446.2L482.7 446.7L482.3 447.2L481.7 447.6L481.1 448L480.5 448.4L480 448.6L479.5 448.8L479 448.9L478.6 449.1L478.1 449.2L477.7 449.4L477.2 449.5L476.8 450L476.5 449.6L476.2 449.3L475.7 449.6L475.1 450L475 450.5L475 451L475.1 451.5L475.3 452L475.4 452.6L475.4 453.1L475.3 453.6L475.3 454.1L474.8 454.5L474.2 454.9L473.7 455.2L473.2 455.6L473.1 455.2L473.1 454.8L472.8 454.6L472.5 454.3L472.2 454L471.9 453.6L471.7 453.2L471.4 453.7L471.2 454.1L471 454.6L470.8 455.1L470.9 455.6L471.1 456.1L471.1 456.5L471.2 456.9L471.5 457.3L471.9 457.8L472.2 458.2L472.2 458.6L472.3 459.1L472.4 459.5L472 459.3L471.6 459.2L471.2 459L470.9 458.6L470.6 458.2L470.4 457.7L470.3 457.1L470.1 456.6L469.9 456.1L470.1 455.6L470.4 455L470.4 454.5L470.4 454L470.5 453.5L470.5 453L470.6 452.6L470.7 452.1L470.8 451.6L470.3 451.7L469.9 451.8L469.4 451.9L469.5 451.3L469.6 450.8L469.7 450.3L469.6 449.8L469.5 449.4L469.4 449L469.5 448.4L469.1 448.5L468.7 448.6L468.3 448.6L467.8 448.7L467.3 448.9L467 449.2L466.6 449.6L465.9 450.1L465.3 450.6L464.7 451L464.1 451.4L463.6 451.8L463.1 452.2L462.9 452.7L462.7 453.2L462.5 453.8L462.4 454.3L462 454.8L461.6 455.2L461.2 455.6L460.7 455.9L460.6 455.4L460.5 454.8L460.5 454.3L460.5 453.7L460.5 453.2L460.5 452.6L460.5 452L460.6 451.5L460.6 450.9L460.7 450.4L460.9 449.9L461.1 449.3L461.4 448.8L461.2 448.5L461 448.2L460.7 447.9L460.5 447.6L460.3 447.3L460.2 446.9L460.2 446.4L459.8 446.4L459.5 446.3L459.1 446.3L458.8 446.2L458.4 446.2L458.1 446.1L457.8 446L457.5 445.9L457.2 445.8L456.9 445.7L457.1 445.4L457.3 445L456.9 445L456.6 445.1L456.2 445.1L456.1 444.8L456 444.6L455.9 444.3L456 443.9L456.2 443.5L456.3 443.1L456 443.2L455.6 443.3L455.1 443.7L454.7 444.1L454.6 444.7L454.5 445.3L454.5 445.7L454.4 446.2L454.7 446.3L454.9 446.4L455.2 446.6L455.7 446.4L456.2 446.2L456.1 446.6L456.3 447L456.5 447.3L456.7 447.6L456.1 448.1L455.5 448.6L454.9 449.1L454.3 449.6L453.8 450L453.3 450.5L452.8 450.7L452.3 450.8L451.8 451L451.3 451.4L450.7 451.7L450.2 452.1L449.7 452.2L449.3 452.3L448.9 452.4L448.4 452.6L448.1 452.6L447.8 452.7L447.8 452.3L447.9 451.8L448 451.3L448.2 450.7L448.3 450.1L448.3 449.5L448.4 448.9L448.5 448.4L448.6 447.9L448.8 447.4L449 446.9L449.3 446.4L449.6 445.9L449.7 445.3L449.8 444.7L450.1 444.1L450.3 443.5L450.6 443.1L451 442.6L450.8 442.4L450.6 442.2L451.2 441.7L451.6 441.6L452.1 441.5L452.8 441L453.6 440.5L454.3 439.9L455 439.4L455.6 438.9L455.2 438.9L454.8 438.9L454.5 439L454.2 438.9L454 438.7L453.8 438.6L453.7 438.4L453.7 438.3L453.6 438.1L454.2 437.5L454.8 437L455.4 436.6L456 436.2L456.3 436.2L456.6 436.1L457 436.1L457.1 436L456.8 436L456.4 436L456.1 436L455.7 436L455.4 436L454.3 436.5L453.9 436.9L453.4 437.3L452.6 437.6L451.8 438L452.2 437.5L452.7 437.1L453.2 436.6L453.7 436.1L454.3 435.7L454.9 435.3L455.4 434.9L455.6 434.5L455.9 434.2L456.1 433.9L456.5 433.5L457 433.1L457.4 432.7L456.3 433.1L455.6 433.6L455 434L454.3 434.5L454.2 434.8L454.1 435.1L454 435.3L453.9 435.5L453.8 435.8L452.9 436.1L452 436.5L451.3 436.7L452.2 436.2L453.1 435.7L453.2 435.4L453.3 435.1L453.4 434.8L453.8 434.4L454.2 434.1L454.5 433.7L454.9 433.3L455.4 432.9L454.6 433.1L453.9 433.3L453.8 433.2L454.7 432.8L455.6 432.3L456.5 431.9L457.4 431.4L458.4 431L459.3 430.6L460.3 430.2L461.2 429.8L462.2 429.4L463.2 429L464.2 428.6L464.6 428.6L465 428.5L465.3 428.5ZM566.4 434.5L566.5 434.4L566.7 434.3L566.8 434.2L567 434.1L567.1 434L567.3 433.8L567.4 433.7L566.7 433.3L566 432.9L565.2 432.5L564.4 432.2L563.6 432L562.7 431.8L562.7 431.6L562.6 431.4L562.6 431.2L562.3 430.9L562 430.6L561.8 430.4L561.4 430.1L561 429.8L560.5 429.5L559.8 429.1L559.1 428.8L558.9 428.6L559.9 429L560.9 429.4L561.9 429.8L562.8 430.2L563.8 430.6L564.7 431L565.7 431.4L566.6 431.9L567.5 432.3L568.4 432.8L569.3 433.2L568.9 433.2L568.6 433.2L569.3 433.8L570.1 434.2L570.3 434.5L570.4 434.8L570.6 435.1L571 435.4L571.4 435.8L572 436L572.6 436.6L573.1 437.2L573 437.4L573 437.6L572.9 437.8L572.8 437.9L572 437.6L571.7 437.6L571.5 437.6L571.2 437.6L570.4 437.1L569.7 436.6L568.9 436L568 435.5L567.2 435L566.4 434.5ZM552.3 426.4L551.1 426.1L549.8 425.8L548.6 425.4L548.1 425.2L549.2 425.5L550.3 425.8L551.4 426.1L552.5 426.5L552.3 426.4ZM449.4 436.7L448.8 437.2L448.3 437.7L447.6 438.1L446.9 438.5L446.7 438.8L446.5 439.2L446.6 439.3L446.8 439.5L446.9 439.7L447 439.8L446.9 440.2L446.8 440.5L446.8 440.9L446.8 441.2L447.3 440.9L447.8 440.6L448.2 440.3L448.5 440L448.8 440.1L449.1 440.1L449.4 440.2L449.3 440.5L449.3 440.9L449.5 441.1L449.6 441.2L449.8 441.4L450 441.6L450.4 441.6L450.8 441.5L451.1 441.5L450.9 441.9L450.6 442.2L450.2 442.8L449.8 443.4L449.5 444L449.1 444.6L448.7 445.2L448.4 445.8L448.3 446.4L448.2 447L447.8 447.6L447.5 448.2L447.2 448.8L447.3 449.1L447.3 449.4L447.2 449.9L447.1 450.4L446.9 450.9L447.1 451.6L447.2 452.2L447.4 452.5L447.6 452.8L447.6 453.4L447.5 454L447.9 453.9L448.4 453.9L448.8 453.8L449.2 453.7L449.6 453.6L450.1 453.5L450.5 453.4L450.4 453.8L450.3 454.2L450 454.7L449.7 455.2L449.4 455.7L449.1 456.2L448.9 456.8L448.5 457.2L448.1 457.6L447.7 458.2L447.3 458.8L447 459.4L446.6 459.9L446.2 460.4L445.8 460.9L445.4 461.5L445.1 462.1L444.9 462.7L444.8 463.3L445 463.9L445.2 464.6L445.4 465.2L445.5 465.8L445.7 466.4L446.3 466.9L446.5 467.5L446.7 468.1L446.9 468.7L447.2 469.3L447 469.7L446.9 470.1L446.7 470.5L446.6 470.9L446.7 471.4L446.7 472L446.8 472.5L447.2 473.1L447.7 473.6L448.1 474.2L448.6 474.8L448.6 475.2L448.6 475.7L448.6 476.1L449 476.6L449.4 477L449.8 477.5L450 478L450.3 478.5L450.6 479L450.7 479.5L450.9 479.9L451.1 480.3L451 480.5L451 480.8L451 481L450.8 481.1L450.5 481.1L450.3 481.2L450 481.3L450 481.5L450.1 481.8L449.6 481.7L449.1 481.5L448.3 480.9L447.6 480.4L446.8 479.8L446.1 479.3L445.4 478.7L444.7 478.3L444.1 477.8L443.4 477.3L442.8 476.7L442.2 476.2L441.6 475.6L441 474.9L440.4 474.4L439.8 473.9L439.3 473.3L438.7 472.8L438.2 472.2L437.8 471.6L437.4 470.9L437 470.3L436.9 469.6L436.8 469L436.7 468.3L436.3 467.6L436.1 467L435.8 466.3L435.5 465.7L435.2 465L434.9 464.3L434.9 463.8L434.8 463.3L434.5 462.9L434.2 462.4L433.9 462L433.8 461.4L433.6 460.9L433.6 460.3L433.6 459.6L433.7 458.9L433.7 458.3L433.6 457.7L433.5 457.2L433.2 457.3L432.9 457.3L432.6 457.3L432.7 456.7L432.9 456L433 455.3L433.2 454.6L433.4 453.9L433.7 453.3L433.9 452.6L434.2 451.9L434.5 451.3L434.8 450.6L435.2 450L435.5 449.3L435.9 448.6L436.3 448L436.8 447.3L437.2 446.7L437.7 446.1L438.2 445.4L438.7 444.8L439.3 444.2L439.8 443.6L440.4 442.9L441 442.3L441.7 441.7L442.3 441.1L443 440.5L443.7 439.9L444.4 439.4L445.1 438.8L445.9 438.2L446.6 437.7L447.4 437.1L448.2 436.6L448.5 436.6L448.8 436.6L449.1 436.7L449.4 436.7ZM574.4 438.2L574.3 437.9L574.2 437.5L574 437.2L574.2 437L574.4 436.9L574.5 436.8L574.7 436.7L574.9 436.6L575.7 437.1L576.5 437.7L577.2 438.2L578 438.8L578.7 439.4L579.4 439.9L580.1 440.5L580.8 441.1L581.4 441.7L582.1 442.3L582.7 442.9L583.3 443.6L583.8 444.2L584.4 444.8L584.9 445.4L585.4 446.1L585.9 446.7L586.3 447.3L586.8 448L587.2 448.6L587.6 449.3L587.9 450L588.3 450.6L588.6 451.3L588.9 451.9L589.2 452.6L589.4 453.3L589.7 453.9L589.9 454.6L590.1 455.3L590.2 456L590.4 456.7L590.5 457.3L590.1 456.7L589.7 456L589.4 456L589.1 456L588.8 456L588.5 456.3L588.3 456.6L588 457L587.6 457L587.2 457L587 456.9L586.7 456.9L586.4 457.1L586 457.2L585.7 457.4L585.3 457.1L584.8 456.7L584.4 456.3L583.9 455.8L583.5 455.3L583.1 454.9L582.7 454.4L582.3 453.9L581.9 453.5L581.4 453L580.9 452.5L580.6 452L580.3 451.6L580.1 451.1L580 450.6L579.9 450L579.6 449.5L579.4 449L579.2 448.4L578.6 447.9L578 447.3L577.8 446.7L577.6 446L577.4 445.4L577.1 444.9L576.8 444.3L576.5 443.8L576.2 443.2L576.2 442.9L576.3 442.5L576.3 442.2L575.7 441.6L575.1 441L574.7 440.6L574.4 440.1L574 439.6L573.9 439.4L573.9 439.1L573.4 438.6L572.9 438.1L573.3 438.1L573.7 438.1L574.1 438.2L574.4 438.2ZM479.9 470.8L480.2 470.7L480.5 470.5L480.8 470.4L481.1 470.3L481.5 470.1L481.8 469.9L482.1 469.4L482.3 468.9L482.6 468.4L482.9 467.9L483.3 467.6L483.7 467.3L484.1 467.5L484.5 467.6L484.9 467.7L485 467.3L485 466.9L485 466.5L485 466L485.4 466L485.9 466L486.3 466L486.7 466.1L487.2 466.2L487.6 466.3L488.1 466.4L487.9 466.8L487.8 467.3L487.7 467.7L488.1 467.9L488.5 468.2L488.9 468.4L489.3 468.7L489.7 468.9L490 469L490.4 469L490.4 468.6L490.5 468.2L490.5 467.7L490.5 467.4L490.4 467L490.4 466.6L490.6 466.1L490.7 465.6L490.9 466L491.1 466.4L491.2 466.8L491.4 467.2L491.8 467.4L492.3 467.5L492.4 467.8L492.5 468.2L492.7 468.7L492.9 469.2L493.2 469.7L493.6 469.9L494 470.1L494.4 470.4L494.9 470.9L495.4 471.3L495.8 471.7L496.2 472.1L496.6 472.5L496.8 473L496.9 473.4L497.1 473.8L497.2 474.2L497.2 474.6L497.2 475L497.2 475.5L497.2 475.9L497 476.4L496.8 476.8L496.8 477.2L496.8 477.6L496.9 478L496.9 478.4L496.5 478.5L496.1 478.6L495.9 478.9L495.7 479.2L495.3 479.2L494.9 479.2L494.5 479.2L494.1 479.1L493.6 478.9L493.2 478.8L492.9 478.5L492.6 478.1L492.4 477.8L491.9 477.7L491.5 477.7L491.3 477.3L491.2 476.9L491 476.5L490.8 477L490.6 477.4L490.1 476.9L489.5 476.5L489.1 476.3L488.7 476.1L488.2 475.9L487.9 475.9L487.6 476L487.2 476L486.9 476.1L486.5 476.2L486.1 476.4L485.9 476.6L485.7 476.9L485.5 477.1L485.1 477.2L484.8 477.2L484.4 477.3L484.1 477.3L483.9 477.5L483.6 477.6L483.4 477.8L483 477.7L482.5 477.5L482.1 477.4L481.8 476.9L481.6 476.4L481.3 475.9L481.1 475.5L480.7 475L480.4 474.5L480.1 474L479.7 473.5L479.5 473L479.2 472.5L479 472L478.7 471.5L479 471.3L479.3 471.1L479.6 471L479.9 470.8ZM541.2 428.7L540.2 428.3L539.2 428L538.2 427.6L537.1 427.3L536 427L535.1 426.6L535.3 426.6L535.4 426.5L535.5 426.5L535.7 426.5L535.8 426.4L536 426.4L536.1 426.3L536.2 426.3L536.4 426.3L536.5 426.2L536.6 426.2L536.8 426.1L536.9 426.1L537 426L537.2 426L537.3 425.9L537.4 425.9L537.5 425.9L537.7 425.8L537.8 425.8L537.9 425.7L538 425.7L538.3 425.8L538.7 426L539 426.2L539.3 426.4L539.6 426.6L539.9 426.8L540.6 427.1L541.2 427.5L541.9 427.9L542.7 428.3L543.4 428.7L544.1 429.2L543.6 429.1L543.2 429L542.7 428.9L542.2 428.8L541.7 428.8L541.2 428.7ZM559.7 430.1L559.5 430.2L559.3 430.2L559.1 430.2L558.8 430L558.1 429.7L557.4 429.4L556.9 429.1L556.4 428.8L555.9 428.8L555.5 428.7L554.7 428.5L553.8 428.2L553.1 427.9L552.3 427.6L551.6 427.3L551.8 427.3L551.9 427.2L552.1 427.2L552.9 427.4L553.8 427.7L554.9 428.1L556 428.5L556.9 428.7L557.8 429L558.3 429.1L558.8 429.1L559.8 429.5L560.7 429.9L560.7 430.1L560.7 430.2L560.7 430.4L560.7 430.5L560.7 430.6L560.6 430.8L560.6 430.9L560.3 430.7L560 430.4L559.7 430.1ZM558.3 430.5L557.5 430.2L556.7 429.9L555.8 429.5L555.4 429.2L554.9 428.9L555.7 429.1L556.5 429.2L557.5 429.6L558.5 430.1L558.5 430.2L558.4 430.3L558.3 430.4L558.3 430.5ZM541.7 426.1L541.3 425.9L540.9 425.7L541 425.6L541.1 425.6L541.2 425.5L541.3 425.4L541.3 425.4L541.4 425.3L542.1 425.4L542.7 425.5L543.4 425.7L543.7 425.8L543.9 426L544.2 426.1L544.5 426.3L544.7 426.5L544.4 426.5L544.1 426.5L543.8 426.5L543.6 426.5L542.6 426.3L541.7 426.1ZM487.8 443.8L488.2 443.6L488.6 443.4L489.2 443.1L489.7 442.8L490.1 442.8L490.5 442.8L491 442.7L491.3 442.5L491.6 442.2L492.1 442L492.6 441.7L493 441.5L493.2 441.2L493.4 440.8L493.6 440.5L493.7 440.1L494 440.1L494.3 440.2L494.1 440.6L493.8 441L493.5 441.4L493.2 441.8L493.1 442.1L493 442.5L492.9 442.8L492.4 443L492 443.2L491.6 443.3L491.1 443.3L490.7 443.4L490.1 443.8L489.7 443.7L489.3 443.7L488.9 443.6L488.7 444L488.5 444.3L488.2 444.7L487.9 444.8L487.5 444.9L487.6 444.6L487.7 444.2L487.8 443.8ZM494.6 439.2L494.9 438.8L495.3 438.3L495.5 438.6L495.7 438.8L496 439L496.2 439.4L495.7 439.7L495.2 439.9L494.8 439.8L494.5 439.7L494.2 439.8L493.8 439.9L494.2 439.6L494.6 439.2ZM497 435.4L497.2 435.1L497.5 434.8L497.7 434.5L497.7 434.7L497.6 435L497.4 435.4L497.1 435.9L496.9 436.3L496.7 436.8L496.3 437.2L495.9 437.7L495.5 438.1L495.7 437.6L496 437.2L496.2 436.8L496.5 436.3L496.7 435.9L497 435.4ZM482.8 447.6L483 447.7L482.6 448.2L482.3 448.7L482 449.2L481.7 448.9L482.1 448.5L482.4 448.1L482.8 447.6ZM481.3 450.9L481.6 450.9L481.9 451L481.9 451.5L481.8 452L481.6 452.3L481.3 452.7L481.6 453L481.9 453.4L482.2 453.7L481.8 453.7L481.4 453.6L481.1 453.4L480.7 453.3L480.5 453.2L480.6 452.7L480.8 452.3L480.9 451.8L481.1 451.4L481.3 450.9ZM481.7 455.9L482.2 455.6L482.7 455.3L482.8 455.7L482.9 456.1L483 456.5L482.7 456.9L482.5 457.3L482.1 457.1L481.7 457L481.3 456.9L480.9 456.7L481.3 456.3L481.7 455.9ZM475.6 459.4L476.1 459.1L476.5 458.8L477 458.2L477.5 457.7L478 457.2L478.6 456.7L479 457.2L479.4 457.8L479.2 458.3L479.1 458.8L479 459.3L478.8 459.8L478.4 460.3L477.9 460.8L478 461.2L478.1 461.7L478.2 462.1L477.8 462.1L477.4 462.1L477 462.1L476.6 462L476.2 462L475.8 461.9L475.4 461.8L475.1 461.3L474.9 460.8L474.8 460.4L474.7 460L474.7 459.5L475.1 459.4L475.6 459.4ZM469.5 457.6L469.8 458L470.1 458.4L470.4 458.8L470.7 459.3L471.1 459.6L471.5 460L471.9 460.4L472.4 460.8L472.8 461.3L473.3 461.9L473.3 462.4L473.4 462.9L473.4 463.4L473.1 463.4L472.7 463.3L472.3 463L471.9 462.7L471.5 462.4L471.3 461.9L471 461.3L470.8 460.8L470.5 460.3L470.2 459.8L469.9 459.4L469.5 458.9L469.2 458.4L468.9 457.9L468.6 457.4L468.9 457.4L469.2 457.5L469.5 457.6ZM474.4 463.5L474.8 463.6L475.3 463.6L475.8 463.6L476.2 463.8L476.6 463.9L477 464.1L477.4 464.2L477.5 464.8L477.1 464.7L476.7 464.7L476.3 464.6L475.9 464.6L475.4 464.5L475 464.4L474.6 464.3L474.2 464.2L473.7 464.1L473.4 464L473.1 463.8L473.5 463.7L473.9 463.6L474.4 463.5ZM479.5 460.7L479.6 460.3L479.8 459.9L480.2 459.8L480.7 459.7L481.2 459.7L481.6 459.6L482.1 459.5L481.9 459.8L481.5 459.9L481.1 459.9L480.6 460L480.2 460L480.6 460.3L481 460.6L481.3 460.8L480.9 460.8L480.5 460.8L480.2 461.2L480 461.6L480 462L480.1 462.4L480.1 462.8L480.1 463.1L479.8 463.1L479.4 463.1L479.4 462.6L479.4 462.1L479.5 461.7L479.5 461.2L479.5 460.7ZM486.4 460.7L486.9 461.1L487.3 461.5L487.8 461.3L488.3 461.1L488.8 461.3L489.3 461.4L489.7 461.6L490.2 461.8L490.7 461.9L491.2 462.1L491.7 462.3L491.9 462.7L492.2 463L492.5 463.1L492.9 463.3L492.8 463.7L492.7 464.1L493.2 464.5L493.6 464.8L494 465.1L493.6 465.2L493.2 465.2L492.8 465.3L492.3 464.9L491.8 464.5L491.3 464.1L491.1 464.4L490.9 464.8L490.4 464.8L489.9 464.8L489.4 464.6L488.9 464.3L488.8 464L488.6 463.6L488.5 463.2L488.3 462.8L487.9 462.7L487.4 462.6L486.9 462.5L486.5 462.2L486.1 462L485.7 461.8L485.3 461.3L485 460.8L485.4 460.8L485.9 460.7L486.4 460.7ZM506.8 477.6L507.1 477.8L507.4 478.1L507.7 478.2L508.1 478.3L508.5 478.4L508.2 478.7L507.9 479.1L507.8 479.4L507.7 479.7L507.6 480.1L507.4 480.1L507.2 480.1L507.2 479.7L507.2 479.4L506.9 479.2L506.7 479.1L506.7 478.8L506.8 478.4L506.9 478.1L506.6 477.7L506.3 477.3L505.9 476.9L506.4 477.3L506.8 477.6ZM507 480.2L506.8 480.7L506.6 481.1L506.3 481.4L505.9 481.8L505.6 482.1L505.3 482.5L505 482.4L504.7 482.3L504.4 482.2L504.5 481.8L504.7 481.5L505 481.3L505.3 481.1L505.6 480.8L505.8 480.5L506.1 480.1L506.3 479.7L506.6 480L507 480.2ZM451.1 469.4L451.1 469.8L451.1 470.2L451.3 470.8L451.5 471.3L451.7 471.8L451.9 472.3L452.1 472.9L452.3 473.4L452.6 474L452.9 474.6L452.8 474.8L452.7 475L452.6 475.2L451.9 474.7L451.2 474.2L450.8 473.6L450.3 473L450.1 472.4L450 471.8L449.7 471.4L449.4 470.9L449.1 470.4L449.3 470.1L449.5 469.9L449.7 469.6L449.7 469.1L449.8 468.5L449.8 467.9L449.9 467.4L450.2 467.9L450.5 468.4L450.8 468.9L451.1 469.4ZM462.2 455L462.4 455.4L462.7 455.7L462.7 456.1L462.7 456.5L462.4 456.8L462.1 457L461.7 457L461.8 456.5L461.9 456L462.1 455.5L462.2 455ZM477.1 450L477.2 450.3L476.8 450.6L476.3 450.9L476.1 450.5L476.6 450.3L477.1 450ZM552.4 448.1L552.9 448.2L553.3 448.3L553.7 448.4L554.2 448.5L554.6 448.6L555 448.9L555.5 449.1L556 449.3L556.4 449.5L556.1 449.6L555.8 449.7L555.4 449.7L555.1 449.8L554.6 449.5L554.1 449.2L553.6 448.9L553.2 448.9L552.8 448.9L552.4 448.9L551.9 448.9L551.5 448.9L551.8 448.6L552.1 448.4L552.4 448.1ZM557.2 449.6L557.6 449.6L558 449.7L558.5 449.7L558.8 450L559.2 450.3L558.9 450.4L558.5 450.4L558.2 450.5L557.8 450.5L557.4 450.5L557.1 450.5L556.7 450.5L556.9 450.1L557.2 449.6ZM548.2 433.3L549 433.6L549.7 433.8L550.5 434.1L551 434.5L551.6 434.8L552.1 435.2L552 435.2L551.8 435.3L551.6 435.4L551.5 435.4L551.1 435.4L550.7 435.4L550.4 435.3L550 435.3L549.6 434.8L549.2 434.3L548.7 433.8L548.2 433.3ZM538.2 429.4L537.7 429.3L537.3 429.2L536.9 429.1L536.5 429.1L536.1 429L535.6 428.9L535.2 428.9L535 428.9L534.7 428.9L534.5 428.9L534.2 428.9L534 428.9L533.3 428.6L532.5 428.2L531.8 427.9L531 427.5L531.2 427.5L531.4 427.5L531.5 427.4L531.7 427.4L531.8 427.4L532 427.4L532.2 427.3L532.3 427.3L532.5 427.3L532.6 427.2L532.8 427.2L532.9 427.2L533.1 427.1L533.3 427.1L533.4 427.1L533.6 427L534.1 427.2L534.7 427.3L535.2 427.5L535.8 427.9L536.5 428.2L537 428.6L537.6 429L538.2 429.4ZM495 462.3L495.2 462.6L495.3 463L494.8 463.2L494.4 463.4L494.2 463.1L494.1 462.8L494.6 462.5L495 462.3ZM497 463.5L497.3 463.9L497.5 464.2L498 464.2L498.5 464.2L499 464.6L499.5 465L500 465.4L499.5 465.3L499 465.2L498.5 465L498 464.7L497.5 464.5L497.2 464.1L496.9 463.7L496.5 463.3L497 463.5ZM508.1 468.9L508 469.2L507.7 469.1L507.4 469.1L507.4 468.7L507.8 468.8L508.1 468.9ZM502.8 471L502.6 471.2L502.2 471L501.8 470.7L501.4 470.4L501.3 470.2L501.8 470.4L502.3 470.7L502.8 471ZM502.7 467.8L502.7 468.1L502.8 468.4L502.6 468.3L502.5 468L502.4 467.6L502.7 467.8ZM519.9 450.7L520.2 450.5L520.5 450.8L520.2 450.9L520 451.1L519.9 450.7ZM518.8 449.8L519 449.7L519.1 449.9L518.8 449.9L518.8 449.8ZM483.4 464.5L483.1 464.7L482.8 464.9L482.5 465.1L482.2 465.3L481.8 465.5L482.1 465.1L482.4 464.6L482.7 464.6L483.1 464.6L483.4 464.5ZM492.1 453.6L492 453.8L491.9 453.7L492.1 453.6ZM559.8 450.5L559.7 450.3L560.1 450.3L560.4 450.3L560.3 450.5L560.1 450.5L559.8 450.5ZM555.7 450.5L556.1 450.8L555.6 450.7L555.2 450.6L555.5 450.5L555.7 450.5ZM452.3 434.5L452.4 434.6L452.6 434.7L451.8 435.1L451 435.6L450.8 435.6L450.6 435.6L451.4 435.1L452.3 434.5ZM451.5 436.6L450.9 437L450.2 437.4L450.3 437.1L450.4 436.8L450.6 436.5L450.8 436.5L451 436.6L451.3 436.6L451.5 436.6ZM451.7 438.6L451.8 438.7L451.9 438.9L452 439L451.8 438.9L451.6 438.8L451.3 438.7L451.7 438.6ZM454.7 439.2L454.1 439.5L453.8 439.6L453.4 439.6L453.8 439.5L454.3 439.4L454.7 439.2ZM512.4 467.1L512.1 466.8L512.6 466.9L512.4 467.1ZM523.2 469L523.1 469.1L523 468.9L523.2 469ZM486.7 456.5L486.9 456.4L486.8 456.6L486.7 456.5ZM498 456.9L498.2 456.9L498.1 457L498 456.9ZM504.5 456.8L504.4 456.9L504.3 456.9L504.5 456.8ZM505.2 459.6L505.3 459.6L505.2 459.7L505.2 459.6ZM518.2 470.6L518.1 470.7L518.1 470.6L518.2 470.6ZM511.1 470.6L510.9 470.6L511 470.5L511.1 470.6Z" fill="#ffcfcf" stroke="#4a2a2a" stroke-width="0.7" stroke-linejoin="round" clip-path="url(#mapclip)"/>
<path d="M460.7 438.6L461.3 438.2L462 437.8L462.3 437.4L462.6 437L462.9 436.6L463.3 436.3L464 435.7L464.6 435.3L465.6 434.8L466.2 434.7L466.7 434.6L466.9 434.7L467.1 434.8L467.3 434.9L466.5 435.3L465.7 435.8L464.8 436.2L463.9 436.7L463.7 437.1L463.5 437.5L463.1 437.9L462.7 438.3L462.3 438.7L461.9 439.1L461.5 439.5L461.1 439.5L460.7 439.6L460.3 439.6L460 439.5L459.8 439.4L459.7 439.2L459.5 439L460.1 438.8L460.7 438.6ZM468.9 435.2L468.8 435.5L468.8 435.8L468.4 436.1L467.9 436.5L468.1 436.1L468.3 435.8L468.4 435.4L468.9 435.2ZM485.7 434.3L486.3 434.1L487 433.8L487.6 433.5L488.1 433.3L488.6 433.1L488 433.4L487.4 433.8L487 434L486.5 434.2L486 434.3L485.5 434.5L485 434.7L485.7 434.3ZM540.8 435.9L541.3 436.1L541.9 436.3L542.4 436.6L543 436.8L542.7 436.8L542.4 436.8L542.2 436.9L541.8 436.9L541.5 436.9L541.1 436.9L540.8 436.9L540.4 436.9L540.5 436.6L540.6 436.4L540.7 436.1L540.8 435.9ZM542.8 437.3L543 437.2L543.2 437.1L543.4 437L543.9 437.4L544.4 437.7L544.5 438L544.5 438.4L544.5 438.7L544.2 438.8L544 439L543.7 438.6L543.4 438.1L543.1 437.7L542.8 437.3ZM442.5 460.9L442.6 461.4L442.7 461.8L442.4 462L442.2 462.2L442 461.7L441.8 461.2L441.8 460.8L441.9 460.3L442.2 460.6L442.5 460.9Z" fill="#d2f0f9" stroke="#4a2a2a" stroke-width="0.6" clip-path="url(#mapclip)"/>
<path d="M487.1 427L486.2 427.4L485.3 427.7L484.5 428.1L483.8 428.6L483.2 429L482.5 429.4L481.9 429.9L481.3 430.3L480.8 430.8L480.8 431L480.7 431.1L480.7 431.3L480.6 431.6L480.5 431.8L480.4 432.1L480.3 432.4L480.2 432.6L480.1 432.9L480 433.2L479.8 433.5L479.7 433.9M491.2 427.4L490.4 427.7L489.6 428.1L489 428.5L488.4 428.9L487.8 429.4L487.2 429.8L486.7 430.2L486.2 430.7L485.7 431.1L485.3 431.5L485.3 431.7L485.3 431.9L485.3 432.2L485.3 432.4L485.3 432.6M499.1 428.5L498.6 428.9L498.1 429.3L497.7 429.7L497.3 430.1L496.6 430.5L495.9 430.8L495.2 431.2L494.9 431.3L494.6 431.3L494.2 431.3L493.9 431.4L493.6 431.4L493.3 431.5L492.9 431.5L492.5 431.6L492.1 431.7L491.7 431.8L491.3 431.9L490.8 432.1L490.4 432.2L489.8 432.4L489.3 432.6L488.7 432.9L488.1 433.1L487.5 433.3M496.8 435.2L496.3 435.4L495.8 435.7L495.3 436L494.8 436.2L494.3 436.4L493.9 436.5L493.4 436.7L493 436.9L492.5 437L492.3 436.8L492.1 436.6L491.9 436.4L491.7 436.2L491.5 436L491.4 435.7L491.3 435.4L491.2 435.2L491.1 434.9L491 434.6M483.9 444.5L483.4 444.6L483 444.7L482.5 444.8L482 444.9L481.5 445L481.1 445.1L480.7 445.1L480.3 445L479.9 444.9L479.6 444.8L479.1 444.9L478.6 445L478.2 445.1L477.7 445.1L477.3 445.2L476.8 445.3L476.3 445.5L475.8 445.6L475.3 445.7L474.8 445.8L474.8 445.3L474.8 444.8L474.8 444.3L474.8 443.8M484.7 441.6L484.1 441.8L483.6 442L483.1 442.3L482.5 442.5L482 442.7L481.6 442.6L481.3 442.5L480.9 442.4L480.6 442.4L480.4 442L480.2 441.7L480.1 441.4L479.9 441.1M479.9 441.1L480.4 440.8L481 440.6L481.5 440.4L482.1 440.2M479.9 441.1L479.3 441.3L478.8 441.5L478.3 441.6L477.9 441.7L477.4 441.8L476.9 441.9M468.7 448.7L468.4 448.3L468.2 448L467.9 447.7L467.7 447.3L467.5 447L467.1 446.8L466.8 446.7L466.5 446.5L466.2 446.4L466.1 445.9L466 445.4L465.9 445M460.4 447L461.1 446.5L461.7 446L462.4 445.5L463 445L463.5 444.5L464 444L464.5 443.5L465 443L465.8 442.5L466.6 442L467.4 441.5M547.6 445.4L547.2 444.9L546.8 444.4L546.4 443.9L546 443.4L545.8 442.9L545.6 442.4L545.3 441.9L545.1 441.4L544.6 441L544.1 440.5L543.7 440L543.2 439.6L542.6 439.1L542 438.6L541.4 438.2L540.9 437.7L540.1 437.3L539.3 436.9M520.6 428.7L520.9 428.9L521.3 429L521.6 429.1L521.9 429.3L522.3 429.4L522.6 429.5L523 429.7L523.3 429.8L524 430.2L524.6 430.6L525.2 431L525.8 431.4L526.2 431.5L526.5 431.5L526.9 431.6L527.2 431.7L527.6 431.7M569.2 460.3L568.8 460.5L568.3 460.8L567.9 461L567.5 461.2L567.1 461.5L566.6 461.7L566.2 461.7L565.8 461.8L565.3 461.8L564.9 461.9L564.5 461.9L564 462L563.6 462L563.2 462L562.7 461.9L562.3 461.9L561.9 462.1L561.4 462.2L561 462.3L560.5 462.5L560.1 462.5L559.6 462.6L559.2 462.7L558.7 462.7M450.7 441.6L450.1 442.1L449.6 442.7L449 443.3L448.5 443.9L448.1 444.4L447.8 445L447.5 445.7L447.1 446.3L446.9 446.9L446.4 447.4L445.9 448L445.5 448.6L445.1 449.2L444.7 449.8L444.3 450.4L444.1 451L443.9 451.6L443.8 452.3L443.6 452.9L443.3 453.5L443 454.1L442.8 454.7L442.5 455.3M435.1 464.3L435.3 464L435.6 463.6L435.8 463.3L436.1 462.9L436.3 462.3L436.5 461.6L436.7 461L437 460.4L437.4 459.9L437.8 459.3L438.1 459.4L438.5 459.5L438.9 459.7L439.1 460.3L439.4 460.9L439.6 461.6M432.7 457.2L432.8 456.6L433 456L433.1 455.4L433.4 454.8L433.3 454.4M589.8 454.4L589.4 453.9L589 453.3L588.6 452.8L588 452.2L587.3 451.5L586.7 450.9L586.2 450.6L585.6 450.2L585.1 449.8L584.5 449.5L584.5 450L584.4 450.6L584.3 451.2M554.9 449.7L555.3 449.8L555.8 449.8L556.2 449.9L556.7 450L557.1 450L557.6 450.1L558 450.2L558.5 450.2L559 450.3L559.4 450.4L559.9 450.4L560.3 450.5M518 449.6L518.5 449.8L519 450.1L519.4 450.3L519.9 450.6L520.4 450.8" fill="none" stroke="#6a3a3a" stroke-width="0.5" clip-path="url(#mapclip)"/>
<path d="M451.1 443.5L451.5 443.8L450.9 443.7M449.3 443.2L448.4 442.7M502.2 430.7L501.7 429.4L503.9 429.4M459.4 431.5L460 431M460 431L460.2 430.9M459.9 431L460 431M460 431L460.6 431.1M453.9 445L453.2 443.9L453.9 442.5L454 440.9M446.7 445.9L445.5 446.1L445.1 444.8L446 443.8M476.5 433.8L475.6 433L476.4 434.7M488.9 438.3L489.3 439.7M478.3 441.1L476.7 440.8L477.2 442.3L478.3 443.5M474.9 443.9L474.1 444.5L472.8 444.3L472.7 442.9M464.7 447.6L463.9 448.7L462.8 448.8M475.5 447.9L473.8 447.1L475.7 446.5M480.2 438.7L481.4 439.7L480 440.8L481 441.5M473.3 433.9L472.7 435L473.9 434.5L474.7 435.5M457.2 442L456.7 442.6M454.5 443.4L454 443.4L452.8 443.3M468.8 446.6L466.9 445.7L468.3 445.7M489 439.9L488.9 439.8L488.3 438.3M476.6 441L475.8 442.6L474.3 441.3L473.3 441.4M474.9 446.2L474 445L472.8 446.5M445.1 446.4L446.6 444.9L447.3 445.7L448 445.2M457.6 433.3L458.4 434.7L457.6 433.4M457.9 433.1L459.4 433.2M468.2 434.8L467 434.3L467.9 433.4L466.8 433.1M480 447.4L480.4 447.8M488 435.2L486.8 433.8L485.7 435.2L484.1 434.4M473.3 432.1L474.3 431.5L474.9 432.3M471.5 445.2L472.7 444.1L473.4 442.2L474.7 441.4M479.6 438.1L480.2 439.6L482.1 438.7M473.8 433.4L471.8 433.2L471.8 432.2M453.8 446.4L452.8 444.8L451.5 443.4M475.5 429.2L476.3 431.2L478.1 431.3M497.2 429.2L496.1 430.1L494.6 430.4L495.7 430M469.1 441.3L469.5 440.2L468.1 441.2M441.9 445.6L440.7 446.2L441.1 448L442.3 448.4M486.8 431.2L487.6 431.9L487.9 430.9L489.9 431.7M490.8 433L492.1 431.6L491.3 430.1L489.2 429.8M488.3 430.9L488.1 432.4L487.9 434.4L488.7 435.4M486.4 433.7L485.2 435.6L486.2 434.8M478.6 438.6L479.6 438.3L478.8 439L477.4 440.4M484.2 438.3L485.9 439.3L484.8 438.5L485.1 437.4M452.2 444.3L453.3 445.5L452.8 443.8L454.1 444.1M485.9 432.4L486.2 433.3L486.1 435.5M465.3 433.5L463.9 434.6L464.1 433.5L463.6 434.4M454.2 443.8L453.3 443.8M492.3 432.9L491.4 431.9L493.4 432.8M543 445.4L544.2 443.8L542.9 443L541.2 443.7M527.1 433.7L526.2 432.6L526.5 433.7M549 443.3L548.5 441.6L550.3 442.3M537 439.1L538.4 440.4L539.7 442.1L539.3 440.5M534.4 428.3L534.6 427.9M535.2 433.4L534.1 433.1L532.7 433.1M527.8 430.2L526.4 429.4L525.4 428.9L525.2 430.1M546.9 439L547.7 438.2L549.1 438.4M544.1 444.8L542.9 444.8L542.1 444.2M537.8 437.3L535.8 436.9L535.1 435.3M541.7 435.1L543.1 436.1L543.5 437.6M543.3 437.2L543.4 438.5L544.5 439.9M542.9 444.7L542.5 442.6L541.7 442.1M531.8 440.3L531.4 439.7M530.5 438.1L531.3 437.8M533 440.9L532.6 441.2M530 436.7L531.5 436.9M542.4 440.8L541.3 441.5L539.8 440.7M537.1 438.1L538.7 438.7L540.1 439.1L538.6 439.7M540.6 437.3L539.7 438.9L538 439.9M539.6 436.5L538.6 434.6L539.7 434.6M537.9 426.4L538.3 426.6M439.3 455.3L439.2 457.4L438.7 456.1L437.7 457.2M439.6 466.9L441.6 467.4L442.3 466.4M447.3 456.4L446.6 457.3L446 458.1L447.1 458.1M438.8 452L437.4 452.4L438.3 451.6M436.3 452.7L434.8 452M443 448.7L444.5 447.2L445.9 448.6M443.4 447.2L443.3 446L442 444.9L440.8 444.7M559.2 459L559.3 460.3L560.5 461.2M566.3 465.9L568.1 465.2L568.4 463.9L568.5 462.8M563.6 460.8L561.6 460.8L562.5 459.2M565.5 463.3L563.6 463L563.5 464.6L564.3 464M578 445L579.7 444.4L579 445.6M569.3 434.8L569.7 434.8M495 471.7L493.5 473.2L493.9 474.3M489.5 473.5L491.5 474.2L492.2 475.1L491.8 473.5M471.5 458.3L471.5 458.3M471.2 458L471.2 457.9M473.5 445.6L474 443.7L473.7 442.7M472.6 449L471.6 447.7L472.8 447.5L473.6 448.3M479.5 446.6L478.4 446.6L476.7 447.6L475.6 446.7M482 446.6L481.8 446.1L482.9 445.6M476.5 448.4L478.2 447.1L478.4 448.5M478.5 448.5L480.2 447.4M471.3 452.2L471.4 451.8M471.5 451.6L473.4 452.5L471.9 452.3M490.3 464.2L490.2 463.2M477.3 446.6L478 447.4L476.3 447" fill="none" stroke="#5a3030" stroke-width="0.6" stroke-linecap="round" opacity="0.85"/>
<path d="M480.4 496.7L481 496.7L481.7 496.7L482.3 496.5L482.8 496.1L482.8 496.1L482.9 496.1L483.1 496L483.1 495.9L483.3 495.8L483.4 495.8L483.6 495.6L483.7 495.6L483.9 495.5L483.9 495.5L484.2 495.3L484.3 495.3L484.5 495.2L484.6 495.2L484.9 495L484.9 495L485.2 494.9L485.3 494.9L485.6 494.7L485.6 494.7L486 494.6L486 494.6L486.4 494.5L486.4 494.5L486.8 494.3L486.8 494.3L487.2 494.2L487.2 494.2L487.6 494.1L487.6 494.1L488.1 494L488.1 493.9L488.5 493.8L488.5 493.8L489 493.7L489 493.7L489.4 493.6L489.5 493.6L489.9 493.5L489.9 493.5L490.4 493.4L490.4 493.4L490.9 493.3L491.4 493.2L492 493.1L492.5 493L493 492.9L493.6 492.8L494.1 492.7L494.7 492.6L495.3 492.6L495.9 492.5L496.5 492.4L497 492.4L497.6 492.3L498.3 492.2L498.9 492.2L499.5 492.1L500.1 492L500.7 492L501.4 492L502 491.9L502.6 491.9L503.3 491.8L503.9 491.8L504.6 491.8L505.2 491.7L505.9 491.7L506.6 491.7L507.2 491.7L507.9 491.6L508.5 491.6L509.2 491.6L509.9 491.6L510.5 491.6L511.2 491.6L511.9 491.6L512.5 491.6L513.2 491.6L513.9 491.6L514.5 491.6L515.2 491.6L515.9 491.7L516.5 491.7L517.2 491.7L517.8 491.7L518.5 491.8L519.1 491.8L519.8 491.8L520.4 491.9L521.1 491.9L521.7 491.9L522.4 492L523 492L523.6 492.1L524.2 492.2L524.8 492.2L525.4 492.3L526 492.3L526.6 492.4L527.2 492.5L527.8 492.6L528.4 492.6L528.9 492.7L529.5 492.8L530 492.9L530.6 493L531.1 493.1L531.6 493.2L532.2 493.3L532.7 493.4L532.7 493.4L533.2 493.5L533.2 493.5L533.6 493.6L533.7 493.6L534.1 493.7L534.1 493.7L534.6 493.8L534.6 493.8L535 493.9L535 494L535.5 494.1L535.5 494.1L535.9 494.2L535.9 494.2L536.3 494.3L536.3 494.3L536.7 494.5L536.7 494.5L537.1 494.6L537.1 494.6L537.5 494.7L537.5 494.7L537.8 494.9L537.9 494.9L538.2 495L538.2 495L538.5 495.2L538.6 495.2L538.8 495.3L538.9 495.3L539.2 495.5L539.2 495.5L539.4 495.6L539.5 495.6L539.7 495.8L539.8 495.8L540 495.9L540 496L540.2 496.1L540.3 496.1L540.3 496.1L540.8 496.5L541.4 496.7L542.1 496.7L542.7 496.7L544.1 496.4L544.2 496.4L547 495.7L547 495.7L549.8 494.9L549.9 494.9L552.5 494.1L552.6 494.1L555.2 493.3L555.3 493.3L557.8 492.4L557.9 492.4L560.4 491.4L560.5 491.4L562.8 490.4L562.9 490.4L565.2 489.4L565.3 489.3L567.5 488.3L567.6 488.2L569.7 487.1L569.8 487.1L571.8 485.9L571.9 485.9L573.8 484.7L573.9 484.6L575.7 483.4L575.8 483.4L577.6 482.1L577.7 482.1L579.2 480.8L579.4 480.7L580.8 479.4L580.9 479.3L582.3 478L582.4 477.9L583.7 476.6L583.8 476.5L584.9 475.1L585 475L586.1 473.6L586.2 473.5L587.1 472.1L587.2 472L587.9 470.6L588 470.4L588.7 469.1L588.8 468.9L589.4 467.5L589.4 467.3L589.9 466L589.9 465.7L590.3 464.4L590.3 464.2L590.5 462.8L590.6 462.6L590.7 461.2L590.7 461L590.7 459.6L590.7 459.4L590.6 458L590.5 457.8L590.3 456.4L590.3 456.2L589.9 454.9L589.9 454.6L589.4 453.3L589.4 453.1L588.8 451.7L588.7 451.5L588 450.2L587.9 450L587.2 448.6L587.1 448.5L586.2 447.1L586.1 447L585 445.6L584.9 445.5L583.8 444.1L583.7 444L582.4 442.7L582.3 442.6L580.9 441.3L580.8 441.2L579.4 439.9L579.2 439.8L577.7 438.5L577.6 438.5L575.8 437.2L575.7 437.2L573.9 436L573.8 435.9L571.9 434.7L571.8 434.7L569.8 433.5L569.7 433.5L567.6 432.4L567.5 432.3L565.3 431.3L565.2 431.2L562.9 430.2L562.8 430.2L560.5 429.2L560.4 429.2L557.9 428.2L557.8 428.2L555.3 427.3L555.2 427.3L552.6 426.5L552.5 426.5L549.9 425.7L549.8 425.7L547 424.9L547 424.9L544.2 424.2L544.1 424.2L542.7 423.9L542.1 423.9L541.4 423.9L540.8 424.1L540.3 424.5L540.3 424.5L540.2 424.5L540 424.6L540 424.7L539.8 424.8L539.7 424.8L539.5 425L539.4 425L539.2 425.1L539.2 425.1L538.9 425.3L538.8 425.3L538.6 425.4L538.5 425.4L538.2 425.6L538.2 425.6L537.9 425.7L537.8 425.7L537.5 425.9L537.5 425.9L537.1 426L537.1 426L536.7 426.1L536.7 426.1L536.3 426.3L536.3 426.3L535.9 426.4L535.9 426.4L535.5 426.5L535.5 426.5L535 426.6L535 426.7L534.6 426.8L534.6 426.8L534.1 426.9L534.1 426.9L533.7 427L533.6 427L533.2 427.1L533.2 427.1L532.7 427.2L532.7 427.2L532.2 427.3L531.7 427.4L531.1 427.5L530.6 427.6L530.1 427.7L529.5 427.8L529 427.9L528.4 428L527.8 428L527.2 428.1L526.6 428.2L526.1 428.2L525.5 428.3L524.8 428.4L524.2 428.4L523.6 428.5L523 428.6L522.4 428.6L521.7 428.6L521.1 428.7L520.5 428.7L519.8 428.8L519.2 428.8L518.5 428.8L517.9 428.9L517.2 428.9L516.5 428.9L515.9 428.9L515.2 429L514.6 429L513.9 429L513.2 429L512.6 429L511.9 429L511.2 429L510.6 429L509.9 429L509.2 429L508.6 429L507.9 429L507.2 428.9L506.6 428.9L505.9 428.9L505.3 428.9L504.6 428.8L504 428.8L503.3 428.8L502.7 428.7L502 428.7L501.4 428.7L500.7 428.6L500.1 428.6L499.5 428.5L498.9 428.4L498.3 428.4L497.7 428.3L497.1 428.3L496.5 428.2L495.9 428.1L495.3 428L494.7 428L494.2 427.9L493.6 427.8L493.1 427.7L492.5 427.6L492 427.5L491.5 427.4L490.9 427.3L490.4 427.2L490.4 427.2L489.9 427.1L489.9 427.1L489.5 427L489.4 427L489 426.9L489 426.9L488.5 426.8L488.5 426.8L488.1 426.7L488.1 426.6L487.6 426.5L487.6 426.5L487.2 426.4L487.2 426.4L486.8 426.3L486.8 426.3L486.4 426.1L486.4 426.1L486 426L486 426L485.6 425.9L485.6 425.9L485.3 425.7L485.2 425.7L484.9 425.6L484.9 425.6L484.6 425.4L484.5 425.4L484.3 425.3L484.2 425.3L483.9 425.1L483.9 425.1L483.7 425L483.6 425L483.4 424.8L483.3 424.8L483.1 424.7L483.1 424.6L482.9 424.5L482.8 424.5L482.8 424.5L482.3 424.1L481.7 423.9L481 423.9L480.4 423.9L479 424.2L478.9 424.2L476.1 424.9L476.1 424.9L473.3 425.7L473.2 425.7L470.6 426.5L470.5 426.5L467.9 427.3L467.8 427.3L465.3 428.2L465.2 428.2L462.7 429.2L462.6 429.2L460.3 430.2L460.2 430.2L457.9 431.2L457.8 431.3L455.6 432.3L455.5 432.4L453.4 433.5L453.3 433.5L451.3 434.7L451.2 434.7L449.3 435.9L449.2 436L447.4 437.2L447.3 437.2L445.5 438.5L445.4 438.5L443.9 439.8L443.7 439.9L442.3 441.2L442.2 441.3L440.8 442.6L440.7 442.7L439.4 444L439.3 444.1L438.2 445.5L438.1 445.6L437 447L436.9 447.1L436 448.5L435.9 448.6L435.2 450L435.1 450.2L434.4 451.5L434.3 451.7L433.7 453.1L433.7 453.3L433.2 454.6L433.2 454.9L432.8 456.2L432.8 456.4L432.6 457.8L432.5 458L432.4 459.4L432.4 459.6L432.4 461L432.4 461.2L432.5 462.6L432.6 462.8L432.8 464.2L432.8 464.4L433.2 465.7L433.2 466L433.7 467.3L433.7 467.5L434.3 468.9L434.4 469.1L435.1 470.4L435.2 470.6L435.9 472L436 472.1L436.9 473.5L437 473.6L438.1 475L438.2 475.1L439.3 476.5L439.4 476.6L440.7 477.9L440.8 478L442.2 479.3L442.3 479.4L443.7 480.7L443.9 480.8L445.4 482.1L445.5 482.1L447.3 483.4L447.4 483.4L449.2 484.6L449.3 484.7L451.2 485.9L451.3 485.9L453.3 487.1L453.4 487.1L455.5 488.2L455.6 488.3L457.8 489.3L457.9 489.4L460.2 490.4L460.3 490.4L462.6 491.4L462.7 491.4L465.2 492.4L465.3 492.4L467.8 493.3L467.9 493.3L470.5 494.1L470.6 494.1L473.2 494.9L473.3 494.9L476.1 495.7L476.1 495.7L478.9 496.4L479 496.4L480.4 496.7Z" fill="none" stroke="#000" stroke-width="2.6" stroke-linejoin="round"/>
<polygon points="502.8,445.6 503.7,447.9 506.2,448 504.2,449.6 504.9,452.1 502.8,450.7 500.7,452.1 501.4,449.6 499.4,448 501.9,447.9" fill="#1818ff"/>
</svg></body></html>
